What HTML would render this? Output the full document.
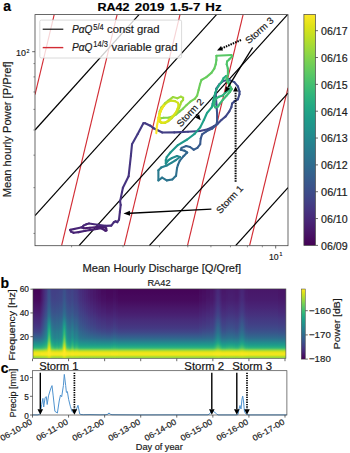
<!DOCTYPE html>
<html><head><meta charset="utf-8"><style>
html,body{margin:0;padding:0;background:#fff;width:350px;height:453px;overflow:hidden}
svg{display:block}
text{stroke:#1a1a1a;stroke-width:0.18px;paint-order:stroke}
</style></head><body>
<svg width="350" height="453" viewBox="0 0 350 453">
<rect width="350" height="453" fill="#fff"/>
<defs><clipPath id="ca"><rect x="35.0" y="14.6" width="253.0" height="231.1"/></clipPath>
<linearGradient id="vg" x1="0" y1="0" x2="0" y2="1"><stop offset="0.000" stop-color="#fde725"/><stop offset="0.050" stop-color="#dfe318"/><stop offset="0.100" stop-color="#bddf26"/><stop offset="0.150" stop-color="#9bd93c"/><stop offset="0.200" stop-color="#7ad151"/><stop offset="0.250" stop-color="#5ec962"/><stop offset="0.300" stop-color="#44bf70"/><stop offset="0.350" stop-color="#2fb47c"/><stop offset="0.400" stop-color="#22a884"/><stop offset="0.450" stop-color="#1e9c89"/><stop offset="0.500" stop-color="#21918c"/><stop offset="0.550" stop-color="#25848e"/><stop offset="0.600" stop-color="#2a788e"/><stop offset="0.650" stop-color="#2f6c8e"/><stop offset="0.700" stop-color="#355f8d"/><stop offset="0.750" stop-color="#3b528b"/><stop offset="0.800" stop-color="#414487"/><stop offset="0.850" stop-color="#463480"/><stop offset="0.900" stop-color="#482475"/><stop offset="0.950" stop-color="#471365"/><stop offset="1.000" stop-color="#440154"/></linearGradient>
</defs>
<g clip-path="url(#ca)">
<line x1="54.2" y1="14.6" x2="35" y2="94.6" stroke="#d22c34" stroke-width="1.15"/>
<line x1="117.1" y1="14.6" x2="61.6" y2="245.7" stroke="#d22c34" stroke-width="1.15"/>
<line x1="180" y1="14.6" x2="124.2" y2="245.7" stroke="#d22c34" stroke-width="1.15"/>
<line x1="243.1" y1="14.6" x2="187.5" y2="245.7" stroke="#d22c34" stroke-width="1.15"/>
<line x1="288" y1="87.8" x2="249.6" y2="245.7" stroke="#d22c34" stroke-width="1.15"/>
<line x1="35" y1="130" x2="139" y2="14.6" stroke="#000" stroke-width="1.2"/>
<line x1="35" y1="215.6" x2="216.5" y2="14.6" stroke="#000" stroke-width="1.2"/>
<line x1="79" y1="245.7" x2="287.5" y2="14.6" stroke="#000" stroke-width="1.2"/>
<line x1="149.3" y1="245.7" x2="288" y2="93.2" stroke="#000" stroke-width="1.2"/>
<line x1="235.6" y1="245.7" x2="288" y2="187.6" stroke="#000" stroke-width="1.2"/>
</g>
<g clip-path="url(#ca)"><line x1="81.3" y1="227.3" x2="83.9" y2="228.2" stroke="#481b6d" stroke-width="2.1" stroke-linecap="round" stroke-linejoin="round"/><line x1="83.9" y1="228.2" x2="90" y2="227.8" stroke="#481b6d" stroke-width="2.1" stroke-linecap="round" stroke-linejoin="round"/><line x1="90" y1="227.8" x2="97" y2="227" stroke="#481c6e" stroke-width="2.1" stroke-linecap="round" stroke-linejoin="round"/><line x1="97" y1="227" x2="103.6" y2="227" stroke="#481d6f" stroke-width="2.1" stroke-linecap="round" stroke-linejoin="round"/><line x1="103.6" y1="227" x2="106.2" y2="228.2" stroke="#481d6f" stroke-width="2.1" stroke-linecap="round" stroke-linejoin="round"/><line x1="106.2" y1="228.2" x2="106.5" y2="230.4" stroke="#481f70" stroke-width="2.1" stroke-linecap="round" stroke-linejoin="round"/><line x1="106.5" y1="230.4" x2="105.3" y2="230.7" stroke="#481f70" stroke-width="2.1" stroke-linecap="round" stroke-linejoin="round"/><line x1="105.3" y1="230.7" x2="102.7" y2="229" stroke="#481f70" stroke-width="2.1" stroke-linecap="round" stroke-linejoin="round"/><line x1="102.7" y1="229" x2="101" y2="228.2" stroke="#481f70" stroke-width="2.1" stroke-linecap="round" stroke-linejoin="round"/><line x1="101" y1="228.2" x2="96.7" y2="229" stroke="#482071" stroke-width="2.1" stroke-linecap="round" stroke-linejoin="round"/><line x1="96.7" y1="229" x2="90.7" y2="229.9" stroke="#482071" stroke-width="2.1" stroke-linecap="round" stroke-linejoin="round"/><line x1="90.7" y1="229.9" x2="85.6" y2="230.7" stroke="#482173" stroke-width="2.1" stroke-linecap="round" stroke-linejoin="round"/><line x1="85.6" y1="230.7" x2="78.7" y2="232.1" stroke="#482374" stroke-width="2.1" stroke-linecap="round" stroke-linejoin="round"/><line x1="78.7" y1="232.1" x2="73.6" y2="232.8" stroke="#482475" stroke-width="2.1" stroke-linecap="round" stroke-linejoin="round"/><line x1="73.6" y1="232.8" x2="71" y2="231.6" stroke="#482475" stroke-width="2.1" stroke-linecap="round" stroke-linejoin="round"/><line x1="71" y1="231.6" x2="70.1" y2="229.9" stroke="#482475" stroke-width="2.1" stroke-linecap="round" stroke-linejoin="round"/><line x1="70.1" y1="229.9" x2="82.2" y2="227.3" stroke="#482576" stroke-width="2.1" stroke-linecap="round" stroke-linejoin="round"/><line x1="82.2" y1="227.3" x2="83.5" y2="225.6" stroke="#482677" stroke-width="2.1" stroke-linecap="round" stroke-linejoin="round"/><line x1="83.5" y1="225.6" x2="86.4" y2="224.2" stroke="#482677" stroke-width="2.1" stroke-linecap="round" stroke-linejoin="round"/><line x1="86.4" y1="224.2" x2="89" y2="223.5" stroke="#482878" stroke-width="2.1" stroke-linecap="round" stroke-linejoin="round"/><line x1="89" y1="223.5" x2="97.6" y2="224.7" stroke="#482878" stroke-width="2.1" stroke-linecap="round" stroke-linejoin="round"/><line x1="97.6" y1="224.7" x2="105.3" y2="225.9" stroke="#482979" stroke-width="2.1" stroke-linecap="round" stroke-linejoin="round"/><line x1="105.3" y1="225.9" x2="111.3" y2="225.6" stroke="#472a7a" stroke-width="2.1" stroke-linecap="round" stroke-linejoin="round"/><line x1="111.3" y1="225.6" x2="113.9" y2="222.2" stroke="#472c7a" stroke-width="2.1" stroke-linecap="round" stroke-linejoin="round"/><line x1="113.9" y1="222.2" x2="115.6" y2="221.3" stroke="#472c7a" stroke-width="2.1" stroke-linecap="round" stroke-linejoin="round"/><line x1="115.6" y1="221.3" x2="117.3" y2="222.2" stroke="#472c7a" stroke-width="2.1" stroke-linecap="round" stroke-linejoin="round"/><line x1="117.3" y1="222.2" x2="119" y2="219.6" stroke="#472d7b" stroke-width="2.1" stroke-linecap="round" stroke-linejoin="round"/><line x1="119" y1="219.6" x2="119.9" y2="211.9" stroke="#472d7b" stroke-width="2.1" stroke-linecap="round" stroke-linejoin="round"/><line x1="119.9" y1="211.9" x2="120.7" y2="205" stroke="#472e7c" stroke-width="2.1" stroke-linecap="round" stroke-linejoin="round"/><line x1="120.7" y1="205" x2="120.1" y2="201.4" stroke="#472f7d" stroke-width="2.1" stroke-linecap="round" stroke-linejoin="round"/><line x1="120.1" y1="201.4" x2="122.9" y2="187.7" stroke="#46307e" stroke-width="2.1" stroke-linecap="round" stroke-linejoin="round"/><line x1="122.9" y1="187.7" x2="128.6" y2="176.3" stroke="#46337f" stroke-width="2.1" stroke-linecap="round" stroke-linejoin="round"/><line x1="128.6" y1="176.3" x2="130.9" y2="155.7" stroke="#463480" stroke-width="2.1" stroke-linecap="round" stroke-linejoin="round"/><line x1="130.9" y1="155.7" x2="132" y2="144.3" stroke="#453781" stroke-width="2.1" stroke-linecap="round" stroke-linejoin="round"/><line x1="132" y1="144.3" x2="137.7" y2="134" stroke="#443983" stroke-width="2.1" stroke-linecap="round" stroke-linejoin="round"/><line x1="137.7" y1="134" x2="143.4" y2="123.2" stroke="#443a83" stroke-width="2.1" stroke-linecap="round" stroke-linejoin="round"/><line x1="143.4" y1="123.2" x2="145.1" y2="123.2" stroke="#443b84" stroke-width="2.1" stroke-linecap="round" stroke-linejoin="round"/><line x1="145.1" y1="123.2" x2="150.3" y2="125.7" stroke="#443b84" stroke-width="2.1" stroke-linecap="round" stroke-linejoin="round"/><line x1="150.3" y1="125.7" x2="153.7" y2="128.3" stroke="#433d84" stroke-width="2.1" stroke-linecap="round" stroke-linejoin="round"/><line x1="153.7" y1="128.3" x2="157.2" y2="130" stroke="#433d84" stroke-width="2.1" stroke-linecap="round" stroke-linejoin="round"/><line x1="157.2" y1="130" x2="162.3" y2="132.5" stroke="#433e85" stroke-width="2.1" stroke-linecap="round" stroke-linejoin="round"/><line x1="162.3" y1="132.5" x2="174.3" y2="132.4" stroke="#423f85" stroke-width="2.1" stroke-linecap="round" stroke-linejoin="round"/><line x1="174.3" y1="132.4" x2="188" y2="131.7" stroke="#424086" stroke-width="2.1" stroke-linecap="round" stroke-linejoin="round"/><line x1="188" y1="131.7" x2="200" y2="131" stroke="#414287" stroke-width="2.1" stroke-linecap="round" stroke-linejoin="round"/><line x1="200" y1="131" x2="207.9" y2="129.3" stroke="#414487" stroke-width="2.1" stroke-linecap="round" stroke-linejoin="round"/><line x1="207.9" y1="129.3" x2="213.6" y2="126.4" stroke="#404588" stroke-width="2.1" stroke-linecap="round" stroke-linejoin="round"/><line x1="213.6" y1="126.4" x2="217.9" y2="123.6" stroke="#404588" stroke-width="2.1" stroke-linecap="round" stroke-linejoin="round"/><line x1="217.9" y1="123.6" x2="221.4" y2="120" stroke="#404688" stroke-width="2.1" stroke-linecap="round" stroke-linejoin="round"/><line x1="221.4" y1="120" x2="225.7" y2="116.4" stroke="#3f4788" stroke-width="2.1" stroke-linecap="round" stroke-linejoin="round"/><line x1="225.7" y1="116.4" x2="229.3" y2="111.4" stroke="#3f4788" stroke-width="2.1" stroke-linecap="round" stroke-linejoin="round"/><line x1="229.3" y1="111.4" x2="231.4" y2="107.1" stroke="#3f4889" stroke-width="2.1" stroke-linecap="round" stroke-linejoin="round"/><line x1="231.4" y1="107.1" x2="232.1" y2="103.6" stroke="#3f4889" stroke-width="2.1" stroke-linecap="round" stroke-linejoin="round"/><line x1="232.1" y1="103.6" x2="234.3" y2="101.4" stroke="#3e4989" stroke-width="2.1" stroke-linecap="round" stroke-linejoin="round"/><line x1="234.3" y1="101.4" x2="237.9" y2="99.3" stroke="#3e4989" stroke-width="2.1" stroke-linecap="round" stroke-linejoin="round"/><line x1="237.9" y1="99.3" x2="239.5" y2="94.3" stroke="#3e4a89" stroke-width="2.1" stroke-linecap="round" stroke-linejoin="round"/><line x1="239.5" y1="94.3" x2="239.5" y2="91.5" stroke="#3e4a89" stroke-width="2.1" stroke-linecap="round" stroke-linejoin="round"/><line x1="239.5" y1="91.5" x2="237.9" y2="86.4" stroke="#3e4c8a" stroke-width="2.1" stroke-linecap="round" stroke-linejoin="round"/><line x1="237.9" y1="86.4" x2="234.3" y2="82.1" stroke="#3e4c8a" stroke-width="2.1" stroke-linecap="round" stroke-linejoin="round"/><line x1="234.3" y1="82.1" x2="229.3" y2="80" stroke="#3d4d8a" stroke-width="2.1" stroke-linecap="round" stroke-linejoin="round"/><line x1="229.3" y1="80" x2="223.6" y2="80.7" stroke="#3d4e8a" stroke-width="2.1" stroke-linecap="round" stroke-linejoin="round"/><line x1="223.6" y1="80.7" x2="219.3" y2="84.3" stroke="#3d4e8a" stroke-width="2.1" stroke-linecap="round" stroke-linejoin="round"/><line x1="219.3" y1="84.3" x2="216.4" y2="88.6" stroke="#3c4f8a" stroke-width="2.1" stroke-linecap="round" stroke-linejoin="round"/><line x1="216.4" y1="88.6" x2="215.7" y2="92.9" stroke="#3c4f8a" stroke-width="2.1" stroke-linecap="round" stroke-linejoin="round"/><line x1="215.7" y1="92.9" x2="216.4" y2="104.3" stroke="#3c508b" stroke-width="2.1" stroke-linecap="round" stroke-linejoin="round"/><line x1="216.4" y1="104.3" x2="217.1" y2="112.9" stroke="#3b528b" stroke-width="2.1" stroke-linecap="round" stroke-linejoin="round"/><line x1="217.1" y1="112.9" x2="217.1" y2="121.4" stroke="#3a538b" stroke-width="2.1" stroke-linecap="round" stroke-linejoin="round"/><line x1="217.1" y1="121.4" x2="216.4" y2="125" stroke="#3a538b" stroke-width="2.1" stroke-linecap="round" stroke-linejoin="round"/><line x1="216.4" y1="125" x2="212.1" y2="128.6" stroke="#3a548c" stroke-width="2.1" stroke-linecap="round" stroke-linejoin="round"/><line x1="212.1" y1="128.6" x2="206.4" y2="131.4" stroke="#3a548c" stroke-width="2.1" stroke-linecap="round" stroke-linejoin="round"/><line x1="206.4" y1="131.4" x2="202.1" y2="134.3" stroke="#39558c" stroke-width="2.1" stroke-linecap="round" stroke-linejoin="round"/><line x1="202.1" y1="134.3" x2="200.7" y2="138.6" stroke="#39568c" stroke-width="2.1" stroke-linecap="round" stroke-linejoin="round"/><line x1="200.7" y1="138.6" x2="200.2" y2="144.2" stroke="#38588c" stroke-width="2.1" stroke-linecap="round" stroke-linejoin="round"/><line x1="200.2" y1="144.2" x2="197.4" y2="147.9" stroke="#375a8c" stroke-width="2.1" stroke-linecap="round" stroke-linejoin="round"/><line x1="197.4" y1="147.9" x2="193.7" y2="149.7" stroke="#365c8d" stroke-width="2.1" stroke-linecap="round" stroke-linejoin="round"/><line x1="193.7" y1="149.7" x2="190" y2="147" stroke="#365d8d" stroke-width="2.1" stroke-linecap="round" stroke-linejoin="round"/><line x1="190" y1="147" x2="186.2" y2="146" stroke="#355f8d" stroke-width="2.1" stroke-linecap="round" stroke-linejoin="round"/><line x1="186.2" y1="146" x2="181.6" y2="147.9" stroke="#34618d" stroke-width="2.1" stroke-linecap="round" stroke-linejoin="round"/><line x1="181.6" y1="147.9" x2="180.7" y2="149.7" stroke="#33628d" stroke-width="2.1" stroke-linecap="round" stroke-linejoin="round"/><line x1="180.7" y1="149.7" x2="184.4" y2="150.7" stroke="#33638d" stroke-width="2.1" stroke-linecap="round" stroke-linejoin="round"/><line x1="184.4" y1="150.7" x2="187.2" y2="152.5" stroke="#32658e" stroke-width="2.1" stroke-linecap="round" stroke-linejoin="round"/><line x1="187.2" y1="152.5" x2="183.5" y2="156.2" stroke="#31668e" stroke-width="2.1" stroke-linecap="round" stroke-linejoin="round"/><line x1="183.5" y1="156.2" x2="179.7" y2="160.9" stroke="#31688e" stroke-width="2.1" stroke-linecap="round" stroke-linejoin="round"/><line x1="179.7" y1="160.9" x2="177.9" y2="165" stroke="#2f6b8e" stroke-width="2.1" stroke-linecap="round" stroke-linejoin="round"/><line x1="177.9" y1="165" x2="177" y2="168.3" stroke="#2f6c8e" stroke-width="2.1" stroke-linecap="round" stroke-linejoin="round"/><line x1="177" y1="168.3" x2="176" y2="175.8" stroke="#2e6e8e" stroke-width="2.1" stroke-linecap="round" stroke-linejoin="round"/><line x1="176" y1="175.8" x2="172.3" y2="179.5" stroke="#2d718e" stroke-width="2.1" stroke-linecap="round" stroke-linejoin="round"/><line x1="172.3" y1="179.5" x2="166.7" y2="180.4" stroke="#2c728e" stroke-width="2.1" stroke-linecap="round" stroke-linejoin="round"/><line x1="166.7" y1="180.4" x2="162.1" y2="177.6" stroke="#2b748e" stroke-width="2.1" stroke-linecap="round" stroke-linejoin="round"/><line x1="162.1" y1="177.6" x2="158.4" y2="180.4" stroke="#2a768e" stroke-width="2.1" stroke-linecap="round" stroke-linejoin="round"/><line x1="158.4" y1="180.4" x2="158.4" y2="170.2" stroke="#29798e" stroke-width="2.1" stroke-linecap="round" stroke-linejoin="round"/><line x1="158.4" y1="170.2" x2="161.2" y2="167.4" stroke="#287d8e" stroke-width="2.1" stroke-linecap="round" stroke-linejoin="round"/><line x1="161.2" y1="167.4" x2="166.7" y2="165.5" stroke="#277f8e" stroke-width="2.1" stroke-linecap="round" stroke-linejoin="round"/><line x1="166.7" y1="165.5" x2="171.4" y2="162.8" stroke="#26828e" stroke-width="2.1" stroke-linecap="round" stroke-linejoin="round"/><line x1="171.4" y1="162.8" x2="176" y2="160" stroke="#25848e" stroke-width="2.1" stroke-linecap="round" stroke-linejoin="round"/><line x1="176" y1="160" x2="180" y2="157" stroke="#24868e" stroke-width="2.1" stroke-linecap="round" stroke-linejoin="round"/><line x1="180" y1="157" x2="177" y2="156" stroke="#23888e" stroke-width="2.1" stroke-linecap="round" stroke-linejoin="round"/><line x1="177" y1="156" x2="172" y2="158" stroke="#228b8d" stroke-width="2.1" stroke-linecap="round" stroke-linejoin="round"/><line x1="172" y1="158" x2="168.6" y2="160" stroke="#228d8d" stroke-width="2.1" stroke-linecap="round" stroke-linejoin="round"/><line x1="168.6" y1="160" x2="165.8" y2="163.7" stroke="#218f8d" stroke-width="2.1" stroke-linecap="round" stroke-linejoin="round"/><line x1="165.8" y1="163.7" x2="165.8" y2="160" stroke="#21918c" stroke-width="2.1" stroke-linecap="round" stroke-linejoin="round"/><line x1="165.8" y1="160" x2="166.7" y2="157.2" stroke="#20928c" stroke-width="2.1" stroke-linecap="round" stroke-linejoin="round"/><line x1="166.7" y1="157.2" x2="170.4" y2="152.5" stroke="#20938c" stroke-width="2.1" stroke-linecap="round" stroke-linejoin="round"/><line x1="170.4" y1="152.5" x2="177.9" y2="145.1" stroke="#1f958b" stroke-width="2.1" stroke-linecap="round" stroke-linejoin="round"/><line x1="177.9" y1="145.1" x2="187.2" y2="139.5" stroke="#1f988b" stroke-width="2.1" stroke-linecap="round" stroke-linejoin="round"/><line x1="187.2" y1="139.5" x2="194.6" y2="133.9" stroke="#1e9b8a" stroke-width="2.1" stroke-linecap="round" stroke-linejoin="round"/><line x1="194.6" y1="133.9" x2="200.2" y2="127.4" stroke="#1e9d89" stroke-width="2.1" stroke-linecap="round" stroke-linejoin="round"/><line x1="200.2" y1="127.4" x2="203.9" y2="120" stroke="#1f9f88" stroke-width="2.1" stroke-linecap="round" stroke-linejoin="round"/><line x1="203.9" y1="120" x2="207" y2="113" stroke="#1fa188" stroke-width="2.1" stroke-linecap="round" stroke-linejoin="round"/><line x1="207" y1="113" x2="211.7" y2="107.4" stroke="#1fa287" stroke-width="2.1" stroke-linecap="round" stroke-linejoin="round"/><line x1="211.7" y1="107.4" x2="212.6" y2="103.7" stroke="#20a386" stroke-width="2.1" stroke-linecap="round" stroke-linejoin="round"/><line x1="212.6" y1="103.7" x2="213.5" y2="100" stroke="#20a486" stroke-width="2.1" stroke-linecap="round" stroke-linejoin="round"/><line x1="213.5" y1="100" x2="214.4" y2="96.3" stroke="#21a585" stroke-width="2.1" stroke-linecap="round" stroke-linejoin="round"/><line x1="214.4" y1="96.3" x2="215.3" y2="92.7" stroke="#21a685" stroke-width="2.1" stroke-linecap="round" stroke-linejoin="round"/><line x1="215.3" y1="92.7" x2="216.7" y2="89" stroke="#22a785" stroke-width="2.1" stroke-linecap="round" stroke-linejoin="round"/><line x1="216.7" y1="89" x2="219" y2="85.3" stroke="#22a884" stroke-width="2.1" stroke-linecap="round" stroke-linejoin="round"/><line x1="219" y1="85.3" x2="221.8" y2="81.7" stroke="#23a983" stroke-width="2.1" stroke-linecap="round" stroke-linejoin="round"/><line x1="221.8" y1="81.7" x2="223.6" y2="78" stroke="#25ab82" stroke-width="2.1" stroke-linecap="round" stroke-linejoin="round"/><line x1="223.6" y1="78" x2="226" y2="76" stroke="#25ab82" stroke-width="2.1" stroke-linecap="round" stroke-linejoin="round"/><line x1="226" y1="76" x2="228" y2="79" stroke="#25ac82" stroke-width="2.1" stroke-linecap="round" stroke-linejoin="round"/><line x1="228" y1="79" x2="229" y2="84" stroke="#26ad81" stroke-width="2.1" stroke-linecap="round" stroke-linejoin="round"/><line x1="229" y1="84" x2="230.9" y2="88.1" stroke="#28ae80" stroke-width="2.1" stroke-linecap="round" stroke-linejoin="round"/><line x1="230.9" y1="88.1" x2="229.1" y2="89.9" stroke="#29af7f" stroke-width="2.1" stroke-linecap="round" stroke-linejoin="round"/><line x1="229.1" y1="89.9" x2="225.4" y2="92.7" stroke="#2ab07f" stroke-width="2.1" stroke-linecap="round" stroke-linejoin="round"/><line x1="225.4" y1="92.7" x2="222.7" y2="95.4" stroke="#2cb17e" stroke-width="2.1" stroke-linecap="round" stroke-linejoin="round"/><line x1="222.7" y1="95.4" x2="219" y2="96.8" stroke="#2db27d" stroke-width="2.1" stroke-linecap="round" stroke-linejoin="round"/><line x1="219" y1="96.8" x2="216.3" y2="98.2" stroke="#2fb47c" stroke-width="2.1" stroke-linecap="round" stroke-linejoin="round"/><line x1="216.3" y1="98.2" x2="214.4" y2="101.9" stroke="#31b57b" stroke-width="2.1" stroke-linecap="round" stroke-linejoin="round"/><line x1="214.4" y1="101.9" x2="214" y2="105.5" stroke="#32b67a" stroke-width="2.1" stroke-linecap="round" stroke-linejoin="round"/><line x1="214" y1="105.5" x2="215.3" y2="107.4" stroke="#34b679" stroke-width="2.1" stroke-linecap="round" stroke-linejoin="round"/><line x1="215.3" y1="107.4" x2="218.1" y2="106.4" stroke="#35b779" stroke-width="2.1" stroke-linecap="round" stroke-linejoin="round"/><line x1="218.1" y1="106.4" x2="219.9" y2="103.7" stroke="#37b878" stroke-width="2.1" stroke-linecap="round" stroke-linejoin="round"/><line x1="219.9" y1="103.7" x2="222.7" y2="100" stroke="#38b977" stroke-width="2.1" stroke-linecap="round" stroke-linejoin="round"/><line x1="222.7" y1="100" x2="226.3" y2="96" stroke="#3bbb75" stroke-width="2.1" stroke-linecap="round" stroke-linejoin="round"/><line x1="226.3" y1="96" x2="230" y2="91.8" stroke="#3dbc74" stroke-width="2.1" stroke-linecap="round" stroke-linejoin="round"/><line x1="230" y1="91.8" x2="231.9" y2="89" stroke="#40bd72" stroke-width="2.1" stroke-linecap="round" stroke-linejoin="round"/><line x1="231.9" y1="89" x2="230" y2="86" stroke="#42be71" stroke-width="2.1" stroke-linecap="round" stroke-linejoin="round"/><line x1="230" y1="86" x2="227.5" y2="82" stroke="#44bf70" stroke-width="2.1" stroke-linecap="round" stroke-linejoin="round"/><line x1="227.5" y1="82" x2="226.4" y2="79" stroke="#48c16e" stroke-width="2.1" stroke-linecap="round" stroke-linejoin="round"/><line x1="226.4" y1="79" x2="227.9" y2="74.3" stroke="#4ac16d" stroke-width="2.1" stroke-linecap="round" stroke-linejoin="round"/><line x1="227.9" y1="74.3" x2="227.9" y2="68.6" stroke="#4cc26c" stroke-width="2.1" stroke-linecap="round" stroke-linejoin="round"/><line x1="227.9" y1="68.6" x2="226.7" y2="64.3" stroke="#4ec36b" stroke-width="2.1" stroke-linecap="round" stroke-linejoin="round"/><line x1="226.7" y1="64.3" x2="227.1" y2="61.4" stroke="#50c46a" stroke-width="2.1" stroke-linecap="round" stroke-linejoin="round"/><line x1="227.1" y1="61.4" x2="229.3" y2="59.3" stroke="#50c46a" stroke-width="2.1" stroke-linecap="round" stroke-linejoin="round"/><line x1="229.3" y1="59.3" x2="232.1" y2="56.4" stroke="#52c569" stroke-width="2.1" stroke-linecap="round" stroke-linejoin="round"/><line x1="232.1" y1="56.4" x2="231.4" y2="55" stroke="#54c568" stroke-width="2.1" stroke-linecap="round" stroke-linejoin="round"/><line x1="231.4" y1="55" x2="216.4" y2="55.7" stroke="#58c765" stroke-width="2.1" stroke-linecap="round" stroke-linejoin="round"/><line x1="216.4" y1="55.7" x2="216.4" y2="60" stroke="#5cc863" stroke-width="2.1" stroke-linecap="round" stroke-linejoin="round"/><line x1="216.4" y1="60" x2="215.7" y2="64.3" stroke="#5ec962" stroke-width="2.1" stroke-linecap="round" stroke-linejoin="round"/><line x1="215.7" y1="64.3" x2="214.3" y2="68.6" stroke="#60ca60" stroke-width="2.1" stroke-linecap="round" stroke-linejoin="round"/><line x1="214.3" y1="68.6" x2="211.4" y2="72.9" stroke="#63cb5f" stroke-width="2.1" stroke-linecap="round" stroke-linejoin="round"/><line x1="211.4" y1="72.9" x2="206.4" y2="77.1" stroke="#65cb5e" stroke-width="2.1" stroke-linecap="round" stroke-linejoin="round"/><line x1="206.4" y1="77.1" x2="201.4" y2="80" stroke="#67cc5c" stroke-width="2.1" stroke-linecap="round" stroke-linejoin="round"/><line x1="201.4" y1="80" x2="200" y2="84.3" stroke="#69cd5b" stroke-width="2.1" stroke-linecap="round" stroke-linejoin="round"/><line x1="200" y1="84.3" x2="198.6" y2="90" stroke="#6ccd5a" stroke-width="2.1" stroke-linecap="round" stroke-linejoin="round"/><line x1="198.6" y1="90" x2="197.1" y2="95.7" stroke="#70cf57" stroke-width="2.1" stroke-linecap="round" stroke-linejoin="round"/><line x1="197.1" y1="95.7" x2="195" y2="98.6" stroke="#73d056" stroke-width="2.1" stroke-linecap="round" stroke-linejoin="round"/><line x1="195" y1="98.6" x2="190.3" y2="101.7" stroke="#75d054" stroke-width="2.1" stroke-linecap="round" stroke-linejoin="round"/><line x1="190.3" y1="101.7" x2="186.6" y2="105.1" stroke="#77d153" stroke-width="2.1" stroke-linecap="round" stroke-linejoin="round"/><line x1="186.6" y1="105.1" x2="183.1" y2="108.6" stroke="#7ad151" stroke-width="2.1" stroke-linecap="round" stroke-linejoin="round"/><line x1="183.1" y1="108.6" x2="179.7" y2="111.4" stroke="#7cd250" stroke-width="2.1" stroke-linecap="round" stroke-linejoin="round"/><line x1="179.7" y1="111.4" x2="176.3" y2="114.3" stroke="#7fd34e" stroke-width="2.1" stroke-linecap="round" stroke-linejoin="round"/><line x1="176.3" y1="114.3" x2="172.3" y2="116.6" stroke="#81d34d" stroke-width="2.1" stroke-linecap="round" stroke-linejoin="round"/><line x1="172.3" y1="116.6" x2="168.3" y2="117.7" stroke="#84d44b" stroke-width="2.1" stroke-linecap="round" stroke-linejoin="round"/><line x1="168.3" y1="117.7" x2="163.7" y2="117.7" stroke="#86d549" stroke-width="2.1" stroke-linecap="round" stroke-linejoin="round"/><line x1="163.7" y1="117.7" x2="160.9" y2="118.3" stroke="#89d548" stroke-width="2.1" stroke-linecap="round" stroke-linejoin="round"/><line x1="160.9" y1="118.3" x2="159.1" y2="120" stroke="#89d548" stroke-width="2.1" stroke-linecap="round" stroke-linejoin="round"/><line x1="159.1" y1="120" x2="159.1" y2="116" stroke="#8bd646" stroke-width="2.1" stroke-linecap="round" stroke-linejoin="round"/><line x1="159.1" y1="116" x2="159.7" y2="111.4" stroke="#8ed645" stroke-width="2.1" stroke-linecap="round" stroke-linejoin="round"/><line x1="159.7" y1="111.4" x2="161.4" y2="107.4" stroke="#90d743" stroke-width="2.1" stroke-linecap="round" stroke-linejoin="round"/><line x1="161.4" y1="107.4" x2="164.9" y2="103.4" stroke="#93d741" stroke-width="2.1" stroke-linecap="round" stroke-linejoin="round"/><line x1="164.9" y1="103.4" x2="168.3" y2="100.6" stroke="#95d840" stroke-width="2.1" stroke-linecap="round" stroke-linejoin="round"/><line x1="168.3" y1="100.6" x2="172.9" y2="97.1" stroke="#98d83e" stroke-width="2.1" stroke-linecap="round" stroke-linejoin="round"/><line x1="172.9" y1="97.1" x2="177.4" y2="98.3" stroke="#9bd93c" stroke-width="2.1" stroke-linecap="round" stroke-linejoin="round"/><line x1="177.4" y1="98.3" x2="180.9" y2="96.6" stroke="#9dd93b" stroke-width="2.1" stroke-linecap="round" stroke-linejoin="round"/><line x1="180.9" y1="96.6" x2="183.1" y2="97.7" stroke="#a0da39" stroke-width="2.1" stroke-linecap="round" stroke-linejoin="round"/><line x1="183.1" y1="97.7" x2="183.1" y2="100" stroke="#a2da37" stroke-width="2.1" stroke-linecap="round" stroke-linejoin="round"/><line x1="183.1" y1="100" x2="181.4" y2="101.7" stroke="#a2da37" stroke-width="2.1" stroke-linecap="round" stroke-linejoin="round"/><line x1="181.4" y1="101.7" x2="180.3" y2="104.6" stroke="#a5db36" stroke-width="2.1" stroke-linecap="round" stroke-linejoin="round"/><line x1="180.3" y1="104.6" x2="179.1" y2="108" stroke="#a8db34" stroke-width="2.1" stroke-linecap="round" stroke-linejoin="round"/><line x1="179.1" y1="108" x2="177.4" y2="111.4" stroke="#aadc32" stroke-width="2.1" stroke-linecap="round" stroke-linejoin="round"/><line x1="177.4" y1="111.4" x2="174.6" y2="114.9" stroke="#addc30" stroke-width="2.1" stroke-linecap="round" stroke-linejoin="round"/><line x1="174.6" y1="114.9" x2="171.7" y2="118.3" stroke="#b0dd2f" stroke-width="2.1" stroke-linecap="round" stroke-linejoin="round"/><line x1="171.7" y1="118.3" x2="168.3" y2="121.1" stroke="#b2dd2d" stroke-width="2.1" stroke-linecap="round" stroke-linejoin="round"/><line x1="168.3" y1="121.1" x2="164.9" y2="122.9" stroke="#b5de2b" stroke-width="2.1" stroke-linecap="round" stroke-linejoin="round"/><line x1="164.9" y1="122.9" x2="161.4" y2="122.9" stroke="#b5de2b" stroke-width="2.1" stroke-linecap="round" stroke-linejoin="round"/><line x1="161.4" y1="122.9" x2="159.1" y2="121.1" stroke="#b8de29" stroke-width="2.1" stroke-linecap="round" stroke-linejoin="round"/><line x1="159.1" y1="121.1" x2="158.6" y2="117.7" stroke="#bade28" stroke-width="2.1" stroke-linecap="round" stroke-linejoin="round"/><line x1="158.6" y1="117.7" x2="160.9" y2="110.3" stroke="#bddf26" stroke-width="2.1" stroke-linecap="round" stroke-linejoin="round"/><line x1="160.9" y1="110.3" x2="163.7" y2="105.7" stroke="#c2df23" stroke-width="2.1" stroke-linecap="round" stroke-linejoin="round"/><line x1="163.7" y1="105.7" x2="167.1" y2="102.3" stroke="#c5e021" stroke-width="2.1" stroke-linecap="round" stroke-linejoin="round"/><line x1="167.1" y1="102.3" x2="171.1" y2="100.6" stroke="#c8e020" stroke-width="2.1" stroke-linecap="round" stroke-linejoin="round"/><line x1="171.1" y1="100.6" x2="175.1" y2="101.1" stroke="#cae11f" stroke-width="2.1" stroke-linecap="round" stroke-linejoin="round"/><line x1="175.1" y1="101.1" x2="178" y2="102.9" stroke="#cde11d" stroke-width="2.1" stroke-linecap="round" stroke-linejoin="round"/><line x1="178" y1="102.9" x2="178.6" y2="105.7" stroke="#d0e11c" stroke-width="2.1" stroke-linecap="round" stroke-linejoin="round"/><line x1="178.6" y1="105.7" x2="177.4" y2="109.1" stroke="#d2e21b" stroke-width="2.1" stroke-linecap="round" stroke-linejoin="round"/><line x1="177.4" y1="109.1" x2="175.7" y2="112.6" stroke="#d5e21a" stroke-width="2.1" stroke-linecap="round" stroke-linejoin="round"/><line x1="175.7" y1="112.6" x2="172.9" y2="116" stroke="#d8e219" stroke-width="2.1" stroke-linecap="round" stroke-linejoin="round"/><line x1="172.9" y1="116" x2="169.4" y2="119.4" stroke="#dae319" stroke-width="2.1" stroke-linecap="round" stroke-linejoin="round"/><line x1="169.4" y1="119.4" x2="166" y2="122.3" stroke="#dde318" stroke-width="2.1" stroke-linecap="round" stroke-linejoin="round"/><line x1="166" y1="122.3" x2="162.6" y2="122.9" stroke="#dfe318" stroke-width="2.1" stroke-linecap="round" stroke-linejoin="round"/><line x1="162.6" y1="122.9" x2="160.3" y2="121.7" stroke="#e2e418" stroke-width="2.1" stroke-linecap="round" stroke-linejoin="round"/><line x1="160.3" y1="121.7" x2="159.7" y2="118.3" stroke="#e2e418" stroke-width="2.1" stroke-linecap="round" stroke-linejoin="round"/><line x1="159.7" y1="118.3" x2="159.1" y2="114.9" stroke="#e5e419" stroke-width="2.1" stroke-linecap="round" stroke-linejoin="round"/><line x1="159.1" y1="114.9" x2="160.9" y2="110.3" stroke="#e7e419" stroke-width="2.1" stroke-linecap="round" stroke-linejoin="round"/><line x1="160.9" y1="110.3" x2="163.7" y2="105.7" stroke="#ece51b" stroke-width="2.1" stroke-linecap="round" stroke-linejoin="round"/><line x1="163.7" y1="105.7" x2="162" y2="108" stroke="#efe51c" stroke-width="2.1" stroke-linecap="round" stroke-linejoin="round"/><line x1="162" y1="108" x2="159.1" y2="114.9" stroke="#f1e51d" stroke-width="2.1" stroke-linecap="round" stroke-linejoin="round"/><line x1="159.1" y1="114.9" x2="158" y2="120.6" stroke="#f6e620" stroke-width="2.1" stroke-linecap="round" stroke-linejoin="round"/><line x1="158" y1="120.6" x2="156.9" y2="126.3" stroke="#f8e621" stroke-width="2.1" stroke-linecap="round" stroke-linejoin="round"/><line x1="156.9" y1="126.3" x2="156.3" y2="133.1" stroke="#fde725" stroke-width="2.1" stroke-linecap="round" stroke-linejoin="round"/></g>
<line x1="211.4" y1="209.1" x2="129.99" y2="213.18" stroke="#000" stroke-width="1.4"/><polygon points="123.5,213.5 129.87,210.68 130.12,215.67" fill="#000"/><line x1="235.6" y1="181.8" x2="235.60" y2="91.60" stroke="#000" stroke-width="2.0" stroke-dasharray="1.5 1.0"/><polygon points="235.6,86.3 238.10,91.60 233.10,91.60" fill="#000"/><line x1="252.6" y1="47.5" x2="227.95" y2="87.49" stroke="#000" stroke-width="1.4"/><polygon points="224.8,92.6 225.82,86.18 230.08,88.80" fill="#000"/><line x1="241" y1="40" x2="222.04" y2="48.30" stroke="#000" stroke-width="2.0" stroke-dasharray="1.5 1.0"/><polygon points="217,50.5 221.04,46.01 223.04,50.59" fill="#000"/><line x1="196" y1="114.5" x2="197.20" y2="115.96" stroke="#000" stroke-width="1.2"/><polygon points="200.7,120.2 195.27,117.55 199.13,114.37" fill="#000"/><text transform="translate(229.5,199.2) rotate(-47)" x="-17.25" y="3.38" font-family="Liberation Sans, sans-serif" font-size="9.4" fill="#1a1a1a" textLength="34.5" lengthAdjust="spacingAndGlyphs">Storm 1</text><text transform="translate(190,112.5) rotate(-47)" x="-17.25" y="3.38" font-family="Liberation Sans, sans-serif" font-size="9.4" fill="#1a1a1a" textLength="34.5" lengthAdjust="spacingAndGlyphs">Storm 2</text><text transform="translate(259.3,30.3) rotate(-42)" x="-17.25" y="3.38" font-family="Liberation Sans, sans-serif" font-size="9.4" fill="#1a1a1a" textLength="34.5" lengthAdjust="spacingAndGlyphs">Storm 3</text>
<rect x="39.8" y="20.1" width="141.8" height="37.9" rx="1.5" fill="#fff" fill-opacity="0.8" stroke="#d0d0d0" stroke-width="0.8"/>
<line x1="42.7" y1="29.2" x2="63.3" y2="29.2" stroke="#000" stroke-width="1.1"/>
<line x1="42.7" y1="47.6" x2="63.3" y2="47.6" stroke="#d22c34" stroke-width="1.4"/>
<text x="71.9" y="33.1" font-family="Liberation Sans, sans-serif" font-size="10.9" font-style="italic" fill="#1a1a1a" textLength="20.5" lengthAdjust="spacingAndGlyphs">PαQ</text>
<text x="93.3" y="29.5" font-family="Liberation Sans, sans-serif" font-size="8.3" fill="#1a1a1a" textLength="10.3" lengthAdjust="spacingAndGlyphs">5/4</text>
<text x="107" y="33.1" font-family="Liberation Sans, sans-serif" font-size="10.5" fill="#1a1a1a" textLength="52.6" lengthAdjust="spacingAndGlyphs">const grad</text>
<text x="71.9" y="50.9" font-family="Liberation Sans, sans-serif" font-size="10.9" font-style="italic" fill="#1a1a1a" textLength="20.5" lengthAdjust="spacingAndGlyphs">PαQ</text>
<text x="93.3" y="47.3" font-family="Liberation Sans, sans-serif" font-size="8.3" fill="#1a1a1a" textLength="14.6" lengthAdjust="spacingAndGlyphs">14/3</text>
<text x="111.6" y="50.9" font-family="Liberation Sans, sans-serif" font-size="10.5" fill="#1a1a1a" textLength="66.0" lengthAdjust="spacingAndGlyphs">variable grad</text>
<rect x="35.0" y="14.6" width="253.0" height="231.1" fill="none" stroke="#444" stroke-width="0.8"/>
<line x1="71.60" y1="245.7" x2="71.60" y2="247.29999999999998" stroke="#444" stroke-width="0.6"/>
<line x1="123.02" y1="245.7" x2="123.02" y2="247.29999999999998" stroke="#444" stroke-width="0.6"/>
<line x1="159.50" y1="245.7" x2="159.50" y2="247.29999999999998" stroke="#444" stroke-width="0.6"/>
<line x1="187.80" y1="245.7" x2="187.80" y2="247.29999999999998" stroke="#444" stroke-width="0.6"/>
<line x1="210.92" y1="245.7" x2="210.92" y2="247.29999999999998" stroke="#444" stroke-width="0.6"/>
<line x1="230.47" y1="245.7" x2="230.47" y2="247.29999999999998" stroke="#444" stroke-width="0.6"/>
<line x1="247.40" y1="245.7" x2="247.40" y2="247.29999999999998" stroke="#444" stroke-width="0.6"/>
<line x1="262.34" y1="245.7" x2="262.34" y2="247.29999999999998" stroke="#444" stroke-width="0.6"/>
<line x1="275.70" y1="245.7" x2="275.70" y2="248.5" stroke="#444" stroke-width="0.8"/>
<line x1="33.4" y1="233.43" x2="35.0" y2="233.43" stroke="#444" stroke-width="0.6"/>
<line x1="33.4" y1="187.65" x2="35.0" y2="187.65" stroke="#444" stroke-width="0.6"/>
<line x1="33.4" y1="155.16" x2="35.0" y2="155.16" stroke="#444" stroke-width="0.6"/>
<line x1="33.4" y1="129.97" x2="35.0" y2="129.97" stroke="#444" stroke-width="0.6"/>
<line x1="33.4" y1="109.38" x2="35.0" y2="109.38" stroke="#444" stroke-width="0.6"/>
<line x1="33.4" y1="91.97" x2="35.0" y2="91.97" stroke="#444" stroke-width="0.6"/>
<line x1="33.4" y1="76.90" x2="35.0" y2="76.90" stroke="#444" stroke-width="0.6"/>
<line x1="33.4" y1="63.60" x2="35.0" y2="63.60" stroke="#444" stroke-width="0.6"/>
<line x1="32.2" y1="51.70" x2="35.0" y2="51.70" stroke="#444" stroke-width="0.8"/>
<text x="269" y="259.5" font-family="Liberation Sans, sans-serif" font-size="9" fill="#1a1a1a" textLength="9.7" lengthAdjust="spacingAndGlyphs">10</text><text x="279.6" y="256.1" font-family="Liberation Sans, sans-serif" font-size="5.2" fill="#1a1a1a">1</text>
<text x="16" y="56.1" font-family="Liberation Sans, sans-serif" font-size="9" fill="#1a1a1a" textLength="9.9" lengthAdjust="spacingAndGlyphs">10</text><text x="26.6" y="53.3" font-family="Liberation Sans, sans-serif" font-size="5.2" fill="#1a1a1a">2</text>
<text x="82.5" y="271.8" font-family="Liberation Sans, sans-serif" font-size="10.3" fill="#1a1a1a" textLength="158.7" lengthAdjust="spacingAndGlyphs">Mean Hourly Discharge [Q/Qref]</text>
<text transform="translate(10.6,197.3) rotate(-90)" x="0" y="0" font-family="Liberation Sans, sans-serif" font-size="10.3" fill="#1a1a1a" textLength="136" lengthAdjust="spacingAndGlyphs">Mean hourly Power [P/Pref]</text>
<text x="97.4" y="10.5" font-family="Liberation Sans, sans-serif" font-size="11.4" font-weight="bold" fill="#000" textLength="32.0" lengthAdjust="spacingAndGlyphs">RA42</text>
<text x="134.8" y="10.5" font-family="Liberation Sans, sans-serif" font-size="11.4" font-weight="bold" fill="#000" textLength="29.6" lengthAdjust="spacingAndGlyphs">2019</text>
<text x="170.1" y="10.5" font-family="Liberation Sans, sans-serif" font-size="11.4" font-weight="bold" fill="#000" textLength="30.2" lengthAdjust="spacingAndGlyphs">1.5-7</text>
<text x="205.3" y="10.5" font-family="Liberation Sans, sans-serif" font-size="11.4" font-weight="bold" fill="#000" textLength="16.3" lengthAdjust="spacingAndGlyphs">Hz</text>
<text x="3.2" y="10.6" font-family="Liberation Sans, sans-serif" font-size="14" font-weight="bold" fill="#000">a</text>
<rect x="303.9" y="14.4" width="11.5" height="231.0" fill="url(#vg)" stroke="#444" stroke-width="0.7"/>
<line x1="315.4" y1="245.40" x2="318.0" y2="245.40" stroke="#444" stroke-width="0.8"/>
<text x="321.1" y="249.70" font-family="Liberation Sans, sans-serif" font-size="10.2" fill="#1a1a1a" textLength="26.6" lengthAdjust="spacingAndGlyphs">06/09</text>
<line x1="315.4" y1="218.56" x2="318.0" y2="218.56" stroke="#444" stroke-width="0.8"/>
<text x="321.1" y="222.86" font-family="Liberation Sans, sans-serif" font-size="10.2" fill="#1a1a1a" textLength="26.6" lengthAdjust="spacingAndGlyphs">06/10</text>
<line x1="315.4" y1="191.72" x2="318.0" y2="191.72" stroke="#444" stroke-width="0.8"/>
<text x="321.1" y="196.02" font-family="Liberation Sans, sans-serif" font-size="10.2" fill="#1a1a1a" textLength="26.6" lengthAdjust="spacingAndGlyphs">06/11</text>
<line x1="315.4" y1="164.88" x2="318.0" y2="164.88" stroke="#444" stroke-width="0.8"/>
<text x="321.1" y="169.18" font-family="Liberation Sans, sans-serif" font-size="10.2" fill="#1a1a1a" textLength="26.6" lengthAdjust="spacingAndGlyphs">06/12</text>
<line x1="315.4" y1="138.04" x2="318.0" y2="138.04" stroke="#444" stroke-width="0.8"/>
<text x="321.1" y="142.34" font-family="Liberation Sans, sans-serif" font-size="10.2" fill="#1a1a1a" textLength="26.6" lengthAdjust="spacingAndGlyphs">06/13</text>
<line x1="315.4" y1="111.20" x2="318.0" y2="111.20" stroke="#444" stroke-width="0.8"/>
<text x="321.1" y="115.50" font-family="Liberation Sans, sans-serif" font-size="10.2" fill="#1a1a1a" textLength="26.6" lengthAdjust="spacingAndGlyphs">06/14</text>
<line x1="315.4" y1="84.36" x2="318.0" y2="84.36" stroke="#444" stroke-width="0.8"/>
<text x="321.1" y="88.66" font-family="Liberation Sans, sans-serif" font-size="10.2" fill="#1a1a1a" textLength="26.6" lengthAdjust="spacingAndGlyphs">06/15</text>
<line x1="315.4" y1="57.52" x2="318.0" y2="57.52" stroke="#444" stroke-width="0.8"/>
<text x="321.1" y="61.82" font-family="Liberation Sans, sans-serif" font-size="10.2" fill="#1a1a1a" textLength="26.6" lengthAdjust="spacingAndGlyphs">06/16</text>
<line x1="315.4" y1="30.68" x2="318.0" y2="30.68" stroke="#444" stroke-width="0.8"/>
<text x="321.1" y="34.98" font-family="Liberation Sans, sans-serif" font-size="10.2" fill="#1a1a1a" textLength="26.6" lengthAdjust="spacingAndGlyphs">06/17</text>
<text x="0.5" y="287.6" font-family="Liberation Sans, sans-serif" font-size="14" font-weight="bold" fill="#000">b</text>
<defs><linearGradient id="s0" x1="0" y1="0" x2="0" y2="1"><stop offset="0.000" stop-color="#450457"/><stop offset="0.044" stop-color="#450559"/><stop offset="0.102" stop-color="#46085c"/><stop offset="0.159" stop-color="#460a5d"/><stop offset="0.217" stop-color="#471063"/><stop offset="0.274" stop-color="#481668"/><stop offset="0.331" stop-color="#481c6e"/><stop offset="0.389" stop-color="#482374"/><stop offset="0.446" stop-color="#472a7a"/><stop offset="0.504" stop-color="#46307e"/><stop offset="0.561" stop-color="#443983"/><stop offset="0.618" stop-color="#404588"/><stop offset="0.661" stop-color="#3a548c"/><stop offset="0.704" stop-color="#32648e"/><stop offset="0.747" stop-color="#297a8e"/><stop offset="0.776" stop-color="#228b8d"/><stop offset="0.798" stop-color="#1f978b"/><stop offset="0.819" stop-color="#20a386"/><stop offset="0.834" stop-color="#26ad81"/><stop offset="0.848" stop-color="#32b67a"/><stop offset="0.862" stop-color="#58c765"/><stop offset="0.877" stop-color="#8ed645"/><stop offset="0.891" stop-color="#bddf26"/><stop offset="0.905" stop-color="#dfe318"/><stop offset="0.920" stop-color="#f1e51d"/><stop offset="0.934" stop-color="#f1e51d"/><stop offset="0.948" stop-color="#f1e51d"/><stop offset="0.963" stop-color="#cae11f"/><stop offset="0.977" stop-color="#a2da37"/><stop offset="1.000" stop-color="#86d549"/></linearGradient><linearGradient id="s1" x1="0" y1="0" x2="0" y2="1"><stop offset="0.000" stop-color="#460a5d"/><stop offset="0.044" stop-color="#460b5e"/><stop offset="0.102" stop-color="#470d60"/><stop offset="0.159" stop-color="#470e61"/><stop offset="0.217" stop-color="#481668"/><stop offset="0.274" stop-color="#481b6d"/><stop offset="0.331" stop-color="#482071"/><stop offset="0.389" stop-color="#482878"/><stop offset="0.446" stop-color="#472f7d"/><stop offset="0.504" stop-color="#453581"/><stop offset="0.561" stop-color="#433e85"/><stop offset="0.618" stop-color="#3e4a89"/><stop offset="0.661" stop-color="#38598c"/><stop offset="0.704" stop-color="#31688e"/><stop offset="0.747" stop-color="#287d8e"/><stop offset="0.776" stop-color="#228d8d"/><stop offset="0.798" stop-color="#1f988b"/><stop offset="0.819" stop-color="#20a486"/><stop offset="0.834" stop-color="#28ae80"/><stop offset="0.848" stop-color="#35b779"/><stop offset="0.862" stop-color="#5ac864"/><stop offset="0.877" stop-color="#90d743"/><stop offset="0.891" stop-color="#bddf26"/><stop offset="0.905" stop-color="#dfe318"/><stop offset="0.920" stop-color="#f1e51d"/><stop offset="0.934" stop-color="#f1e51d"/><stop offset="0.948" stop-color="#f1e51d"/><stop offset="0.963" stop-color="#cae11f"/><stop offset="0.977" stop-color="#a2da37"/><stop offset="1.000" stop-color="#89d548"/></linearGradient><linearGradient id="s2" x1="0" y1="0" x2="0" y2="1"><stop offset="0.000" stop-color="#471164"/><stop offset="0.044" stop-color="#471365"/><stop offset="0.102" stop-color="#481668"/><stop offset="0.159" stop-color="#481769"/><stop offset="0.217" stop-color="#481c6e"/><stop offset="0.274" stop-color="#482374"/><stop offset="0.331" stop-color="#482878"/><stop offset="0.389" stop-color="#472f7d"/><stop offset="0.446" stop-color="#453781"/><stop offset="0.504" stop-color="#433e85"/><stop offset="0.561" stop-color="#404688"/><stop offset="0.618" stop-color="#3b518b"/><stop offset="0.661" stop-color="#355e8d"/><stop offset="0.704" stop-color="#2f6c8e"/><stop offset="0.747" stop-color="#27808e"/><stop offset="0.776" stop-color="#218f8d"/><stop offset="0.798" stop-color="#1f9a8a"/><stop offset="0.819" stop-color="#21a685"/><stop offset="0.834" stop-color="#29af7f"/><stop offset="0.848" stop-color="#37b878"/><stop offset="0.862" stop-color="#5cc863"/><stop offset="0.877" stop-color="#90d743"/><stop offset="0.891" stop-color="#c0df25"/><stop offset="0.905" stop-color="#dfe318"/><stop offset="0.920" stop-color="#f4e61e"/><stop offset="0.934" stop-color="#f4e61e"/><stop offset="0.948" stop-color="#f4e61e"/><stop offset="0.963" stop-color="#cae11f"/><stop offset="0.977" stop-color="#a2da37"/><stop offset="1.000" stop-color="#89d548"/></linearGradient><linearGradient id="s3" x1="0" y1="0" x2="0" y2="1"><stop offset="0.000" stop-color="#481a6c"/><stop offset="0.044" stop-color="#481c6e"/><stop offset="0.102" stop-color="#481d6f"/><stop offset="0.159" stop-color="#481f70"/><stop offset="0.217" stop-color="#482576"/><stop offset="0.274" stop-color="#472a7a"/><stop offset="0.331" stop-color="#46307e"/><stop offset="0.389" stop-color="#453781"/><stop offset="0.446" stop-color="#423f85"/><stop offset="0.504" stop-color="#404688"/><stop offset="0.561" stop-color="#3d4e8a"/><stop offset="0.618" stop-color="#375a8c"/><stop offset="0.661" stop-color="#32658e"/><stop offset="0.704" stop-color="#2d718e"/><stop offset="0.747" stop-color="#25838e"/><stop offset="0.776" stop-color="#20928c"/><stop offset="0.798" stop-color="#1e9d89"/><stop offset="0.819" stop-color="#22a884"/><stop offset="0.834" stop-color="#2cb17e"/><stop offset="0.848" stop-color="#3aba76"/><stop offset="0.862" stop-color="#5ec962"/><stop offset="0.877" stop-color="#93d741"/><stop offset="0.891" stop-color="#c0df25"/><stop offset="0.905" stop-color="#dfe318"/><stop offset="0.920" stop-color="#f4e61e"/><stop offset="0.934" stop-color="#f4e61e"/><stop offset="0.948" stop-color="#f4e61e"/><stop offset="0.963" stop-color="#cde11d"/><stop offset="0.977" stop-color="#a5db36"/><stop offset="1.000" stop-color="#89d548"/></linearGradient><linearGradient id="s4" x1="0" y1="0" x2="0" y2="1"><stop offset="0.000" stop-color="#482374"/><stop offset="0.044" stop-color="#482475"/><stop offset="0.102" stop-color="#482576"/><stop offset="0.159" stop-color="#482878"/><stop offset="0.217" stop-color="#472d7b"/><stop offset="0.274" stop-color="#46337f"/><stop offset="0.331" stop-color="#453882"/><stop offset="0.389" stop-color="#423f85"/><stop offset="0.446" stop-color="#3f4788"/><stop offset="0.504" stop-color="#3c4f8a"/><stop offset="0.561" stop-color="#39568c"/><stop offset="0.618" stop-color="#33628d"/><stop offset="0.661" stop-color="#2f6c8e"/><stop offset="0.704" stop-color="#2a778e"/><stop offset="0.747" stop-color="#23888e"/><stop offset="0.776" stop-color="#1f968b"/><stop offset="0.798" stop-color="#1fa188"/><stop offset="0.819" stop-color="#25ab82"/><stop offset="0.834" stop-color="#2fb47c"/><stop offset="0.848" stop-color="#3fbc73"/><stop offset="0.862" stop-color="#65cb5e"/><stop offset="0.877" stop-color="#98d83e"/><stop offset="0.891" stop-color="#c2df23"/><stop offset="0.905" stop-color="#e2e418"/><stop offset="0.920" stop-color="#f4e61e"/><stop offset="0.934" stop-color="#f4e61e"/><stop offset="0.948" stop-color="#f4e61e"/><stop offset="0.963" stop-color="#cde11d"/><stop offset="0.977" stop-color="#a5db36"/><stop offset="1.000" stop-color="#8bd646"/></linearGradient><linearGradient id="s5" x1="0" y1="0" x2="0" y2="1"><stop offset="0.000" stop-color="#472a7a"/><stop offset="0.044" stop-color="#472c7a"/><stop offset="0.102" stop-color="#472e7c"/><stop offset="0.159" stop-color="#46307e"/><stop offset="0.217" stop-color="#453581"/><stop offset="0.274" stop-color="#443a83"/><stop offset="0.331" stop-color="#424086"/><stop offset="0.389" stop-color="#3f4788"/><stop offset="0.446" stop-color="#3c508b"/><stop offset="0.504" stop-color="#38588c"/><stop offset="0.561" stop-color="#34608d"/><stop offset="0.618" stop-color="#2f6b8e"/><stop offset="0.661" stop-color="#2c738e"/><stop offset="0.704" stop-color="#277e8e"/><stop offset="0.747" stop-color="#218e8d"/><stop offset="0.776" stop-color="#1e9b8a"/><stop offset="0.798" stop-color="#20a486"/><stop offset="0.819" stop-color="#28ae80"/><stop offset="0.834" stop-color="#35b779"/><stop offset="0.848" stop-color="#44bf70"/><stop offset="0.862" stop-color="#69cd5b"/><stop offset="0.877" stop-color="#9dd93b"/><stop offset="0.891" stop-color="#c5e021"/><stop offset="0.905" stop-color="#e2e418"/><stop offset="0.920" stop-color="#f4e61e"/><stop offset="0.934" stop-color="#f4e61e"/><stop offset="0.948" stop-color="#f4e61e"/><stop offset="0.963" stop-color="#d0e11c"/><stop offset="0.977" stop-color="#a8db34"/><stop offset="1.000" stop-color="#8ed645"/></linearGradient><linearGradient id="s6" x1="0" y1="0" x2="0" y2="1"><stop offset="0.000" stop-color="#46327e"/><stop offset="0.044" stop-color="#463480"/><stop offset="0.102" stop-color="#453581"/><stop offset="0.159" stop-color="#453882"/><stop offset="0.217" stop-color="#433d84"/><stop offset="0.274" stop-color="#414287"/><stop offset="0.331" stop-color="#3f4889"/><stop offset="0.389" stop-color="#3c4f8a"/><stop offset="0.446" stop-color="#38598c"/><stop offset="0.504" stop-color="#34618d"/><stop offset="0.561" stop-color="#30698e"/><stop offset="0.618" stop-color="#2b748e"/><stop offset="0.661" stop-color="#287c8e"/><stop offset="0.704" stop-color="#25858e"/><stop offset="0.747" stop-color="#1f948c"/><stop offset="0.776" stop-color="#1fa188"/><stop offset="0.798" stop-color="#24aa83"/><stop offset="0.819" stop-color="#2eb37c"/><stop offset="0.834" stop-color="#3bbb75"/><stop offset="0.848" stop-color="#4ec36b"/><stop offset="0.862" stop-color="#73d056"/><stop offset="0.877" stop-color="#a2da37"/><stop offset="0.891" stop-color="#cae11f"/><stop offset="0.905" stop-color="#e5e419"/><stop offset="0.920" stop-color="#f4e61e"/><stop offset="0.934" stop-color="#f4e61e"/><stop offset="0.948" stop-color="#f4e61e"/><stop offset="0.963" stop-color="#d2e21b"/><stop offset="0.977" stop-color="#aadc32"/><stop offset="1.000" stop-color="#8ed645"/></linearGradient><linearGradient id="s7" x1="0" y1="0" x2="0" y2="1"><stop offset="0.000" stop-color="#443983"/><stop offset="0.044" stop-color="#443a83"/><stop offset="0.102" stop-color="#433d84"/><stop offset="0.159" stop-color="#423f85"/><stop offset="0.217" stop-color="#414487"/><stop offset="0.274" stop-color="#3e4989"/><stop offset="0.331" stop-color="#3c4f8a"/><stop offset="0.389" stop-color="#39558c"/><stop offset="0.446" stop-color="#34608d"/><stop offset="0.504" stop-color="#30698e"/><stop offset="0.561" stop-color="#2c718e"/><stop offset="0.618" stop-color="#287c8e"/><stop offset="0.661" stop-color="#25838e"/><stop offset="0.704" stop-color="#228c8d"/><stop offset="0.747" stop-color="#1f9a8a"/><stop offset="0.776" stop-color="#21a685"/><stop offset="0.798" stop-color="#28ae80"/><stop offset="0.819" stop-color="#35b779"/><stop offset="0.834" stop-color="#44bf70"/><stop offset="0.848" stop-color="#56c667"/><stop offset="0.862" stop-color="#7cd250"/><stop offset="0.877" stop-color="#aadc32"/><stop offset="0.891" stop-color="#cde11d"/><stop offset="0.905" stop-color="#e7e419"/><stop offset="0.920" stop-color="#f6e620"/><stop offset="0.934" stop-color="#f6e620"/><stop offset="0.948" stop-color="#f6e620"/><stop offset="0.963" stop-color="#d5e21a"/><stop offset="0.977" stop-color="#addc30"/><stop offset="1.000" stop-color="#90d743"/></linearGradient><linearGradient id="s8" x1="0" y1="0" x2="0" y2="1"><stop offset="0.000" stop-color="#414487"/><stop offset="0.044" stop-color="#404688"/><stop offset="0.102" stop-color="#3f4889"/><stop offset="0.159" stop-color="#3e4a89"/><stop offset="0.217" stop-color="#3c508b"/><stop offset="0.274" stop-color="#39558c"/><stop offset="0.331" stop-color="#365c8d"/><stop offset="0.389" stop-color="#32648e"/><stop offset="0.446" stop-color="#2d718e"/><stop offset="0.504" stop-color="#277e8e"/><stop offset="0.561" stop-color="#23898e"/><stop offset="0.618" stop-color="#1f958b"/><stop offset="0.661" stop-color="#1e9d89"/><stop offset="0.704" stop-color="#21a685"/><stop offset="0.747" stop-color="#2eb37c"/><stop offset="0.776" stop-color="#42be71"/><stop offset="0.798" stop-color="#54c568"/><stop offset="0.819" stop-color="#69cd5b"/><stop offset="0.834" stop-color="#7ad151"/><stop offset="0.848" stop-color="#8ed645"/><stop offset="0.862" stop-color="#aadc32"/><stop offset="0.877" stop-color="#cae11f"/><stop offset="0.891" stop-color="#dfe318"/><stop offset="0.905" stop-color="#efe51c"/><stop offset="0.920" stop-color="#f8e621"/><stop offset="0.934" stop-color="#f8e621"/><stop offset="0.948" stop-color="#f8e621"/><stop offset="0.963" stop-color="#dfe318"/><stop offset="0.977" stop-color="#b8de29"/><stop offset="1.000" stop-color="#9dd93b"/></linearGradient><linearGradient id="s9" x1="0" y1="0" x2="0" y2="1"><stop offset="0.000" stop-color="#3d4d8a"/><stop offset="0.044" stop-color="#3c4f8a"/><stop offset="0.102" stop-color="#3b528b"/><stop offset="0.159" stop-color="#3a548c"/><stop offset="0.217" stop-color="#375a8c"/><stop offset="0.274" stop-color="#355f8d"/><stop offset="0.331" stop-color="#31678e"/><stop offset="0.389" stop-color="#2d718e"/><stop offset="0.446" stop-color="#27808e"/><stop offset="0.504" stop-color="#20928c"/><stop offset="0.561" stop-color="#1fa187"/><stop offset="0.618" stop-color="#27ad81"/><stop offset="0.661" stop-color="#34b679"/><stop offset="0.704" stop-color="#48c16e"/><stop offset="0.747" stop-color="#63cb5f"/><stop offset="0.776" stop-color="#81d34d"/><stop offset="0.798" stop-color="#98d83e"/><stop offset="0.819" stop-color="#b2dd2d"/><stop offset="0.834" stop-color="#c2df23"/><stop offset="0.848" stop-color="#d2e21b"/><stop offset="0.862" stop-color="#e2e418"/><stop offset="0.877" stop-color="#efe51c"/><stop offset="0.891" stop-color="#f6e620"/><stop offset="0.905" stop-color="#fbe723"/><stop offset="0.920" stop-color="#fde725"/><stop offset="0.934" stop-color="#fde725"/><stop offset="0.948" stop-color="#fde725"/><stop offset="0.963" stop-color="#eae51a"/><stop offset="0.977" stop-color="#c8e020"/><stop offset="1.000" stop-color="#aadc32"/></linearGradient><linearGradient id="s10" x1="0" y1="0" x2="0" y2="1"><stop offset="0.000" stop-color="#3c4f8a"/><stop offset="0.044" stop-color="#3b518b"/><stop offset="0.102" stop-color="#3a538b"/><stop offset="0.159" stop-color="#39568c"/><stop offset="0.217" stop-color="#365c8d"/><stop offset="0.274" stop-color="#34618d"/><stop offset="0.331" stop-color="#30698e"/><stop offset="0.389" stop-color="#2c728e"/><stop offset="0.446" stop-color="#25838e"/><stop offset="0.504" stop-color="#1f968b"/><stop offset="0.561" stop-color="#21a685"/><stop offset="0.618" stop-color="#2eb37c"/><stop offset="0.661" stop-color="#3dbc74"/><stop offset="0.704" stop-color="#54c568"/><stop offset="0.747" stop-color="#70cf57"/><stop offset="0.776" stop-color="#90d743"/><stop offset="0.798" stop-color="#aadc32"/><stop offset="0.819" stop-color="#c2df23"/><stop offset="0.834" stop-color="#d2e21b"/><stop offset="0.848" stop-color="#e2e418"/><stop offset="0.862" stop-color="#ece51b"/><stop offset="0.877" stop-color="#f6e620"/><stop offset="0.891" stop-color="#f8e621"/><stop offset="0.905" stop-color="#fbe723"/><stop offset="0.920" stop-color="#fde725"/><stop offset="0.934" stop-color="#fde725"/><stop offset="0.948" stop-color="#fde725"/><stop offset="0.963" stop-color="#ece51b"/><stop offset="0.977" stop-color="#cae11f"/><stop offset="1.000" stop-color="#b0dd2f"/></linearGradient><linearGradient id="s11" x1="0" y1="0" x2="0" y2="1"><stop offset="0.000" stop-color="#3f4889"/><stop offset="0.044" stop-color="#3e4a89"/><stop offset="0.102" stop-color="#3d4e8a"/><stop offset="0.159" stop-color="#3c508b"/><stop offset="0.217" stop-color="#39558c"/><stop offset="0.274" stop-color="#375b8d"/><stop offset="0.331" stop-color="#33628d"/><stop offset="0.389" stop-color="#306a8e"/><stop offset="0.446" stop-color="#2a788e"/><stop offset="0.504" stop-color="#24878e"/><stop offset="0.561" stop-color="#1f948c"/><stop offset="0.618" stop-color="#1fa188"/><stop offset="0.661" stop-color="#23a983"/><stop offset="0.704" stop-color="#2eb37c"/><stop offset="0.747" stop-color="#42be71"/><stop offset="0.776" stop-color="#5cc863"/><stop offset="0.798" stop-color="#70cf57"/><stop offset="0.819" stop-color="#86d549"/><stop offset="0.834" stop-color="#98d83e"/><stop offset="0.848" stop-color="#addc30"/><stop offset="0.862" stop-color="#c2df23"/><stop offset="0.877" stop-color="#dae319"/><stop offset="0.891" stop-color="#eae51a"/><stop offset="0.905" stop-color="#f4e61e"/><stop offset="0.920" stop-color="#fbe723"/><stop offset="0.934" stop-color="#fbe723"/><stop offset="0.948" stop-color="#fbe723"/><stop offset="0.963" stop-color="#e5e419"/><stop offset="0.977" stop-color="#c0df25"/><stop offset="1.000" stop-color="#a2da37"/></linearGradient><linearGradient id="s12" x1="0" y1="0" x2="0" y2="1"><stop offset="0.000" stop-color="#424186"/><stop offset="0.044" stop-color="#414287"/><stop offset="0.102" stop-color="#404588"/><stop offset="0.159" stop-color="#3f4788"/><stop offset="0.217" stop-color="#3d4d8a"/><stop offset="0.274" stop-color="#3b518b"/><stop offset="0.331" stop-color="#38588c"/><stop offset="0.389" stop-color="#355f8d"/><stop offset="0.446" stop-color="#30698e"/><stop offset="0.504" stop-color="#2c738e"/><stop offset="0.561" stop-color="#287d8e"/><stop offset="0.618" stop-color="#23888e"/><stop offset="0.661" stop-color="#218f8d"/><stop offset="0.704" stop-color="#1f978b"/><stop offset="0.747" stop-color="#20a386"/><stop offset="0.776" stop-color="#28ae80"/><stop offset="0.798" stop-color="#34b679"/><stop offset="0.819" stop-color="#42be71"/><stop offset="0.834" stop-color="#54c568"/><stop offset="0.848" stop-color="#67cc5c"/><stop offset="0.862" stop-color="#89d548"/><stop offset="0.877" stop-color="#b5de2b"/><stop offset="0.891" stop-color="#d2e21b"/><stop offset="0.905" stop-color="#eae51a"/><stop offset="0.920" stop-color="#f6e620"/><stop offset="0.934" stop-color="#f6e620"/><stop offset="0.948" stop-color="#f6e620"/><stop offset="0.963" stop-color="#d8e219"/><stop offset="0.977" stop-color="#b0dd2f"/><stop offset="1.000" stop-color="#95d840"/></linearGradient><linearGradient id="s13" x1="0" y1="0" x2="0" y2="1"><stop offset="0.000" stop-color="#423f85"/><stop offset="0.044" stop-color="#424186"/><stop offset="0.102" stop-color="#414287"/><stop offset="0.159" stop-color="#404588"/><stop offset="0.217" stop-color="#3e4989"/><stop offset="0.274" stop-color="#3c4f8a"/><stop offset="0.331" stop-color="#3a548c"/><stop offset="0.389" stop-color="#375b8d"/><stop offset="0.446" stop-color="#32648e"/><stop offset="0.504" stop-color="#2e6d8e"/><stop offset="0.561" stop-color="#2b758e"/><stop offset="0.618" stop-color="#27808e"/><stop offset="0.661" stop-color="#25858e"/><stop offset="0.704" stop-color="#228d8d"/><stop offset="0.747" stop-color="#1f9a8a"/><stop offset="0.776" stop-color="#20a486"/><stop offset="0.798" stop-color="#26ad81"/><stop offset="0.819" stop-color="#31b57b"/><stop offset="0.834" stop-color="#3fbc73"/><stop offset="0.848" stop-color="#52c569"/><stop offset="0.862" stop-color="#75d054"/><stop offset="0.877" stop-color="#a5db36"/><stop offset="0.891" stop-color="#cae11f"/><stop offset="0.905" stop-color="#e5e419"/><stop offset="0.920" stop-color="#f6e620"/><stop offset="0.934" stop-color="#f6e620"/><stop offset="0.948" stop-color="#f6e620"/><stop offset="0.963" stop-color="#d2e21b"/><stop offset="0.977" stop-color="#aadc32"/><stop offset="1.000" stop-color="#90d743"/></linearGradient><linearGradient id="s14" x1="0" y1="0" x2="0" y2="1"><stop offset="0.000" stop-color="#423f85"/><stop offset="0.044" stop-color="#424086"/><stop offset="0.102" stop-color="#414287"/><stop offset="0.159" stop-color="#414487"/><stop offset="0.217" stop-color="#3e4989"/><stop offset="0.274" stop-color="#3d4e8a"/><stop offset="0.331" stop-color="#3a538b"/><stop offset="0.389" stop-color="#375a8c"/><stop offset="0.446" stop-color="#33628d"/><stop offset="0.504" stop-color="#306a8e"/><stop offset="0.561" stop-color="#2c718e"/><stop offset="0.618" stop-color="#287c8e"/><stop offset="0.661" stop-color="#26828e"/><stop offset="0.704" stop-color="#23888e"/><stop offset="0.747" stop-color="#1f958b"/><stop offset="0.776" stop-color="#1fa088"/><stop offset="0.798" stop-color="#22a884"/><stop offset="0.819" stop-color="#2ab07f"/><stop offset="0.834" stop-color="#38b977"/><stop offset="0.848" stop-color="#48c16e"/><stop offset="0.862" stop-color="#6ece58"/><stop offset="0.877" stop-color="#a0da39"/><stop offset="0.891" stop-color="#c8e020"/><stop offset="0.905" stop-color="#e5e419"/><stop offset="0.920" stop-color="#f4e61e"/><stop offset="0.934" stop-color="#f4e61e"/><stop offset="0.948" stop-color="#f4e61e"/><stop offset="0.963" stop-color="#d0e11c"/><stop offset="0.977" stop-color="#a8db34"/><stop offset="1.000" stop-color="#8ed645"/></linearGradient><linearGradient id="s15" x1="0" y1="0" x2="0" y2="1"><stop offset="0.000" stop-color="#433e85"/><stop offset="0.044" stop-color="#424086"/><stop offset="0.102" stop-color="#424186"/><stop offset="0.159" stop-color="#414487"/><stop offset="0.217" stop-color="#3f4889"/><stop offset="0.274" stop-color="#3d4d8a"/><stop offset="0.331" stop-color="#3b528b"/><stop offset="0.389" stop-color="#38598c"/><stop offset="0.446" stop-color="#34608d"/><stop offset="0.504" stop-color="#31678e"/><stop offset="0.561" stop-color="#2e6f8e"/><stop offset="0.618" stop-color="#29798e"/><stop offset="0.661" stop-color="#277e8e"/><stop offset="0.704" stop-color="#25848e"/><stop offset="0.747" stop-color="#20928c"/><stop offset="0.776" stop-color="#1e9c89"/><stop offset="0.798" stop-color="#20a386"/><stop offset="0.819" stop-color="#25ac82"/><stop offset="0.834" stop-color="#31b57b"/><stop offset="0.848" stop-color="#40bd72"/><stop offset="0.862" stop-color="#67cc5c"/><stop offset="0.877" stop-color="#9bd93c"/><stop offset="0.891" stop-color="#c5e021"/><stop offset="0.905" stop-color="#e2e418"/><stop offset="0.920" stop-color="#f4e61e"/><stop offset="0.934" stop-color="#f4e61e"/><stop offset="0.948" stop-color="#f4e61e"/><stop offset="0.963" stop-color="#d0e11c"/><stop offset="0.977" stop-color="#a5db36"/><stop offset="1.000" stop-color="#8bd646"/></linearGradient><linearGradient id="s16" x1="0" y1="0" x2="0" y2="1"><stop offset="0.000" stop-color="#423f85"/><stop offset="0.044" stop-color="#424086"/><stop offset="0.102" stop-color="#424186"/><stop offset="0.159" stop-color="#414487"/><stop offset="0.217" stop-color="#3f4889"/><stop offset="0.274" stop-color="#3d4d8a"/><stop offset="0.331" stop-color="#3b528b"/><stop offset="0.389" stop-color="#38598c"/><stop offset="0.446" stop-color="#34608d"/><stop offset="0.504" stop-color="#31678e"/><stop offset="0.561" stop-color="#2e6e8e"/><stop offset="0.618" stop-color="#2a788e"/><stop offset="0.661" stop-color="#287d8e"/><stop offset="0.704" stop-color="#25838e"/><stop offset="0.747" stop-color="#21908d"/><stop offset="0.776" stop-color="#1f9a8a"/><stop offset="0.798" stop-color="#1fa287"/><stop offset="0.819" stop-color="#25ab82"/><stop offset="0.834" stop-color="#2fb47c"/><stop offset="0.848" stop-color="#3dbc74"/><stop offset="0.862" stop-color="#63cb5f"/><stop offset="0.877" stop-color="#98d83e"/><stop offset="0.891" stop-color="#c2df23"/><stop offset="0.905" stop-color="#e2e418"/><stop offset="0.920" stop-color="#f4e61e"/><stop offset="0.934" stop-color="#f4e61e"/><stop offset="0.948" stop-color="#f4e61e"/><stop offset="0.963" stop-color="#cde11d"/><stop offset="0.977" stop-color="#a5db36"/><stop offset="1.000" stop-color="#8bd646"/></linearGradient><linearGradient id="s17" x1="0" y1="0" x2="0" y2="1"><stop offset="0.000" stop-color="#424086"/><stop offset="0.044" stop-color="#424186"/><stop offset="0.102" stop-color="#414487"/><stop offset="0.159" stop-color="#404588"/><stop offset="0.217" stop-color="#3e4a89"/><stop offset="0.274" stop-color="#3c4f8a"/><stop offset="0.331" stop-color="#3a548c"/><stop offset="0.389" stop-color="#375b8d"/><stop offset="0.446" stop-color="#33638d"/><stop offset="0.504" stop-color="#306a8e"/><stop offset="0.561" stop-color="#2c718e"/><stop offset="0.618" stop-color="#287c8e"/><stop offset="0.661" stop-color="#26818e"/><stop offset="0.704" stop-color="#24878e"/><stop offset="0.747" stop-color="#1f948c"/><stop offset="0.776" stop-color="#1f9f88"/><stop offset="0.798" stop-color="#21a685"/><stop offset="0.819" stop-color="#28ae80"/><stop offset="0.834" stop-color="#35b779"/><stop offset="0.848" stop-color="#44bf70"/><stop offset="0.862" stop-color="#69cd5b"/><stop offset="0.877" stop-color="#9dd93b"/><stop offset="0.891" stop-color="#c5e021"/><stop offset="0.905" stop-color="#e2e418"/><stop offset="0.920" stop-color="#f4e61e"/><stop offset="0.934" stop-color="#f4e61e"/><stop offset="0.948" stop-color="#f4e61e"/><stop offset="0.963" stop-color="#d0e11c"/><stop offset="0.977" stop-color="#a8db34"/><stop offset="1.000" stop-color="#8ed645"/></linearGradient><linearGradient id="s18" x1="0" y1="0" x2="0" y2="1"><stop offset="0.000" stop-color="#424086"/><stop offset="0.044" stop-color="#414287"/><stop offset="0.102" stop-color="#414487"/><stop offset="0.159" stop-color="#404688"/><stop offset="0.217" stop-color="#3e4a89"/><stop offset="0.274" stop-color="#3c4f8a"/><stop offset="0.331" stop-color="#3a548c"/><stop offset="0.389" stop-color="#375a8c"/><stop offset="0.446" stop-color="#33628d"/><stop offset="0.504" stop-color="#31688e"/><stop offset="0.561" stop-color="#2d708e"/><stop offset="0.618" stop-color="#297a8e"/><stop offset="0.661" stop-color="#277e8e"/><stop offset="0.704" stop-color="#25848e"/><stop offset="0.747" stop-color="#21918c"/><stop offset="0.776" stop-color="#1e9b8a"/><stop offset="0.798" stop-color="#1fa287"/><stop offset="0.819" stop-color="#25ab82"/><stop offset="0.834" stop-color="#2fb47c"/><stop offset="0.848" stop-color="#3dbc74"/><stop offset="0.862" stop-color="#63cb5f"/><stop offset="0.877" stop-color="#98d83e"/><stop offset="0.891" stop-color="#c2df23"/><stop offset="0.905" stop-color="#e2e418"/><stop offset="0.920" stop-color="#f4e61e"/><stop offset="0.934" stop-color="#f4e61e"/><stop offset="0.948" stop-color="#f4e61e"/><stop offset="0.963" stop-color="#cde11d"/><stop offset="0.977" stop-color="#a5db36"/><stop offset="1.000" stop-color="#8bd646"/></linearGradient><linearGradient id="s19" x1="0" y1="0" x2="0" y2="1"><stop offset="0.000" stop-color="#414287"/><stop offset="0.044" stop-color="#414487"/><stop offset="0.102" stop-color="#404588"/><stop offset="0.159" stop-color="#3f4788"/><stop offset="0.217" stop-color="#3e4c8a"/><stop offset="0.274" stop-color="#3b518b"/><stop offset="0.331" stop-color="#39558c"/><stop offset="0.389" stop-color="#365c8d"/><stop offset="0.446" stop-color="#32648e"/><stop offset="0.504" stop-color="#2f6b8e"/><stop offset="0.561" stop-color="#2c728e"/><stop offset="0.618" stop-color="#287d8e"/><stop offset="0.661" stop-color="#26828e"/><stop offset="0.704" stop-color="#24878e"/><stop offset="0.747" stop-color="#20938c"/><stop offset="0.776" stop-color="#1f9e89"/><stop offset="0.798" stop-color="#21a685"/><stop offset="0.819" stop-color="#27ad81"/><stop offset="0.834" stop-color="#34b679"/><stop offset="0.848" stop-color="#44bf70"/><stop offset="0.862" stop-color="#69cd5b"/><stop offset="0.877" stop-color="#9bd93c"/><stop offset="0.891" stop-color="#c5e021"/><stop offset="0.905" stop-color="#e2e418"/><stop offset="0.920" stop-color="#f4e61e"/><stop offset="0.934" stop-color="#f4e61e"/><stop offset="0.948" stop-color="#f4e61e"/><stop offset="0.963" stop-color="#d0e11c"/><stop offset="0.977" stop-color="#a8db34"/><stop offset="1.000" stop-color="#8bd646"/></linearGradient><linearGradient id="s20" x1="0" y1="0" x2="0" y2="1"><stop offset="0.000" stop-color="#414287"/><stop offset="0.044" stop-color="#404588"/><stop offset="0.102" stop-color="#404688"/><stop offset="0.159" stop-color="#3f4889"/><stop offset="0.217" stop-color="#3d4d8a"/><stop offset="0.274" stop-color="#3b528b"/><stop offset="0.331" stop-color="#38588c"/><stop offset="0.389" stop-color="#355e8d"/><stop offset="0.446" stop-color="#31668e"/><stop offset="0.504" stop-color="#2e6e8e"/><stop offset="0.561" stop-color="#2a768e"/><stop offset="0.618" stop-color="#26818e"/><stop offset="0.661" stop-color="#25858e"/><stop offset="0.704" stop-color="#228c8d"/><stop offset="0.747" stop-color="#1f988b"/><stop offset="0.776" stop-color="#1fa287"/><stop offset="0.798" stop-color="#24aa83"/><stop offset="0.819" stop-color="#2db27d"/><stop offset="0.834" stop-color="#3aba76"/><stop offset="0.848" stop-color="#4cc26c"/><stop offset="0.862" stop-color="#70cf57"/><stop offset="0.877" stop-color="#a2da37"/><stop offset="0.891" stop-color="#c8e020"/><stop offset="0.905" stop-color="#e5e419"/><stop offset="0.920" stop-color="#f4e61e"/><stop offset="0.934" stop-color="#f4e61e"/><stop offset="0.948" stop-color="#f4e61e"/><stop offset="0.963" stop-color="#d2e21b"/><stop offset="0.977" stop-color="#aadc32"/><stop offset="1.000" stop-color="#8ed645"/></linearGradient><linearGradient id="s21" x1="0" y1="0" x2="0" y2="1"><stop offset="0.000" stop-color="#414487"/><stop offset="0.044" stop-color="#404588"/><stop offset="0.102" stop-color="#3f4788"/><stop offset="0.159" stop-color="#3e4989"/><stop offset="0.217" stop-color="#3d4e8a"/><stop offset="0.274" stop-color="#3a538b"/><stop offset="0.331" stop-color="#38598c"/><stop offset="0.389" stop-color="#355f8d"/><stop offset="0.446" stop-color="#30698e"/><stop offset="0.504" stop-color="#2c718e"/><stop offset="0.561" stop-color="#297a8e"/><stop offset="0.618" stop-color="#25848e"/><stop offset="0.661" stop-color="#23898e"/><stop offset="0.704" stop-color="#21918c"/><stop offset="0.747" stop-color="#1e9d89"/><stop offset="0.776" stop-color="#22a785"/><stop offset="0.798" stop-color="#28ae80"/><stop offset="0.819" stop-color="#34b679"/><stop offset="0.834" stop-color="#42be71"/><stop offset="0.848" stop-color="#56c667"/><stop offset="0.862" stop-color="#7ad151"/><stop offset="0.877" stop-color="#a8db34"/><stop offset="0.891" stop-color="#cde11d"/><stop offset="0.905" stop-color="#e7e419"/><stop offset="0.920" stop-color="#f6e620"/><stop offset="0.934" stop-color="#f6e620"/><stop offset="0.948" stop-color="#f6e620"/><stop offset="0.963" stop-color="#d2e21b"/><stop offset="0.977" stop-color="#aadc32"/><stop offset="1.000" stop-color="#90d743"/></linearGradient><linearGradient id="s22" x1="0" y1="0" x2="0" y2="1"><stop offset="0.000" stop-color="#3f4788"/><stop offset="0.044" stop-color="#3e4989"/><stop offset="0.102" stop-color="#3e4c8a"/><stop offset="0.159" stop-color="#3d4e8a"/><stop offset="0.217" stop-color="#3a538b"/><stop offset="0.274" stop-color="#38588c"/><stop offset="0.331" stop-color="#355e8d"/><stop offset="0.389" stop-color="#31668e"/><stop offset="0.446" stop-color="#2c718e"/><stop offset="0.504" stop-color="#277e8e"/><stop offset="0.561" stop-color="#23888e"/><stop offset="0.618" stop-color="#20938c"/><stop offset="0.661" stop-color="#1f9a8a"/><stop offset="0.704" stop-color="#20a386"/><stop offset="0.747" stop-color="#29af7f"/><stop offset="0.776" stop-color="#38b977"/><stop offset="0.798" stop-color="#48c16e"/><stop offset="0.819" stop-color="#5ac864"/><stop offset="0.834" stop-color="#6ccd5a"/><stop offset="0.848" stop-color="#7fd34e"/><stop offset="0.862" stop-color="#a0da39"/><stop offset="0.877" stop-color="#c2df23"/><stop offset="0.891" stop-color="#dde318"/><stop offset="0.905" stop-color="#efe51c"/><stop offset="0.920" stop-color="#f8e621"/><stop offset="0.934" stop-color="#f8e621"/><stop offset="0.948" stop-color="#f8e621"/><stop offset="0.963" stop-color="#dde318"/><stop offset="0.977" stop-color="#b5de2b"/><stop offset="1.000" stop-color="#9bd93c"/></linearGradient><linearGradient id="s23" x1="0" y1="0" x2="0" y2="1"><stop offset="0.000" stop-color="#3d4d8a"/><stop offset="0.044" stop-color="#3c4f8a"/><stop offset="0.102" stop-color="#3b518b"/><stop offset="0.159" stop-color="#3a548c"/><stop offset="0.217" stop-color="#375a8c"/><stop offset="0.274" stop-color="#355f8d"/><stop offset="0.331" stop-color="#31668e"/><stop offset="0.389" stop-color="#2d708e"/><stop offset="0.446" stop-color="#277f8e"/><stop offset="0.504" stop-color="#21908d"/><stop offset="0.561" stop-color="#1f9f88"/><stop offset="0.618" stop-color="#25ab82"/><stop offset="0.661" stop-color="#2eb37c"/><stop offset="0.704" stop-color="#40bd72"/><stop offset="0.747" stop-color="#5ac864"/><stop offset="0.776" stop-color="#75d054"/><stop offset="0.798" stop-color="#8ed645"/><stop offset="0.819" stop-color="#a5db36"/><stop offset="0.834" stop-color="#b5de2b"/><stop offset="0.848" stop-color="#c8e020"/><stop offset="0.862" stop-color="#d8e219"/><stop offset="0.877" stop-color="#eae51a"/><stop offset="0.891" stop-color="#f1e51d"/><stop offset="0.905" stop-color="#f8e621"/><stop offset="0.920" stop-color="#fde725"/><stop offset="0.934" stop-color="#fde725"/><stop offset="0.948" stop-color="#fde725"/><stop offset="0.963" stop-color="#eae51a"/><stop offset="0.977" stop-color="#c5e021"/><stop offset="1.000" stop-color="#aadc32"/></linearGradient><linearGradient id="s24" x1="0" y1="0" x2="0" y2="1"><stop offset="0.000" stop-color="#3c4f8a"/><stop offset="0.044" stop-color="#3b518b"/><stop offset="0.102" stop-color="#3a548c"/><stop offset="0.159" stop-color="#38588c"/><stop offset="0.217" stop-color="#365d8d"/><stop offset="0.274" stop-color="#33628d"/><stop offset="0.331" stop-color="#30698e"/><stop offset="0.389" stop-color="#2c738e"/><stop offset="0.446" stop-color="#25848e"/><stop offset="0.504" stop-color="#1f978b"/><stop offset="0.561" stop-color="#22a785"/><stop offset="0.618" stop-color="#2fb47c"/><stop offset="0.661" stop-color="#3fbc73"/><stop offset="0.704" stop-color="#58c765"/><stop offset="0.747" stop-color="#75d054"/><stop offset="0.776" stop-color="#93d741"/><stop offset="0.798" stop-color="#addc30"/><stop offset="0.819" stop-color="#c5e021"/><stop offset="0.834" stop-color="#d5e21a"/><stop offset="0.848" stop-color="#e5e419"/><stop offset="0.862" stop-color="#efe51c"/><stop offset="0.877" stop-color="#f8e621"/><stop offset="0.891" stop-color="#fbe723"/><stop offset="0.905" stop-color="#fde725"/><stop offset="0.920" stop-color="#fde725"/><stop offset="0.934" stop-color="#fde725"/><stop offset="0.948" stop-color="#fde725"/><stop offset="0.963" stop-color="#efe51c"/><stop offset="0.977" stop-color="#cae11f"/><stop offset="1.000" stop-color="#b0dd2f"/></linearGradient><linearGradient id="s25" x1="0" y1="0" x2="0" y2="1"><stop offset="0.000" stop-color="#3e4c8a"/><stop offset="0.044" stop-color="#3d4e8a"/><stop offset="0.102" stop-color="#3c508b"/><stop offset="0.159" stop-color="#3a538b"/><stop offset="0.217" stop-color="#38598c"/><stop offset="0.274" stop-color="#355e8d"/><stop offset="0.331" stop-color="#32658e"/><stop offset="0.389" stop-color="#2e6e8e"/><stop offset="0.446" stop-color="#287c8e"/><stop offset="0.504" stop-color="#228d8d"/><stop offset="0.561" stop-color="#1f9a8a"/><stop offset="0.618" stop-color="#21a685"/><stop offset="0.661" stop-color="#28ae80"/><stop offset="0.704" stop-color="#38b977"/><stop offset="0.747" stop-color="#50c46a"/><stop offset="0.776" stop-color="#69cd5b"/><stop offset="0.798" stop-color="#7fd34e"/><stop offset="0.819" stop-color="#95d840"/><stop offset="0.834" stop-color="#a8db34"/><stop offset="0.848" stop-color="#bade28"/><stop offset="0.862" stop-color="#cde11d"/><stop offset="0.877" stop-color="#e2e418"/><stop offset="0.891" stop-color="#efe51c"/><stop offset="0.905" stop-color="#f6e620"/><stop offset="0.920" stop-color="#fbe723"/><stop offset="0.934" stop-color="#fbe723"/><stop offset="0.948" stop-color="#fbe723"/><stop offset="0.963" stop-color="#e7e419"/><stop offset="0.977" stop-color="#c2df23"/><stop offset="1.000" stop-color="#a8db34"/></linearGradient><linearGradient id="s26" x1="0" y1="0" x2="0" y2="1"><stop offset="0.000" stop-color="#404688"/><stop offset="0.044" stop-color="#3f4788"/><stop offset="0.102" stop-color="#3e4989"/><stop offset="0.159" stop-color="#3e4c8a"/><stop offset="0.217" stop-color="#3b518b"/><stop offset="0.274" stop-color="#39558c"/><stop offset="0.331" stop-color="#365c8d"/><stop offset="0.389" stop-color="#33638d"/><stop offset="0.446" stop-color="#2e6f8e"/><stop offset="0.504" stop-color="#29798e"/><stop offset="0.561" stop-color="#25838e"/><stop offset="0.618" stop-color="#218f8d"/><stop offset="0.661" stop-color="#1f958b"/><stop offset="0.704" stop-color="#1f9e89"/><stop offset="0.747" stop-color="#24aa83"/><stop offset="0.776" stop-color="#2fb47c"/><stop offset="0.798" stop-color="#3dbc74"/><stop offset="0.819" stop-color="#4ec36b"/><stop offset="0.834" stop-color="#5ec962"/><stop offset="0.848" stop-color="#73d056"/><stop offset="0.862" stop-color="#93d741"/><stop offset="0.877" stop-color="#bade28"/><stop offset="0.891" stop-color="#d8e219"/><stop offset="0.905" stop-color="#ece51b"/><stop offset="0.920" stop-color="#f8e621"/><stop offset="0.934" stop-color="#f8e621"/><stop offset="0.948" stop-color="#f8e621"/><stop offset="0.963" stop-color="#dae319"/><stop offset="0.977" stop-color="#b2dd2d"/><stop offset="1.000" stop-color="#98d83e"/></linearGradient><linearGradient id="s27" x1="0" y1="0" x2="0" y2="1"><stop offset="0.000" stop-color="#414287"/><stop offset="0.044" stop-color="#414487"/><stop offset="0.102" stop-color="#404688"/><stop offset="0.159" stop-color="#3f4889"/><stop offset="0.217" stop-color="#3d4d8a"/><stop offset="0.274" stop-color="#3b528b"/><stop offset="0.331" stop-color="#38588c"/><stop offset="0.389" stop-color="#355e8d"/><stop offset="0.446" stop-color="#31678e"/><stop offset="0.504" stop-color="#2d708e"/><stop offset="0.561" stop-color="#2a788e"/><stop offset="0.618" stop-color="#26828e"/><stop offset="0.661" stop-color="#23888e"/><stop offset="0.704" stop-color="#218f8d"/><stop offset="0.747" stop-color="#1e9c89"/><stop offset="0.776" stop-color="#21a685"/><stop offset="0.798" stop-color="#27ad81"/><stop offset="0.819" stop-color="#32b67a"/><stop offset="0.834" stop-color="#40bd72"/><stop offset="0.848" stop-color="#54c568"/><stop offset="0.862" stop-color="#77d153"/><stop offset="0.877" stop-color="#a8db34"/><stop offset="0.891" stop-color="#cde11d"/><stop offset="0.905" stop-color="#e7e419"/><stop offset="0.920" stop-color="#f6e620"/><stop offset="0.934" stop-color="#f6e620"/><stop offset="0.948" stop-color="#f6e620"/><stop offset="0.963" stop-color="#d2e21b"/><stop offset="0.977" stop-color="#aadc32"/><stop offset="1.000" stop-color="#90d743"/></linearGradient><linearGradient id="s28" x1="0" y1="0" x2="0" y2="1"><stop offset="0.000" stop-color="#424186"/><stop offset="0.044" stop-color="#414287"/><stop offset="0.102" stop-color="#404588"/><stop offset="0.159" stop-color="#404688"/><stop offset="0.217" stop-color="#3e4c8a"/><stop offset="0.274" stop-color="#3c508b"/><stop offset="0.331" stop-color="#39558c"/><stop offset="0.389" stop-color="#365c8d"/><stop offset="0.446" stop-color="#32658e"/><stop offset="0.504" stop-color="#2f6c8e"/><stop offset="0.561" stop-color="#2b748e"/><stop offset="0.618" stop-color="#277f8e"/><stop offset="0.661" stop-color="#25838e"/><stop offset="0.704" stop-color="#238a8d"/><stop offset="0.747" stop-color="#1f978b"/><stop offset="0.776" stop-color="#1fa187"/><stop offset="0.798" stop-color="#23a983"/><stop offset="0.819" stop-color="#2cb17e"/><stop offset="0.834" stop-color="#3aba76"/><stop offset="0.848" stop-color="#4ac16d"/><stop offset="0.862" stop-color="#70cf57"/><stop offset="0.877" stop-color="#a0da39"/><stop offset="0.891" stop-color="#c8e020"/><stop offset="0.905" stop-color="#e5e419"/><stop offset="0.920" stop-color="#f4e61e"/><stop offset="0.934" stop-color="#f4e61e"/><stop offset="0.948" stop-color="#f4e61e"/><stop offset="0.963" stop-color="#d0e11c"/><stop offset="0.977" stop-color="#a8db34"/><stop offset="1.000" stop-color="#8ed645"/></linearGradient><linearGradient id="s29" x1="0" y1="0" x2="0" y2="1"><stop offset="0.000" stop-color="#424086"/><stop offset="0.044" stop-color="#424186"/><stop offset="0.102" stop-color="#414487"/><stop offset="0.159" stop-color="#404588"/><stop offset="0.217" stop-color="#3e4989"/><stop offset="0.274" stop-color="#3c4f8a"/><stop offset="0.331" stop-color="#3a548c"/><stop offset="0.389" stop-color="#375a8c"/><stop offset="0.446" stop-color="#33628d"/><stop offset="0.504" stop-color="#30698e"/><stop offset="0.561" stop-color="#2d718e"/><stop offset="0.618" stop-color="#297b8e"/><stop offset="0.661" stop-color="#27808e"/><stop offset="0.704" stop-color="#25858e"/><stop offset="0.747" stop-color="#20928c"/><stop offset="0.776" stop-color="#1e9d89"/><stop offset="0.798" stop-color="#20a486"/><stop offset="0.819" stop-color="#26ad81"/><stop offset="0.834" stop-color="#32b67a"/><stop offset="0.848" stop-color="#42be71"/><stop offset="0.862" stop-color="#67cc5c"/><stop offset="0.877" stop-color="#9bd93c"/><stop offset="0.891" stop-color="#c5e021"/><stop offset="0.905" stop-color="#e2e418"/><stop offset="0.920" stop-color="#f4e61e"/><stop offset="0.934" stop-color="#f4e61e"/><stop offset="0.948" stop-color="#f4e61e"/><stop offset="0.963" stop-color="#d0e11c"/><stop offset="0.977" stop-color="#a8db34"/><stop offset="1.000" stop-color="#8bd646"/></linearGradient><linearGradient id="s30" x1="0" y1="0" x2="0" y2="1"><stop offset="0.000" stop-color="#424186"/><stop offset="0.044" stop-color="#414487"/><stop offset="0.102" stop-color="#404588"/><stop offset="0.159" stop-color="#3f4788"/><stop offset="0.217" stop-color="#3e4c8a"/><stop offset="0.274" stop-color="#3b518b"/><stop offset="0.331" stop-color="#39568c"/><stop offset="0.389" stop-color="#365d8d"/><stop offset="0.446" stop-color="#31668e"/><stop offset="0.504" stop-color="#2e6f8e"/><stop offset="0.561" stop-color="#2a778e"/><stop offset="0.618" stop-color="#26828e"/><stop offset="0.661" stop-color="#24878e"/><stop offset="0.704" stop-color="#218e8d"/><stop offset="0.747" stop-color="#1e9b8a"/><stop offset="0.776" stop-color="#21a585"/><stop offset="0.798" stop-color="#27ad81"/><stop offset="0.819" stop-color="#32b67a"/><stop offset="0.834" stop-color="#40bd72"/><stop offset="0.848" stop-color="#52c569"/><stop offset="0.862" stop-color="#77d153"/><stop offset="0.877" stop-color="#a8db34"/><stop offset="0.891" stop-color="#cae11f"/><stop offset="0.905" stop-color="#e5e419"/><stop offset="0.920" stop-color="#f6e620"/><stop offset="0.934" stop-color="#f6e620"/><stop offset="0.948" stop-color="#f6e620"/><stop offset="0.963" stop-color="#d2e21b"/><stop offset="0.977" stop-color="#aadc32"/><stop offset="1.000" stop-color="#90d743"/></linearGradient><linearGradient id="s31" x1="0" y1="0" x2="0" y2="1"><stop offset="0.000" stop-color="#414287"/><stop offset="0.044" stop-color="#414487"/><stop offset="0.102" stop-color="#404688"/><stop offset="0.159" stop-color="#3f4889"/><stop offset="0.217" stop-color="#3d4d8a"/><stop offset="0.274" stop-color="#3b528b"/><stop offset="0.331" stop-color="#38588c"/><stop offset="0.389" stop-color="#355f8d"/><stop offset="0.446" stop-color="#31688e"/><stop offset="0.504" stop-color="#2c718e"/><stop offset="0.561" stop-color="#297b8e"/><stop offset="0.618" stop-color="#25858e"/><stop offset="0.661" stop-color="#228c8d"/><stop offset="0.704" stop-color="#20938c"/><stop offset="0.747" stop-color="#1fa088"/><stop offset="0.776" stop-color="#25ab82"/><stop offset="0.798" stop-color="#2eb37c"/><stop offset="0.819" stop-color="#3bbb75"/><stop offset="0.834" stop-color="#4cc26c"/><stop offset="0.848" stop-color="#5ec962"/><stop offset="0.862" stop-color="#81d34d"/><stop offset="0.877" stop-color="#addc30"/><stop offset="0.891" stop-color="#d0e11c"/><stop offset="0.905" stop-color="#e7e419"/><stop offset="0.920" stop-color="#f6e620"/><stop offset="0.934" stop-color="#f6e620"/><stop offset="0.948" stop-color="#f6e620"/><stop offset="0.963" stop-color="#d5e21a"/><stop offset="0.977" stop-color="#addc30"/><stop offset="1.000" stop-color="#93d741"/></linearGradient><linearGradient id="s32" x1="0" y1="0" x2="0" y2="1"><stop offset="0.000" stop-color="#423f85"/><stop offset="0.044" stop-color="#424186"/><stop offset="0.102" stop-color="#414287"/><stop offset="0.159" stop-color="#404588"/><stop offset="0.217" stop-color="#3e4989"/><stop offset="0.274" stop-color="#3c4f8a"/><stop offset="0.331" stop-color="#3a548c"/><stop offset="0.389" stop-color="#375b8d"/><stop offset="0.446" stop-color="#32648e"/><stop offset="0.504" stop-color="#2e6d8e"/><stop offset="0.561" stop-color="#2b758e"/><stop offset="0.618" stop-color="#27808e"/><stop offset="0.661" stop-color="#25858e"/><stop offset="0.704" stop-color="#228d8d"/><stop offset="0.747" stop-color="#1f9a8a"/><stop offset="0.776" stop-color="#21a585"/><stop offset="0.798" stop-color="#27ad81"/><stop offset="0.819" stop-color="#32b67a"/><stop offset="0.834" stop-color="#40bd72"/><stop offset="0.848" stop-color="#52c569"/><stop offset="0.862" stop-color="#77d153"/><stop offset="0.877" stop-color="#a8db34"/><stop offset="0.891" stop-color="#cae11f"/><stop offset="0.905" stop-color="#e5e419"/><stop offset="0.920" stop-color="#f6e620"/><stop offset="0.934" stop-color="#f6e620"/><stop offset="0.948" stop-color="#f6e620"/><stop offset="0.963" stop-color="#d2e21b"/><stop offset="0.977" stop-color="#aadc32"/><stop offset="1.000" stop-color="#90d743"/></linearGradient><linearGradient id="s33" x1="0" y1="0" x2="0" y2="1"><stop offset="0.000" stop-color="#443b84"/><stop offset="0.044" stop-color="#433d84"/><stop offset="0.102" stop-color="#433e85"/><stop offset="0.159" stop-color="#424086"/><stop offset="0.217" stop-color="#404588"/><stop offset="0.274" stop-color="#3e4a89"/><stop offset="0.331" stop-color="#3c4f8a"/><stop offset="0.389" stop-color="#39558c"/><stop offset="0.446" stop-color="#355e8d"/><stop offset="0.504" stop-color="#32648e"/><stop offset="0.561" stop-color="#2f6c8e"/><stop offset="0.618" stop-color="#2a768e"/><stop offset="0.661" stop-color="#287c8e"/><stop offset="0.704" stop-color="#26828e"/><stop offset="0.747" stop-color="#21908d"/><stop offset="0.776" stop-color="#1e9b8a"/><stop offset="0.798" stop-color="#20a386"/><stop offset="0.819" stop-color="#25ac82"/><stop offset="0.834" stop-color="#31b57b"/><stop offset="0.848" stop-color="#40bd72"/><stop offset="0.862" stop-color="#65cb5e"/><stop offset="0.877" stop-color="#98d83e"/><stop offset="0.891" stop-color="#c2df23"/><stop offset="0.905" stop-color="#e2e418"/><stop offset="0.920" stop-color="#f4e61e"/><stop offset="0.934" stop-color="#f4e61e"/><stop offset="0.948" stop-color="#f4e61e"/><stop offset="0.963" stop-color="#cde11d"/><stop offset="0.977" stop-color="#a5db36"/><stop offset="1.000" stop-color="#8bd646"/></linearGradient><linearGradient id="s34" x1="0" y1="0" x2="0" y2="1"><stop offset="0.000" stop-color="#443a83"/><stop offset="0.044" stop-color="#433d84"/><stop offset="0.102" stop-color="#433e85"/><stop offset="0.159" stop-color="#424086"/><stop offset="0.217" stop-color="#404588"/><stop offset="0.274" stop-color="#3e4989"/><stop offset="0.331" stop-color="#3c4f8a"/><stop offset="0.389" stop-color="#39558c"/><stop offset="0.446" stop-color="#355f8d"/><stop offset="0.504" stop-color="#31668e"/><stop offset="0.561" stop-color="#2e6e8e"/><stop offset="0.618" stop-color="#2a788e"/><stop offset="0.661" stop-color="#277f8e"/><stop offset="0.704" stop-color="#24868e"/><stop offset="0.747" stop-color="#20938c"/><stop offset="0.776" stop-color="#1f9f88"/><stop offset="0.798" stop-color="#22a785"/><stop offset="0.819" stop-color="#2ab07f"/><stop offset="0.834" stop-color="#37b878"/><stop offset="0.848" stop-color="#48c16e"/><stop offset="0.862" stop-color="#6ece58"/><stop offset="0.877" stop-color="#a0da39"/><stop offset="0.891" stop-color="#c8e020"/><stop offset="0.905" stop-color="#e5e419"/><stop offset="0.920" stop-color="#f4e61e"/><stop offset="0.934" stop-color="#f4e61e"/><stop offset="0.948" stop-color="#f4e61e"/><stop offset="0.963" stop-color="#d0e11c"/><stop offset="0.977" stop-color="#a8db34"/><stop offset="1.000" stop-color="#8ed645"/></linearGradient><linearGradient id="s35" x1="0" y1="0" x2="0" y2="1"><stop offset="0.000" stop-color="#443a83"/><stop offset="0.044" stop-color="#443b84"/><stop offset="0.102" stop-color="#433e85"/><stop offset="0.159" stop-color="#424086"/><stop offset="0.217" stop-color="#404588"/><stop offset="0.274" stop-color="#3e4989"/><stop offset="0.331" stop-color="#3c4f8a"/><stop offset="0.389" stop-color="#39558c"/><stop offset="0.446" stop-color="#355f8d"/><stop offset="0.504" stop-color="#31678e"/><stop offset="0.561" stop-color="#2d708e"/><stop offset="0.618" stop-color="#297a8e"/><stop offset="0.661" stop-color="#26818e"/><stop offset="0.704" stop-color="#23888e"/><stop offset="0.747" stop-color="#1f968b"/><stop offset="0.776" stop-color="#1fa187"/><stop offset="0.798" stop-color="#25ab82"/><stop offset="0.819" stop-color="#2eb37c"/><stop offset="0.834" stop-color="#3bbb75"/><stop offset="0.848" stop-color="#4ec36b"/><stop offset="0.862" stop-color="#73d056"/><stop offset="0.877" stop-color="#a2da37"/><stop offset="0.891" stop-color="#cae11f"/><stop offset="0.905" stop-color="#e5e419"/><stop offset="0.920" stop-color="#f4e61e"/><stop offset="0.934" stop-color="#f4e61e"/><stop offset="0.948" stop-color="#f4e61e"/><stop offset="0.963" stop-color="#d2e21b"/><stop offset="0.977" stop-color="#aadc32"/><stop offset="1.000" stop-color="#8ed645"/></linearGradient><linearGradient id="s36" x1="0" y1="0" x2="0" y2="1"><stop offset="0.000" stop-color="#453882"/><stop offset="0.044" stop-color="#443983"/><stop offset="0.102" stop-color="#443a83"/><stop offset="0.159" stop-color="#433d84"/><stop offset="0.217" stop-color="#424186"/><stop offset="0.274" stop-color="#3f4788"/><stop offset="0.331" stop-color="#3d4d8a"/><stop offset="0.389" stop-color="#3a538b"/><stop offset="0.446" stop-color="#365c8d"/><stop offset="0.504" stop-color="#33638d"/><stop offset="0.561" stop-color="#2f6c8e"/><stop offset="0.618" stop-color="#2a768e"/><stop offset="0.661" stop-color="#287d8e"/><stop offset="0.704" stop-color="#25848e"/><stop offset="0.747" stop-color="#20928c"/><stop offset="0.776" stop-color="#1f9f88"/><stop offset="0.798" stop-color="#22a785"/><stop offset="0.819" stop-color="#2ab07f"/><stop offset="0.834" stop-color="#37b878"/><stop offset="0.848" stop-color="#48c16e"/><stop offset="0.862" stop-color="#6ece58"/><stop offset="0.877" stop-color="#a0da39"/><stop offset="0.891" stop-color="#c8e020"/><stop offset="0.905" stop-color="#e5e419"/><stop offset="0.920" stop-color="#f4e61e"/><stop offset="0.934" stop-color="#f4e61e"/><stop offset="0.948" stop-color="#f4e61e"/><stop offset="0.963" stop-color="#d0e11c"/><stop offset="0.977" stop-color="#a8db34"/><stop offset="1.000" stop-color="#8ed645"/></linearGradient><linearGradient id="s37" x1="0" y1="0" x2="0" y2="1"><stop offset="0.000" stop-color="#46337f"/><stop offset="0.044" stop-color="#463480"/><stop offset="0.102" stop-color="#453781"/><stop offset="0.159" stop-color="#453882"/><stop offset="0.217" stop-color="#433e85"/><stop offset="0.274" stop-color="#414287"/><stop offset="0.331" stop-color="#3f4889"/><stop offset="0.389" stop-color="#3d4e8a"/><stop offset="0.446" stop-color="#39568c"/><stop offset="0.504" stop-color="#365d8d"/><stop offset="0.561" stop-color="#32648e"/><stop offset="0.618" stop-color="#2e6f8e"/><stop offset="0.661" stop-color="#2b758e"/><stop offset="0.704" stop-color="#277e8e"/><stop offset="0.747" stop-color="#228c8d"/><stop offset="0.776" stop-color="#1f988b"/><stop offset="0.798" stop-color="#1fa188"/><stop offset="0.819" stop-color="#24aa83"/><stop offset="0.834" stop-color="#2eb37c"/><stop offset="0.848" stop-color="#3dbc74"/><stop offset="0.862" stop-color="#63cb5f"/><stop offset="0.877" stop-color="#95d840"/><stop offset="0.891" stop-color="#c2df23"/><stop offset="0.905" stop-color="#e2e418"/><stop offset="0.920" stop-color="#f4e61e"/><stop offset="0.934" stop-color="#f4e61e"/><stop offset="0.948" stop-color="#f4e61e"/><stop offset="0.963" stop-color="#cde11d"/><stop offset="0.977" stop-color="#a5db36"/><stop offset="1.000" stop-color="#8bd646"/></linearGradient><linearGradient id="s38" x1="0" y1="0" x2="0" y2="1"><stop offset="0.000" stop-color="#472f7d"/><stop offset="0.044" stop-color="#46307e"/><stop offset="0.102" stop-color="#46337f"/><stop offset="0.159" stop-color="#463480"/><stop offset="0.217" stop-color="#443983"/><stop offset="0.274" stop-color="#423f85"/><stop offset="0.331" stop-color="#414487"/><stop offset="0.389" stop-color="#3e4989"/><stop offset="0.446" stop-color="#3b518b"/><stop offset="0.504" stop-color="#38588c"/><stop offset="0.561" stop-color="#355e8d"/><stop offset="0.618" stop-color="#30698e"/><stop offset="0.661" stop-color="#2d708e"/><stop offset="0.704" stop-color="#2a788e"/><stop offset="0.747" stop-color="#24878e"/><stop offset="0.776" stop-color="#20938c"/><stop offset="0.798" stop-color="#1e9c89"/><stop offset="0.819" stop-color="#21a585"/><stop offset="0.834" stop-color="#28ae80"/><stop offset="0.848" stop-color="#37b878"/><stop offset="0.862" stop-color="#5cc863"/><stop offset="0.877" stop-color="#90d743"/><stop offset="0.891" stop-color="#c0df25"/><stop offset="0.905" stop-color="#dfe318"/><stop offset="0.920" stop-color="#f4e61e"/><stop offset="0.934" stop-color="#f4e61e"/><stop offset="0.948" stop-color="#f4e61e"/><stop offset="0.963" stop-color="#cae11f"/><stop offset="0.977" stop-color="#a2da37"/><stop offset="1.000" stop-color="#89d548"/></linearGradient><linearGradient id="s39" x1="0" y1="0" x2="0" y2="1"><stop offset="0.000" stop-color="#472d7b"/><stop offset="0.044" stop-color="#472e7c"/><stop offset="0.102" stop-color="#46307e"/><stop offset="0.159" stop-color="#46327e"/><stop offset="0.217" stop-color="#453781"/><stop offset="0.274" stop-color="#443b84"/><stop offset="0.331" stop-color="#424186"/><stop offset="0.389" stop-color="#3f4788"/><stop offset="0.446" stop-color="#3d4e8a"/><stop offset="0.504" stop-color="#3a548c"/><stop offset="0.561" stop-color="#375b8d"/><stop offset="0.618" stop-color="#31668e"/><stop offset="0.661" stop-color="#2e6d8e"/><stop offset="0.704" stop-color="#2b758e"/><stop offset="0.747" stop-color="#25858e"/><stop offset="0.776" stop-color="#21918c"/><stop offset="0.798" stop-color="#1f9a8a"/><stop offset="0.819" stop-color="#20a386"/><stop offset="0.834" stop-color="#27ad81"/><stop offset="0.848" stop-color="#34b679"/><stop offset="0.862" stop-color="#58c765"/><stop offset="0.877" stop-color="#8ed645"/><stop offset="0.891" stop-color="#bddf26"/><stop offset="0.905" stop-color="#dfe318"/><stop offset="0.920" stop-color="#f1e51d"/><stop offset="0.934" stop-color="#f1e51d"/><stop offset="0.948" stop-color="#f1e51d"/><stop offset="0.963" stop-color="#cae11f"/><stop offset="0.977" stop-color="#a2da37"/><stop offset="1.000" stop-color="#89d548"/></linearGradient><linearGradient id="s40" x1="0" y1="0" x2="0" y2="1"><stop offset="0.000" stop-color="#482979"/><stop offset="0.044" stop-color="#472a7a"/><stop offset="0.102" stop-color="#472c7a"/><stop offset="0.159" stop-color="#472e7c"/><stop offset="0.217" stop-color="#46337f"/><stop offset="0.274" stop-color="#453882"/><stop offset="0.331" stop-color="#433e85"/><stop offset="0.389" stop-color="#414487"/><stop offset="0.446" stop-color="#3e4a89"/><stop offset="0.504" stop-color="#3c508b"/><stop offset="0.561" stop-color="#38588c"/><stop offset="0.618" stop-color="#33628d"/><stop offset="0.661" stop-color="#306a8e"/><stop offset="0.704" stop-color="#2c738e"/><stop offset="0.747" stop-color="#25838e"/><stop offset="0.776" stop-color="#21908d"/><stop offset="0.798" stop-color="#1f998a"/><stop offset="0.819" stop-color="#20a386"/><stop offset="0.834" stop-color="#26ad81"/><stop offset="0.848" stop-color="#32b67a"/><stop offset="0.862" stop-color="#58c765"/><stop offset="0.877" stop-color="#8ed645"/><stop offset="0.891" stop-color="#bddf26"/><stop offset="0.905" stop-color="#dfe318"/><stop offset="0.920" stop-color="#f1e51d"/><stop offset="0.934" stop-color="#f1e51d"/><stop offset="0.948" stop-color="#f1e51d"/><stop offset="0.963" stop-color="#cae11f"/><stop offset="0.977" stop-color="#a2da37"/><stop offset="1.000" stop-color="#86d549"/></linearGradient><linearGradient id="s41" x1="0" y1="0" x2="0" y2="1"><stop offset="0.000" stop-color="#482576"/><stop offset="0.044" stop-color="#482677"/><stop offset="0.102" stop-color="#482878"/><stop offset="0.159" stop-color="#472a7a"/><stop offset="0.217" stop-color="#472f7d"/><stop offset="0.274" stop-color="#463480"/><stop offset="0.331" stop-color="#443a83"/><stop offset="0.389" stop-color="#424086"/><stop offset="0.446" stop-color="#3f4788"/><stop offset="0.504" stop-color="#3d4d8a"/><stop offset="0.561" stop-color="#3a548c"/><stop offset="0.618" stop-color="#355f8d"/><stop offset="0.661" stop-color="#31688e"/><stop offset="0.704" stop-color="#2c718e"/><stop offset="0.747" stop-color="#26828e"/><stop offset="0.776" stop-color="#21908d"/><stop offset="0.798" stop-color="#1f998a"/><stop offset="0.819" stop-color="#20a386"/><stop offset="0.834" stop-color="#26ad81"/><stop offset="0.848" stop-color="#32b67a"/><stop offset="0.862" stop-color="#58c765"/><stop offset="0.877" stop-color="#8ed645"/><stop offset="0.891" stop-color="#bddf26"/><stop offset="0.905" stop-color="#dfe318"/><stop offset="0.920" stop-color="#f1e51d"/><stop offset="0.934" stop-color="#f1e51d"/><stop offset="0.948" stop-color="#f1e51d"/><stop offset="0.963" stop-color="#cae11f"/><stop offset="0.977" stop-color="#a2da37"/><stop offset="1.000" stop-color="#86d549"/></linearGradient><linearGradient id="s42" x1="0" y1="0" x2="0" y2="1"><stop offset="0.000" stop-color="#482173"/><stop offset="0.044" stop-color="#482374"/><stop offset="0.102" stop-color="#482475"/><stop offset="0.159" stop-color="#482677"/><stop offset="0.217" stop-color="#472c7a"/><stop offset="0.274" stop-color="#46307e"/><stop offset="0.331" stop-color="#453581"/><stop offset="0.389" stop-color="#433d84"/><stop offset="0.446" stop-color="#414487"/><stop offset="0.504" stop-color="#3e4989"/><stop offset="0.561" stop-color="#3c508b"/><stop offset="0.618" stop-color="#365c8d"/><stop offset="0.661" stop-color="#32658e"/><stop offset="0.704" stop-color="#2d708e"/><stop offset="0.747" stop-color="#26828e"/><stop offset="0.776" stop-color="#218f8d"/><stop offset="0.798" stop-color="#1f998a"/><stop offset="0.819" stop-color="#20a386"/><stop offset="0.834" stop-color="#26ad81"/><stop offset="0.848" stop-color="#32b67a"/><stop offset="0.862" stop-color="#58c765"/><stop offset="0.877" stop-color="#8ed645"/><stop offset="0.891" stop-color="#bddf26"/><stop offset="0.905" stop-color="#dfe318"/><stop offset="0.920" stop-color="#f1e51d"/><stop offset="0.934" stop-color="#f1e51d"/><stop offset="0.948" stop-color="#f1e51d"/><stop offset="0.963" stop-color="#cae11f"/><stop offset="0.977" stop-color="#a2da37"/><stop offset="1.000" stop-color="#86d549"/></linearGradient><linearGradient id="s43" x1="0" y1="0" x2="0" y2="1"><stop offset="0.000" stop-color="#481d6f"/><stop offset="0.044" stop-color="#481f70"/><stop offset="0.102" stop-color="#482071"/><stop offset="0.159" stop-color="#482374"/><stop offset="0.217" stop-color="#482878"/><stop offset="0.274" stop-color="#472d7b"/><stop offset="0.331" stop-color="#46327e"/><stop offset="0.389" stop-color="#453882"/><stop offset="0.446" stop-color="#424086"/><stop offset="0.504" stop-color="#404688"/><stop offset="0.561" stop-color="#3d4d8a"/><stop offset="0.618" stop-color="#38598c"/><stop offset="0.661" stop-color="#33638d"/><stop offset="0.704" stop-color="#2e6e8e"/><stop offset="0.747" stop-color="#26818e"/><stop offset="0.776" stop-color="#218e8d"/><stop offset="0.798" stop-color="#1f988b"/><stop offset="0.819" stop-color="#20a386"/><stop offset="0.834" stop-color="#26ad81"/><stop offset="0.848" stop-color="#32b67a"/><stop offset="0.862" stop-color="#58c765"/><stop offset="0.877" stop-color="#8ed645"/><stop offset="0.891" stop-color="#bddf26"/><stop offset="0.905" stop-color="#dfe318"/><stop offset="0.920" stop-color="#f1e51d"/><stop offset="0.934" stop-color="#f1e51d"/><stop offset="0.948" stop-color="#f1e51d"/><stop offset="0.963" stop-color="#cae11f"/><stop offset="0.977" stop-color="#a2da37"/><stop offset="1.000" stop-color="#86d549"/></linearGradient><linearGradient id="s44" x1="0" y1="0" x2="0" y2="1"><stop offset="0.000" stop-color="#481a6c"/><stop offset="0.044" stop-color="#481b6d"/><stop offset="0.102" stop-color="#481c6e"/><stop offset="0.159" stop-color="#481f70"/><stop offset="0.217" stop-color="#482475"/><stop offset="0.274" stop-color="#482979"/><stop offset="0.331" stop-color="#472f7d"/><stop offset="0.389" stop-color="#453581"/><stop offset="0.446" stop-color="#433d84"/><stop offset="0.504" stop-color="#414287"/><stop offset="0.561" stop-color="#3e4a89"/><stop offset="0.618" stop-color="#39558c"/><stop offset="0.661" stop-color="#34618d"/><stop offset="0.704" stop-color="#2e6d8e"/><stop offset="0.747" stop-color="#27808e"/><stop offset="0.776" stop-color="#218e8d"/><stop offset="0.798" stop-color="#1f988b"/><stop offset="0.819" stop-color="#20a386"/><stop offset="0.834" stop-color="#26ad81"/><stop offset="0.848" stop-color="#32b67a"/><stop offset="0.862" stop-color="#58c765"/><stop offset="0.877" stop-color="#8ed645"/><stop offset="0.891" stop-color="#bddf26"/><stop offset="0.905" stop-color="#dfe318"/><stop offset="0.920" stop-color="#f1e51d"/><stop offset="0.934" stop-color="#f1e51d"/><stop offset="0.948" stop-color="#f1e51d"/><stop offset="0.963" stop-color="#cae11f"/><stop offset="0.977" stop-color="#a2da37"/><stop offset="1.000" stop-color="#86d549"/></linearGradient><linearGradient id="s45" x1="0" y1="0" x2="0" y2="1"><stop offset="0.000" stop-color="#481668"/><stop offset="0.044" stop-color="#481769"/><stop offset="0.102" stop-color="#48186a"/><stop offset="0.159" stop-color="#481b6d"/><stop offset="0.217" stop-color="#482071"/><stop offset="0.274" stop-color="#482576"/><stop offset="0.331" stop-color="#472a7a"/><stop offset="0.389" stop-color="#46327e"/><stop offset="0.446" stop-color="#443983"/><stop offset="0.504" stop-color="#423f85"/><stop offset="0.561" stop-color="#3f4788"/><stop offset="0.618" stop-color="#3b528b"/><stop offset="0.661" stop-color="#355e8d"/><stop offset="0.704" stop-color="#2f6b8e"/><stop offset="0.747" stop-color="#277f8e"/><stop offset="0.776" stop-color="#228d8d"/><stop offset="0.798" stop-color="#1f988b"/><stop offset="0.819" stop-color="#20a386"/><stop offset="0.834" stop-color="#26ad81"/><stop offset="0.848" stop-color="#32b67a"/><stop offset="0.862" stop-color="#58c765"/><stop offset="0.877" stop-color="#8ed645"/><stop offset="0.891" stop-color="#bddf26"/><stop offset="0.905" stop-color="#dfe318"/><stop offset="0.920" stop-color="#f1e51d"/><stop offset="0.934" stop-color="#f1e51d"/><stop offset="0.948" stop-color="#f1e51d"/><stop offset="0.963" stop-color="#cae11f"/><stop offset="0.977" stop-color="#a2da37"/><stop offset="1.000" stop-color="#86d549"/></linearGradient><linearGradient id="s46" x1="0" y1="0" x2="0" y2="1"><stop offset="0.000" stop-color="#471164"/><stop offset="0.044" stop-color="#471365"/><stop offset="0.102" stop-color="#481467"/><stop offset="0.159" stop-color="#481769"/><stop offset="0.217" stop-color="#481c6e"/><stop offset="0.274" stop-color="#482173"/><stop offset="0.331" stop-color="#482677"/><stop offset="0.389" stop-color="#472e7c"/><stop offset="0.446" stop-color="#453581"/><stop offset="0.504" stop-color="#443b84"/><stop offset="0.561" stop-color="#414287"/><stop offset="0.618" stop-color="#3c4f8a"/><stop offset="0.661" stop-color="#365c8d"/><stop offset="0.704" stop-color="#30698e"/><stop offset="0.747" stop-color="#277e8e"/><stop offset="0.776" stop-color="#228c8d"/><stop offset="0.798" stop-color="#1f978b"/><stop offset="0.819" stop-color="#20a386"/><stop offset="0.834" stop-color="#26ad81"/><stop offset="0.848" stop-color="#32b67a"/><stop offset="0.862" stop-color="#58c765"/><stop offset="0.877" stop-color="#8ed645"/><stop offset="0.891" stop-color="#bddf26"/><stop offset="0.905" stop-color="#dfe318"/><stop offset="0.920" stop-color="#f1e51d"/><stop offset="0.934" stop-color="#f1e51d"/><stop offset="0.948" stop-color="#f1e51d"/><stop offset="0.963" stop-color="#cae11f"/><stop offset="0.977" stop-color="#a2da37"/><stop offset="1.000" stop-color="#86d549"/></linearGradient><linearGradient id="s47" x1="0" y1="0" x2="0" y2="1"><stop offset="0.000" stop-color="#470e61"/><stop offset="0.044" stop-color="#471063"/><stop offset="0.102" stop-color="#471164"/><stop offset="0.159" stop-color="#481467"/><stop offset="0.217" stop-color="#481a6c"/><stop offset="0.274" stop-color="#481f70"/><stop offset="0.331" stop-color="#482475"/><stop offset="0.389" stop-color="#472a7a"/><stop offset="0.446" stop-color="#46337f"/><stop offset="0.504" stop-color="#443983"/><stop offset="0.561" stop-color="#424086"/><stop offset="0.618" stop-color="#3d4d8a"/><stop offset="0.661" stop-color="#375a8c"/><stop offset="0.704" stop-color="#31688e"/><stop offset="0.747" stop-color="#287d8e"/><stop offset="0.776" stop-color="#228c8d"/><stop offset="0.798" stop-color="#1f978b"/><stop offset="0.819" stop-color="#20a386"/><stop offset="0.834" stop-color="#26ad81"/><stop offset="0.848" stop-color="#32b67a"/><stop offset="0.862" stop-color="#58c765"/><stop offset="0.877" stop-color="#8ed645"/><stop offset="0.891" stop-color="#bddf26"/><stop offset="0.905" stop-color="#dfe318"/><stop offset="0.920" stop-color="#f1e51d"/><stop offset="0.934" stop-color="#f1e51d"/><stop offset="0.948" stop-color="#f1e51d"/><stop offset="0.963" stop-color="#cae11f"/><stop offset="0.977" stop-color="#a2da37"/><stop offset="1.000" stop-color="#86d549"/></linearGradient><linearGradient id="s48" x1="0" y1="0" x2="0" y2="1"><stop offset="0.000" stop-color="#460a5d"/><stop offset="0.044" stop-color="#460b5e"/><stop offset="0.102" stop-color="#470e61"/><stop offset="0.159" stop-color="#471063"/><stop offset="0.217" stop-color="#481668"/><stop offset="0.274" stop-color="#481c6e"/><stop offset="0.331" stop-color="#482173"/><stop offset="0.389" stop-color="#482878"/><stop offset="0.446" stop-color="#46307e"/><stop offset="0.504" stop-color="#453781"/><stop offset="0.561" stop-color="#433e85"/><stop offset="0.618" stop-color="#3e4a89"/><stop offset="0.661" stop-color="#38588c"/><stop offset="0.704" stop-color="#31678e"/><stop offset="0.747" stop-color="#287c8e"/><stop offset="0.776" stop-color="#228b8d"/><stop offset="0.798" stop-color="#1f978b"/><stop offset="0.819" stop-color="#20a386"/><stop offset="0.834" stop-color="#26ad81"/><stop offset="0.848" stop-color="#32b67a"/><stop offset="0.862" stop-color="#58c765"/><stop offset="0.877" stop-color="#8ed645"/><stop offset="0.891" stop-color="#bddf26"/><stop offset="0.905" stop-color="#dfe318"/><stop offset="0.920" stop-color="#f1e51d"/><stop offset="0.934" stop-color="#f1e51d"/><stop offset="0.948" stop-color="#f1e51d"/><stop offset="0.963" stop-color="#cae11f"/><stop offset="0.977" stop-color="#a2da37"/><stop offset="1.000" stop-color="#86d549"/></linearGradient><linearGradient id="s49" x1="0" y1="0" x2="0" y2="1"><stop offset="0.000" stop-color="#46075a"/><stop offset="0.044" stop-color="#46085c"/><stop offset="0.102" stop-color="#460a5d"/><stop offset="0.159" stop-color="#470d60"/><stop offset="0.217" stop-color="#471365"/><stop offset="0.274" stop-color="#48186a"/><stop offset="0.331" stop-color="#481d6f"/><stop offset="0.389" stop-color="#482576"/><stop offset="0.446" stop-color="#472d7b"/><stop offset="0.504" stop-color="#46337f"/><stop offset="0.561" stop-color="#443b84"/><stop offset="0.618" stop-color="#3f4788"/><stop offset="0.661" stop-color="#39558c"/><stop offset="0.704" stop-color="#32658e"/><stop offset="0.747" stop-color="#297b8e"/><stop offset="0.776" stop-color="#228b8d"/><stop offset="0.798" stop-color="#1f978b"/><stop offset="0.819" stop-color="#20a386"/><stop offset="0.834" stop-color="#26ad81"/><stop offset="0.848" stop-color="#32b67a"/><stop offset="0.862" stop-color="#58c765"/><stop offset="0.877" stop-color="#8ed645"/><stop offset="0.891" stop-color="#bddf26"/><stop offset="0.905" stop-color="#dfe318"/><stop offset="0.920" stop-color="#f1e51d"/><stop offset="0.934" stop-color="#f1e51d"/><stop offset="0.948" stop-color="#f1e51d"/><stop offset="0.963" stop-color="#cae11f"/><stop offset="0.977" stop-color="#a2da37"/><stop offset="1.000" stop-color="#86d549"/></linearGradient><linearGradient id="s50" x1="0" y1="0" x2="0" y2="1"><stop offset="0.000" stop-color="#46075a"/><stop offset="0.044" stop-color="#46085c"/><stop offset="0.102" stop-color="#460a5d"/><stop offset="0.159" stop-color="#470d60"/><stop offset="0.217" stop-color="#471365"/><stop offset="0.274" stop-color="#48186a"/><stop offset="0.331" stop-color="#481f70"/><stop offset="0.389" stop-color="#482576"/><stop offset="0.446" stop-color="#472e7c"/><stop offset="0.504" stop-color="#463480"/><stop offset="0.561" stop-color="#433d84"/><stop offset="0.618" stop-color="#3e4989"/><stop offset="0.661" stop-color="#38588c"/><stop offset="0.704" stop-color="#31678e"/><stop offset="0.747" stop-color="#287d8e"/><stop offset="0.776" stop-color="#228d8d"/><stop offset="0.798" stop-color="#1f998a"/><stop offset="0.819" stop-color="#21a585"/><stop offset="0.834" stop-color="#28ae80"/><stop offset="0.848" stop-color="#37b878"/><stop offset="0.862" stop-color="#5cc863"/><stop offset="0.877" stop-color="#90d743"/><stop offset="0.891" stop-color="#c0df25"/><stop offset="0.905" stop-color="#dfe318"/><stop offset="0.920" stop-color="#f4e61e"/><stop offset="0.934" stop-color="#f4e61e"/><stop offset="0.948" stop-color="#f4e61e"/><stop offset="0.963" stop-color="#cae11f"/><stop offset="0.977" stop-color="#a2da37"/><stop offset="1.000" stop-color="#89d548"/></linearGradient><linearGradient id="s51" x1="0" y1="0" x2="0" y2="1"><stop offset="0.000" stop-color="#46085c"/><stop offset="0.044" stop-color="#460b5e"/><stop offset="0.102" stop-color="#470d60"/><stop offset="0.159" stop-color="#471063"/><stop offset="0.217" stop-color="#481668"/><stop offset="0.274" stop-color="#481b6d"/><stop offset="0.331" stop-color="#482173"/><stop offset="0.389" stop-color="#482878"/><stop offset="0.446" stop-color="#46307e"/><stop offset="0.504" stop-color="#453882"/><stop offset="0.561" stop-color="#424086"/><stop offset="0.618" stop-color="#3d4d8a"/><stop offset="0.661" stop-color="#375b8d"/><stop offset="0.704" stop-color="#2f6b8e"/><stop offset="0.747" stop-color="#27808e"/><stop offset="0.776" stop-color="#21908d"/><stop offset="0.798" stop-color="#1e9c89"/><stop offset="0.819" stop-color="#22a884"/><stop offset="0.834" stop-color="#2cb17e"/><stop offset="0.848" stop-color="#3aba76"/><stop offset="0.862" stop-color="#5ec962"/><stop offset="0.877" stop-color="#93d741"/><stop offset="0.891" stop-color="#c0df25"/><stop offset="0.905" stop-color="#dfe318"/><stop offset="0.920" stop-color="#f4e61e"/><stop offset="0.934" stop-color="#f4e61e"/><stop offset="0.948" stop-color="#f4e61e"/><stop offset="0.963" stop-color="#cde11d"/><stop offset="0.977" stop-color="#a5db36"/><stop offset="1.000" stop-color="#89d548"/></linearGradient><linearGradient id="s52" x1="0" y1="0" x2="0" y2="1"><stop offset="0.000" stop-color="#46075a"/><stop offset="0.044" stop-color="#46085c"/><stop offset="0.102" stop-color="#460a5d"/><stop offset="0.159" stop-color="#470d60"/><stop offset="0.217" stop-color="#471365"/><stop offset="0.274" stop-color="#48186a"/><stop offset="0.331" stop-color="#481f70"/><stop offset="0.389" stop-color="#482576"/><stop offset="0.446" stop-color="#472e7c"/><stop offset="0.504" stop-color="#463480"/><stop offset="0.561" stop-color="#433d84"/><stop offset="0.618" stop-color="#3e4989"/><stop offset="0.661" stop-color="#38588c"/><stop offset="0.704" stop-color="#31678e"/><stop offset="0.747" stop-color="#287d8e"/><stop offset="0.776" stop-color="#228d8d"/><stop offset="0.798" stop-color="#1f998a"/><stop offset="0.819" stop-color="#21a585"/><stop offset="0.834" stop-color="#28ae80"/><stop offset="0.848" stop-color="#37b878"/><stop offset="0.862" stop-color="#5cc863"/><stop offset="0.877" stop-color="#90d743"/><stop offset="0.891" stop-color="#c0df25"/><stop offset="0.905" stop-color="#dfe318"/><stop offset="0.920" stop-color="#f4e61e"/><stop offset="0.934" stop-color="#f4e61e"/><stop offset="0.948" stop-color="#f4e61e"/><stop offset="0.963" stop-color="#cae11f"/><stop offset="0.977" stop-color="#a2da37"/><stop offset="1.000" stop-color="#89d548"/></linearGradient><linearGradient id="s53" x1="0" y1="0" x2="0" y2="1"><stop offset="0.000" stop-color="#450457"/><stop offset="0.044" stop-color="#450559"/><stop offset="0.102" stop-color="#46085c"/><stop offset="0.159" stop-color="#460a5d"/><stop offset="0.217" stop-color="#471063"/><stop offset="0.274" stop-color="#481769"/><stop offset="0.331" stop-color="#481c6e"/><stop offset="0.389" stop-color="#482374"/><stop offset="0.446" stop-color="#472c7a"/><stop offset="0.504" stop-color="#46327e"/><stop offset="0.561" stop-color="#443983"/><stop offset="0.618" stop-color="#404688"/><stop offset="0.661" stop-color="#39558c"/><stop offset="0.704" stop-color="#32658e"/><stop offset="0.747" stop-color="#297b8e"/><stop offset="0.776" stop-color="#228b8d"/><stop offset="0.798" stop-color="#1f978b"/><stop offset="0.819" stop-color="#20a386"/><stop offset="0.834" stop-color="#27ad81"/><stop offset="0.848" stop-color="#34b679"/><stop offset="0.862" stop-color="#58c765"/><stop offset="0.877" stop-color="#8ed645"/><stop offset="0.891" stop-color="#bddf26"/><stop offset="0.905" stop-color="#dfe318"/><stop offset="0.920" stop-color="#f1e51d"/><stop offset="0.934" stop-color="#f1e51d"/><stop offset="0.948" stop-color="#f1e51d"/><stop offset="0.963" stop-color="#cae11f"/><stop offset="0.977" stop-color="#a2da37"/><stop offset="1.000" stop-color="#86d549"/></linearGradient><linearGradient id="s54" x1="0" y1="0" x2="0" y2="1"><stop offset="0.000" stop-color="#46085c"/><stop offset="0.044" stop-color="#460a5d"/><stop offset="0.102" stop-color="#470d60"/><stop offset="0.159" stop-color="#470e61"/><stop offset="0.217" stop-color="#481467"/><stop offset="0.274" stop-color="#481a6c"/><stop offset="0.331" stop-color="#482071"/><stop offset="0.389" stop-color="#482677"/><stop offset="0.446" stop-color="#472e7c"/><stop offset="0.504" stop-color="#463480"/><stop offset="0.561" stop-color="#433d84"/><stop offset="0.618" stop-color="#3f4889"/><stop offset="0.661" stop-color="#39568c"/><stop offset="0.704" stop-color="#31668e"/><stop offset="0.747" stop-color="#287c8e"/><stop offset="0.776" stop-color="#228b8d"/><stop offset="0.798" stop-color="#1f978b"/><stop offset="0.819" stop-color="#20a386"/><stop offset="0.834" stop-color="#26ad81"/><stop offset="0.848" stop-color="#32b67a"/><stop offset="0.862" stop-color="#58c765"/><stop offset="0.877" stop-color="#8ed645"/><stop offset="0.891" stop-color="#bddf26"/><stop offset="0.905" stop-color="#dfe318"/><stop offset="0.920" stop-color="#f1e51d"/><stop offset="0.934" stop-color="#f1e51d"/><stop offset="0.948" stop-color="#f1e51d"/><stop offset="0.963" stop-color="#cae11f"/><stop offset="0.977" stop-color="#a2da37"/><stop offset="1.000" stop-color="#86d549"/></linearGradient><linearGradient id="s55" x1="0" y1="0" x2="0" y2="1"><stop offset="0.000" stop-color="#460b5e"/><stop offset="0.044" stop-color="#470d60"/><stop offset="0.102" stop-color="#471063"/><stop offset="0.159" stop-color="#471164"/><stop offset="0.217" stop-color="#481769"/><stop offset="0.274" stop-color="#481c6e"/><stop offset="0.331" stop-color="#482374"/><stop offset="0.389" stop-color="#482979"/><stop offset="0.446" stop-color="#46307e"/><stop offset="0.504" stop-color="#453781"/><stop offset="0.561" stop-color="#423f85"/><stop offset="0.618" stop-color="#3e4c8a"/><stop offset="0.661" stop-color="#38598c"/><stop offset="0.704" stop-color="#31678e"/><stop offset="0.747" stop-color="#287c8e"/><stop offset="0.776" stop-color="#228c8d"/><stop offset="0.798" stop-color="#1f978b"/><stop offset="0.819" stop-color="#20a386"/><stop offset="0.834" stop-color="#26ad81"/><stop offset="0.848" stop-color="#32b67a"/><stop offset="0.862" stop-color="#58c765"/><stop offset="0.877" stop-color="#8ed645"/><stop offset="0.891" stop-color="#bddf26"/><stop offset="0.905" stop-color="#dfe318"/><stop offset="0.920" stop-color="#f1e51d"/><stop offset="0.934" stop-color="#f1e51d"/><stop offset="0.948" stop-color="#f1e51d"/><stop offset="0.963" stop-color="#cae11f"/><stop offset="0.977" stop-color="#a2da37"/><stop offset="1.000" stop-color="#86d549"/></linearGradient><linearGradient id="s56" x1="0" y1="0" x2="0" y2="1"><stop offset="0.000" stop-color="#471063"/><stop offset="0.044" stop-color="#471164"/><stop offset="0.102" stop-color="#471365"/><stop offset="0.159" stop-color="#481668"/><stop offset="0.217" stop-color="#481b6d"/><stop offset="0.274" stop-color="#482071"/><stop offset="0.331" stop-color="#482677"/><stop offset="0.389" stop-color="#472d7b"/><stop offset="0.446" stop-color="#463480"/><stop offset="0.504" stop-color="#443a83"/><stop offset="0.561" stop-color="#414287"/><stop offset="0.618" stop-color="#3d4e8a"/><stop offset="0.661" stop-color="#375b8d"/><stop offset="0.704" stop-color="#30698e"/><stop offset="0.747" stop-color="#287d8e"/><stop offset="0.776" stop-color="#228c8d"/><stop offset="0.798" stop-color="#1f978b"/><stop offset="0.819" stop-color="#20a386"/><stop offset="0.834" stop-color="#26ad81"/><stop offset="0.848" stop-color="#32b67a"/><stop offset="0.862" stop-color="#58c765"/><stop offset="0.877" stop-color="#8ed645"/><stop offset="0.891" stop-color="#bddf26"/><stop offset="0.905" stop-color="#dfe318"/><stop offset="0.920" stop-color="#f1e51d"/><stop offset="0.934" stop-color="#f1e51d"/><stop offset="0.948" stop-color="#f1e51d"/><stop offset="0.963" stop-color="#cae11f"/><stop offset="0.977" stop-color="#a2da37"/><stop offset="1.000" stop-color="#86d549"/></linearGradient><linearGradient id="s57" x1="0" y1="0" x2="0" y2="1"><stop offset="0.000" stop-color="#471365"/><stop offset="0.044" stop-color="#481467"/><stop offset="0.102" stop-color="#481769"/><stop offset="0.159" stop-color="#48186a"/><stop offset="0.217" stop-color="#481d6f"/><stop offset="0.274" stop-color="#482475"/><stop offset="0.331" stop-color="#482979"/><stop offset="0.389" stop-color="#472f7d"/><stop offset="0.446" stop-color="#453882"/><stop offset="0.504" stop-color="#433e85"/><stop offset="0.561" stop-color="#404588"/><stop offset="0.618" stop-color="#3b518b"/><stop offset="0.661" stop-color="#365d8d"/><stop offset="0.704" stop-color="#306a8e"/><stop offset="0.747" stop-color="#277e8e"/><stop offset="0.776" stop-color="#228d8d"/><stop offset="0.798" stop-color="#1f988b"/><stop offset="0.819" stop-color="#20a386"/><stop offset="0.834" stop-color="#26ad81"/><stop offset="0.848" stop-color="#34b679"/><stop offset="0.862" stop-color="#58c765"/><stop offset="0.877" stop-color="#8ed645"/><stop offset="0.891" stop-color="#bddf26"/><stop offset="0.905" stop-color="#dfe318"/><stop offset="0.920" stop-color="#f1e51d"/><stop offset="0.934" stop-color="#f1e51d"/><stop offset="0.948" stop-color="#f1e51d"/><stop offset="0.963" stop-color="#cae11f"/><stop offset="0.977" stop-color="#a2da37"/><stop offset="1.000" stop-color="#86d549"/></linearGradient><linearGradient id="s58" x1="0" y1="0" x2="0" y2="1"><stop offset="0.000" stop-color="#481668"/><stop offset="0.044" stop-color="#48186a"/><stop offset="0.102" stop-color="#481a6c"/><stop offset="0.159" stop-color="#481b6d"/><stop offset="0.217" stop-color="#482173"/><stop offset="0.274" stop-color="#482677"/><stop offset="0.331" stop-color="#472c7a"/><stop offset="0.389" stop-color="#46337f"/><stop offset="0.446" stop-color="#443b84"/><stop offset="0.504" stop-color="#424186"/><stop offset="0.561" stop-color="#3e4989"/><stop offset="0.618" stop-color="#39558c"/><stop offset="0.661" stop-color="#34618d"/><stop offset="0.704" stop-color="#2e6e8e"/><stop offset="0.747" stop-color="#26828e"/><stop offset="0.776" stop-color="#21908d"/><stop offset="0.798" stop-color="#1e9b8a"/><stop offset="0.819" stop-color="#21a685"/><stop offset="0.834" stop-color="#29af7f"/><stop offset="0.848" stop-color="#37b878"/><stop offset="0.862" stop-color="#5cc863"/><stop offset="0.877" stop-color="#93d741"/><stop offset="0.891" stop-color="#c0df25"/><stop offset="0.905" stop-color="#dfe318"/><stop offset="0.920" stop-color="#f4e61e"/><stop offset="0.934" stop-color="#f4e61e"/><stop offset="0.948" stop-color="#f4e61e"/><stop offset="0.963" stop-color="#cde11d"/><stop offset="0.977" stop-color="#a2da37"/><stop offset="1.000" stop-color="#89d548"/></linearGradient><linearGradient id="s59" x1="0" y1="0" x2="0" y2="1"><stop offset="0.000" stop-color="#481a6c"/><stop offset="0.044" stop-color="#481b6d"/><stop offset="0.102" stop-color="#481d6f"/><stop offset="0.159" stop-color="#481f70"/><stop offset="0.217" stop-color="#482475"/><stop offset="0.274" stop-color="#472a7a"/><stop offset="0.331" stop-color="#472f7d"/><stop offset="0.389" stop-color="#453781"/><stop offset="0.446" stop-color="#423f85"/><stop offset="0.504" stop-color="#3f4788"/><stop offset="0.561" stop-color="#3c4f8a"/><stop offset="0.618" stop-color="#375b8d"/><stop offset="0.661" stop-color="#31668e"/><stop offset="0.704" stop-color="#2c738e"/><stop offset="0.747" stop-color="#24868e"/><stop offset="0.776" stop-color="#1f948c"/><stop offset="0.798" stop-color="#1fa088"/><stop offset="0.819" stop-color="#25ab82"/><stop offset="0.834" stop-color="#2fb47c"/><stop offset="0.848" stop-color="#3dbc74"/><stop offset="0.862" stop-color="#63cb5f"/><stop offset="0.877" stop-color="#98d83e"/><stop offset="0.891" stop-color="#c2df23"/><stop offset="0.905" stop-color="#e2e418"/><stop offset="0.920" stop-color="#f4e61e"/><stop offset="0.934" stop-color="#f4e61e"/><stop offset="0.948" stop-color="#f4e61e"/><stop offset="0.963" stop-color="#cde11d"/><stop offset="0.977" stop-color="#a5db36"/><stop offset="1.000" stop-color="#8bd646"/></linearGradient><linearGradient id="s60" x1="0" y1="0" x2="0" y2="1"><stop offset="0.000" stop-color="#481f70"/><stop offset="0.044" stop-color="#482071"/><stop offset="0.102" stop-color="#482374"/><stop offset="0.159" stop-color="#482475"/><stop offset="0.217" stop-color="#472a7a"/><stop offset="0.274" stop-color="#472f7d"/><stop offset="0.331" stop-color="#453581"/><stop offset="0.389" stop-color="#433d84"/><stop offset="0.446" stop-color="#404688"/><stop offset="0.504" stop-color="#3c4f8a"/><stop offset="0.561" stop-color="#38588c"/><stop offset="0.618" stop-color="#33638d"/><stop offset="0.661" stop-color="#2e6e8e"/><stop offset="0.704" stop-color="#297a8e"/><stop offset="0.747" stop-color="#228d8d"/><stop offset="0.776" stop-color="#1e9b8a"/><stop offset="0.798" stop-color="#21a685"/><stop offset="0.819" stop-color="#2ab07f"/><stop offset="0.834" stop-color="#38b977"/><stop offset="0.848" stop-color="#48c16e"/><stop offset="0.862" stop-color="#6ece58"/><stop offset="0.877" stop-color="#a0da39"/><stop offset="0.891" stop-color="#c8e020"/><stop offset="0.905" stop-color="#e5e419"/><stop offset="0.920" stop-color="#f4e61e"/><stop offset="0.934" stop-color="#f4e61e"/><stop offset="0.948" stop-color="#f4e61e"/><stop offset="0.963" stop-color="#d0e11c"/><stop offset="0.977" stop-color="#a8db34"/><stop offset="1.000" stop-color="#8ed645"/></linearGradient><linearGradient id="s61" x1="0" y1="0" x2="0" y2="1"><stop offset="0.000" stop-color="#482475"/><stop offset="0.044" stop-color="#482576"/><stop offset="0.102" stop-color="#482878"/><stop offset="0.159" stop-color="#472a7a"/><stop offset="0.217" stop-color="#472f7d"/><stop offset="0.274" stop-color="#453581"/><stop offset="0.331" stop-color="#443b84"/><stop offset="0.389" stop-color="#414287"/><stop offset="0.446" stop-color="#3d4e8a"/><stop offset="0.504" stop-color="#38588c"/><stop offset="0.561" stop-color="#34618d"/><stop offset="0.618" stop-color="#2f6c8e"/><stop offset="0.661" stop-color="#2a768e"/><stop offset="0.704" stop-color="#26828e"/><stop offset="0.747" stop-color="#1f948c"/><stop offset="0.776" stop-color="#1fa287"/><stop offset="0.798" stop-color="#26ad81"/><stop offset="0.819" stop-color="#35b779"/><stop offset="0.834" stop-color="#44bf70"/><stop offset="0.848" stop-color="#56c667"/><stop offset="0.862" stop-color="#7ad151"/><stop offset="0.877" stop-color="#a8db34"/><stop offset="0.891" stop-color="#cde11d"/><stop offset="0.905" stop-color="#e7e419"/><stop offset="0.920" stop-color="#f6e620"/><stop offset="0.934" stop-color="#f6e620"/><stop offset="0.948" stop-color="#f6e620"/><stop offset="0.963" stop-color="#d2e21b"/><stop offset="0.977" stop-color="#addc30"/><stop offset="1.000" stop-color="#90d743"/></linearGradient><linearGradient id="s62" x1="0" y1="0" x2="0" y2="1"><stop offset="0.000" stop-color="#482878"/><stop offset="0.044" stop-color="#482979"/><stop offset="0.102" stop-color="#472c7a"/><stop offset="0.159" stop-color="#472e7c"/><stop offset="0.217" stop-color="#46337f"/><stop offset="0.274" stop-color="#443983"/><stop offset="0.331" stop-color="#423f85"/><stop offset="0.389" stop-color="#3f4788"/><stop offset="0.446" stop-color="#3b528b"/><stop offset="0.504" stop-color="#365d8d"/><stop offset="0.561" stop-color="#31678e"/><stop offset="0.618" stop-color="#2c718e"/><stop offset="0.661" stop-color="#287c8e"/><stop offset="0.704" stop-color="#23888e"/><stop offset="0.747" stop-color="#1f998a"/><stop offset="0.776" stop-color="#22a785"/><stop offset="0.798" stop-color="#2cb17e"/><stop offset="0.819" stop-color="#3dbc74"/><stop offset="0.834" stop-color="#4cc26c"/><stop offset="0.848" stop-color="#5ec962"/><stop offset="0.862" stop-color="#84d44b"/><stop offset="0.877" stop-color="#b0dd2f"/><stop offset="0.891" stop-color="#d0e11c"/><stop offset="0.905" stop-color="#e7e419"/><stop offset="0.920" stop-color="#f6e620"/><stop offset="0.934" stop-color="#f6e620"/><stop offset="0.948" stop-color="#f6e620"/><stop offset="0.963" stop-color="#d5e21a"/><stop offset="0.977" stop-color="#addc30"/><stop offset="1.000" stop-color="#93d741"/></linearGradient><linearGradient id="s63" x1="0" y1="0" x2="0" y2="1"><stop offset="0.000" stop-color="#482475"/><stop offset="0.044" stop-color="#482576"/><stop offset="0.102" stop-color="#482878"/><stop offset="0.159" stop-color="#472a7a"/><stop offset="0.217" stop-color="#472f7d"/><stop offset="0.274" stop-color="#453581"/><stop offset="0.331" stop-color="#443b84"/><stop offset="0.389" stop-color="#414287"/><stop offset="0.446" stop-color="#3d4e8a"/><stop offset="0.504" stop-color="#38588c"/><stop offset="0.561" stop-color="#34618d"/><stop offset="0.618" stop-color="#2f6c8e"/><stop offset="0.661" stop-color="#2a768e"/><stop offset="0.704" stop-color="#26828e"/><stop offset="0.747" stop-color="#1f948c"/><stop offset="0.776" stop-color="#1fa287"/><stop offset="0.798" stop-color="#26ad81"/><stop offset="0.819" stop-color="#35b779"/><stop offset="0.834" stop-color="#44bf70"/><stop offset="0.848" stop-color="#56c667"/><stop offset="0.862" stop-color="#7ad151"/><stop offset="0.877" stop-color="#a8db34"/><stop offset="0.891" stop-color="#cde11d"/><stop offset="0.905" stop-color="#e7e419"/><stop offset="0.920" stop-color="#f6e620"/><stop offset="0.934" stop-color="#f6e620"/><stop offset="0.948" stop-color="#f6e620"/><stop offset="0.963" stop-color="#d2e21b"/><stop offset="0.977" stop-color="#addc30"/><stop offset="1.000" stop-color="#90d743"/></linearGradient><linearGradient id="s64" x1="0" y1="0" x2="0" y2="1"><stop offset="0.000" stop-color="#481f70"/><stop offset="0.044" stop-color="#482071"/><stop offset="0.102" stop-color="#482374"/><stop offset="0.159" stop-color="#482576"/><stop offset="0.217" stop-color="#472a7a"/><stop offset="0.274" stop-color="#472f7d"/><stop offset="0.331" stop-color="#453581"/><stop offset="0.389" stop-color="#433d84"/><stop offset="0.446" stop-color="#404688"/><stop offset="0.504" stop-color="#3c4f8a"/><stop offset="0.561" stop-color="#38588c"/><stop offset="0.618" stop-color="#32648e"/><stop offset="0.661" stop-color="#2e6f8e"/><stop offset="0.704" stop-color="#297b8e"/><stop offset="0.747" stop-color="#228d8d"/><stop offset="0.776" stop-color="#1e9b8a"/><stop offset="0.798" stop-color="#21a685"/><stop offset="0.819" stop-color="#2ab07f"/><stop offset="0.834" stop-color="#38b977"/><stop offset="0.848" stop-color="#48c16e"/><stop offset="0.862" stop-color="#6ece58"/><stop offset="0.877" stop-color="#a0da39"/><stop offset="0.891" stop-color="#c8e020"/><stop offset="0.905" stop-color="#e5e419"/><stop offset="0.920" stop-color="#f4e61e"/><stop offset="0.934" stop-color="#f4e61e"/><stop offset="0.948" stop-color="#f4e61e"/><stop offset="0.963" stop-color="#d0e11c"/><stop offset="0.977" stop-color="#a8db34"/><stop offset="1.000" stop-color="#8ed645"/></linearGradient><linearGradient id="s65" x1="0" y1="0" x2="0" y2="1"><stop offset="0.000" stop-color="#481a6c"/><stop offset="0.044" stop-color="#481c6e"/><stop offset="0.102" stop-color="#481d6f"/><stop offset="0.159" stop-color="#482071"/><stop offset="0.217" stop-color="#482576"/><stop offset="0.274" stop-color="#472a7a"/><stop offset="0.331" stop-color="#46307e"/><stop offset="0.389" stop-color="#453781"/><stop offset="0.446" stop-color="#424086"/><stop offset="0.504" stop-color="#3f4788"/><stop offset="0.561" stop-color="#3c508b"/><stop offset="0.618" stop-color="#365c8d"/><stop offset="0.661" stop-color="#31678e"/><stop offset="0.704" stop-color="#2c738e"/><stop offset="0.747" stop-color="#24868e"/><stop offset="0.776" stop-color="#1f948c"/><stop offset="0.798" stop-color="#1fa088"/><stop offset="0.819" stop-color="#25ab82"/><stop offset="0.834" stop-color="#2fb47c"/><stop offset="0.848" stop-color="#3dbc74"/><stop offset="0.862" stop-color="#63cb5f"/><stop offset="0.877" stop-color="#98d83e"/><stop offset="0.891" stop-color="#c2df23"/><stop offset="0.905" stop-color="#e2e418"/><stop offset="0.920" stop-color="#f4e61e"/><stop offset="0.934" stop-color="#f4e61e"/><stop offset="0.948" stop-color="#f4e61e"/><stop offset="0.963" stop-color="#cde11d"/><stop offset="0.977" stop-color="#a5db36"/><stop offset="1.000" stop-color="#8bd646"/></linearGradient><linearGradient id="s66" x1="0" y1="0" x2="0" y2="1"><stop offset="0.000" stop-color="#481769"/><stop offset="0.044" stop-color="#48186a"/><stop offset="0.102" stop-color="#481b6d"/><stop offset="0.159" stop-color="#481c6e"/><stop offset="0.217" stop-color="#482173"/><stop offset="0.274" stop-color="#482677"/><stop offset="0.331" stop-color="#472d7b"/><stop offset="0.389" stop-color="#46337f"/><stop offset="0.446" stop-color="#443b84"/><stop offset="0.504" stop-color="#414287"/><stop offset="0.561" stop-color="#3e4a89"/><stop offset="0.618" stop-color="#39558c"/><stop offset="0.661" stop-color="#33628d"/><stop offset="0.704" stop-color="#2e6f8e"/><stop offset="0.747" stop-color="#26828e"/><stop offset="0.776" stop-color="#21908d"/><stop offset="0.798" stop-color="#1e9b8a"/><stop offset="0.819" stop-color="#21a685"/><stop offset="0.834" stop-color="#29af7f"/><stop offset="0.848" stop-color="#37b878"/><stop offset="0.862" stop-color="#5cc863"/><stop offset="0.877" stop-color="#93d741"/><stop offset="0.891" stop-color="#c0df25"/><stop offset="0.905" stop-color="#dfe318"/><stop offset="0.920" stop-color="#f4e61e"/><stop offset="0.934" stop-color="#f4e61e"/><stop offset="0.948" stop-color="#f4e61e"/><stop offset="0.963" stop-color="#cde11d"/><stop offset="0.977" stop-color="#a2da37"/><stop offset="1.000" stop-color="#89d548"/></linearGradient><linearGradient id="s67" x1="0" y1="0" x2="0" y2="1"><stop offset="0.000" stop-color="#481a6c"/><stop offset="0.044" stop-color="#481b6d"/><stop offset="0.102" stop-color="#481c6e"/><stop offset="0.159" stop-color="#481f70"/><stop offset="0.217" stop-color="#482475"/><stop offset="0.274" stop-color="#482979"/><stop offset="0.331" stop-color="#472f7d"/><stop offset="0.389" stop-color="#453581"/><stop offset="0.446" stop-color="#423f85"/><stop offset="0.504" stop-color="#404688"/><stop offset="0.561" stop-color="#3d4e8a"/><stop offset="0.618" stop-color="#375a8c"/><stop offset="0.661" stop-color="#32658e"/><stop offset="0.704" stop-color="#2c718e"/><stop offset="0.747" stop-color="#25848e"/><stop offset="0.776" stop-color="#20928c"/><stop offset="0.798" stop-color="#1f9e89"/><stop offset="0.819" stop-color="#23a983"/><stop offset="0.834" stop-color="#2db27d"/><stop offset="0.848" stop-color="#3bbb75"/><stop offset="0.862" stop-color="#60ca60"/><stop offset="0.877" stop-color="#95d840"/><stop offset="0.891" stop-color="#c2df23"/><stop offset="0.905" stop-color="#e2e418"/><stop offset="0.920" stop-color="#f4e61e"/><stop offset="0.934" stop-color="#f4e61e"/><stop offset="0.948" stop-color="#f4e61e"/><stop offset="0.963" stop-color="#cde11d"/><stop offset="0.977" stop-color="#a5db36"/><stop offset="1.000" stop-color="#89d548"/></linearGradient><linearGradient id="s68" x1="0" y1="0" x2="0" y2="1"><stop offset="0.000" stop-color="#481b6d"/><stop offset="0.044" stop-color="#481c6e"/><stop offset="0.102" stop-color="#481f70"/><stop offset="0.159" stop-color="#482071"/><stop offset="0.217" stop-color="#482576"/><stop offset="0.274" stop-color="#472c7a"/><stop offset="0.331" stop-color="#46307e"/><stop offset="0.389" stop-color="#453882"/><stop offset="0.446" stop-color="#424086"/><stop offset="0.504" stop-color="#3f4889"/><stop offset="0.561" stop-color="#3c508b"/><stop offset="0.618" stop-color="#365c8d"/><stop offset="0.661" stop-color="#31678e"/><stop offset="0.704" stop-color="#2c738e"/><stop offset="0.747" stop-color="#24868e"/><stop offset="0.776" stop-color="#1f948c"/><stop offset="0.798" stop-color="#1fa088"/><stop offset="0.819" stop-color="#25ab82"/><stop offset="0.834" stop-color="#2fb47c"/><stop offset="0.848" stop-color="#3fbc73"/><stop offset="0.862" stop-color="#65cb5e"/><stop offset="0.877" stop-color="#98d83e"/><stop offset="0.891" stop-color="#c2df23"/><stop offset="0.905" stop-color="#e2e418"/><stop offset="0.920" stop-color="#f4e61e"/><stop offset="0.934" stop-color="#f4e61e"/><stop offset="0.948" stop-color="#f4e61e"/><stop offset="0.963" stop-color="#cde11d"/><stop offset="0.977" stop-color="#a5db36"/><stop offset="1.000" stop-color="#8bd646"/></linearGradient><linearGradient id="s69" x1="0" y1="0" x2="0" y2="1"><stop offset="0.000" stop-color="#481a6c"/><stop offset="0.044" stop-color="#481b6d"/><stop offset="0.102" stop-color="#481d6f"/><stop offset="0.159" stop-color="#481f70"/><stop offset="0.217" stop-color="#482475"/><stop offset="0.274" stop-color="#472a7a"/><stop offset="0.331" stop-color="#472f7d"/><stop offset="0.389" stop-color="#453781"/><stop offset="0.446" stop-color="#423f85"/><stop offset="0.504" stop-color="#404688"/><stop offset="0.561" stop-color="#3d4e8a"/><stop offset="0.618" stop-color="#375a8c"/><stop offset="0.661" stop-color="#32658e"/><stop offset="0.704" stop-color="#2c718e"/><stop offset="0.747" stop-color="#25848e"/><stop offset="0.776" stop-color="#20928c"/><stop offset="0.798" stop-color="#1f9e89"/><stop offset="0.819" stop-color="#23a983"/><stop offset="0.834" stop-color="#2db27d"/><stop offset="0.848" stop-color="#3bbb75"/><stop offset="0.862" stop-color="#60ca60"/><stop offset="0.877" stop-color="#95d840"/><stop offset="0.891" stop-color="#c2df23"/><stop offset="0.905" stop-color="#e2e418"/><stop offset="0.920" stop-color="#f4e61e"/><stop offset="0.934" stop-color="#f4e61e"/><stop offset="0.948" stop-color="#f4e61e"/><stop offset="0.963" stop-color="#cde11d"/><stop offset="0.977" stop-color="#a5db36"/><stop offset="1.000" stop-color="#89d548"/></linearGradient><linearGradient id="s70" x1="0" y1="0" x2="0" y2="1"><stop offset="0.000" stop-color="#48186a"/><stop offset="0.044" stop-color="#481a6c"/><stop offset="0.102" stop-color="#481b6d"/><stop offset="0.159" stop-color="#481d6f"/><stop offset="0.217" stop-color="#482374"/><stop offset="0.274" stop-color="#482878"/><stop offset="0.331" stop-color="#472e7c"/><stop offset="0.389" stop-color="#463480"/><stop offset="0.446" stop-color="#433d84"/><stop offset="0.504" stop-color="#414487"/><stop offset="0.561" stop-color="#3e4a89"/><stop offset="0.618" stop-color="#39568c"/><stop offset="0.661" stop-color="#33628d"/><stop offset="0.704" stop-color="#2e6f8e"/><stop offset="0.747" stop-color="#26828e"/><stop offset="0.776" stop-color="#21918c"/><stop offset="0.798" stop-color="#1e9b8a"/><stop offset="0.819" stop-color="#21a685"/><stop offset="0.834" stop-color="#29af7f"/><stop offset="0.848" stop-color="#37b878"/><stop offset="0.862" stop-color="#5cc863"/><stop offset="0.877" stop-color="#93d741"/><stop offset="0.891" stop-color="#c0df25"/><stop offset="0.905" stop-color="#dfe318"/><stop offset="0.920" stop-color="#f4e61e"/><stop offset="0.934" stop-color="#f4e61e"/><stop offset="0.948" stop-color="#f4e61e"/><stop offset="0.963" stop-color="#cde11d"/><stop offset="0.977" stop-color="#a2da37"/><stop offset="1.000" stop-color="#89d548"/></linearGradient><linearGradient id="s71" x1="0" y1="0" x2="0" y2="1"><stop offset="0.000" stop-color="#481a6c"/><stop offset="0.044" stop-color="#481c6e"/><stop offset="0.102" stop-color="#481d6f"/><stop offset="0.159" stop-color="#482071"/><stop offset="0.217" stop-color="#482576"/><stop offset="0.274" stop-color="#472a7a"/><stop offset="0.331" stop-color="#46307e"/><stop offset="0.389" stop-color="#453781"/><stop offset="0.446" stop-color="#423f85"/><stop offset="0.504" stop-color="#3f4788"/><stop offset="0.561" stop-color="#3c4f8a"/><stop offset="0.618" stop-color="#375b8d"/><stop offset="0.661" stop-color="#31668e"/><stop offset="0.704" stop-color="#2c718e"/><stop offset="0.747" stop-color="#25848e"/><stop offset="0.776" stop-color="#20928c"/><stop offset="0.798" stop-color="#1f9e89"/><stop offset="0.819" stop-color="#23a983"/><stop offset="0.834" stop-color="#2db27d"/><stop offset="0.848" stop-color="#3bbb75"/><stop offset="0.862" stop-color="#60ca60"/><stop offset="0.877" stop-color="#95d840"/><stop offset="0.891" stop-color="#c2df23"/><stop offset="0.905" stop-color="#e2e418"/><stop offset="0.920" stop-color="#f4e61e"/><stop offset="0.934" stop-color="#f4e61e"/><stop offset="0.948" stop-color="#f4e61e"/><stop offset="0.963" stop-color="#cde11d"/><stop offset="0.977" stop-color="#a5db36"/><stop offset="1.000" stop-color="#8bd646"/></linearGradient><linearGradient id="s72" x1="0" y1="0" x2="0" y2="1"><stop offset="0.000" stop-color="#481d6f"/><stop offset="0.044" stop-color="#482071"/><stop offset="0.102" stop-color="#482173"/><stop offset="0.159" stop-color="#482475"/><stop offset="0.217" stop-color="#482979"/><stop offset="0.274" stop-color="#472e7c"/><stop offset="0.331" stop-color="#463480"/><stop offset="0.389" stop-color="#443b84"/><stop offset="0.446" stop-color="#404588"/><stop offset="0.504" stop-color="#3d4d8a"/><stop offset="0.561" stop-color="#39558c"/><stop offset="0.618" stop-color="#34618d"/><stop offset="0.661" stop-color="#2f6c8e"/><stop offset="0.704" stop-color="#2a788e"/><stop offset="0.747" stop-color="#238a8d"/><stop offset="0.776" stop-color="#1f988b"/><stop offset="0.798" stop-color="#1fa287"/><stop offset="0.819" stop-color="#27ad81"/><stop offset="0.834" stop-color="#34b679"/><stop offset="0.848" stop-color="#44bf70"/><stop offset="0.862" stop-color="#69cd5b"/><stop offset="0.877" stop-color="#9bd93c"/><stop offset="0.891" stop-color="#c5e021"/><stop offset="0.905" stop-color="#e2e418"/><stop offset="0.920" stop-color="#f4e61e"/><stop offset="0.934" stop-color="#f4e61e"/><stop offset="0.948" stop-color="#f4e61e"/><stop offset="0.963" stop-color="#d0e11c"/><stop offset="0.977" stop-color="#a8db34"/><stop offset="1.000" stop-color="#8bd646"/></linearGradient><linearGradient id="s73" x1="0" y1="0" x2="0" y2="1"><stop offset="0.000" stop-color="#482374"/><stop offset="0.044" stop-color="#482475"/><stop offset="0.102" stop-color="#482576"/><stop offset="0.159" stop-color="#482878"/><stop offset="0.217" stop-color="#472d7b"/><stop offset="0.274" stop-color="#46337f"/><stop offset="0.331" stop-color="#443983"/><stop offset="0.389" stop-color="#424086"/><stop offset="0.446" stop-color="#3e4a89"/><stop offset="0.504" stop-color="#3a538b"/><stop offset="0.561" stop-color="#365c8d"/><stop offset="0.618" stop-color="#31688e"/><stop offset="0.661" stop-color="#2c728e"/><stop offset="0.704" stop-color="#277e8e"/><stop offset="0.747" stop-color="#21908d"/><stop offset="0.776" stop-color="#1f9e89"/><stop offset="0.798" stop-color="#22a884"/><stop offset="0.819" stop-color="#2eb37c"/><stop offset="0.834" stop-color="#3bbb75"/><stop offset="0.848" stop-color="#4ec36b"/><stop offset="0.862" stop-color="#73d056"/><stop offset="0.877" stop-color="#a2da37"/><stop offset="0.891" stop-color="#cae11f"/><stop offset="0.905" stop-color="#e5e419"/><stop offset="0.920" stop-color="#f4e61e"/><stop offset="0.934" stop-color="#f4e61e"/><stop offset="0.948" stop-color="#f4e61e"/><stop offset="0.963" stop-color="#d2e21b"/><stop offset="0.977" stop-color="#aadc32"/><stop offset="1.000" stop-color="#8ed645"/></linearGradient><linearGradient id="s74" x1="0" y1="0" x2="0" y2="1"><stop offset="0.000" stop-color="#482576"/><stop offset="0.044" stop-color="#482677"/><stop offset="0.102" stop-color="#482979"/><stop offset="0.159" stop-color="#472a7a"/><stop offset="0.217" stop-color="#46307e"/><stop offset="0.274" stop-color="#453581"/><stop offset="0.331" stop-color="#443b84"/><stop offset="0.389" stop-color="#414487"/><stop offset="0.446" stop-color="#3d4e8a"/><stop offset="0.504" stop-color="#38588c"/><stop offset="0.561" stop-color="#34618d"/><stop offset="0.618" stop-color="#2f6c8e"/><stop offset="0.661" stop-color="#2a768e"/><stop offset="0.704" stop-color="#26828e"/><stop offset="0.747" stop-color="#20938c"/><stop offset="0.776" stop-color="#1fa187"/><stop offset="0.798" stop-color="#25ac82"/><stop offset="0.819" stop-color="#34b679"/><stop offset="0.834" stop-color="#42be71"/><stop offset="0.848" stop-color="#54c568"/><stop offset="0.862" stop-color="#7ad151"/><stop offset="0.877" stop-color="#a8db34"/><stop offset="0.891" stop-color="#cde11d"/><stop offset="0.905" stop-color="#e7e419"/><stop offset="0.920" stop-color="#f6e620"/><stop offset="0.934" stop-color="#f6e620"/><stop offset="0.948" stop-color="#f6e620"/><stop offset="0.963" stop-color="#d2e21b"/><stop offset="0.977" stop-color="#aadc32"/><stop offset="1.000" stop-color="#90d743"/></linearGradient><linearGradient id="s75" x1="0" y1="0" x2="0" y2="1"><stop offset="0.000" stop-color="#482374"/><stop offset="0.044" stop-color="#482475"/><stop offset="0.102" stop-color="#482677"/><stop offset="0.159" stop-color="#482878"/><stop offset="0.217" stop-color="#472e7c"/><stop offset="0.274" stop-color="#46337f"/><stop offset="0.331" stop-color="#443983"/><stop offset="0.389" stop-color="#424086"/><stop offset="0.446" stop-color="#3e4a89"/><stop offset="0.504" stop-color="#3a538b"/><stop offset="0.561" stop-color="#365d8d"/><stop offset="0.618" stop-color="#31688e"/><stop offset="0.661" stop-color="#2c728e"/><stop offset="0.704" stop-color="#277e8e"/><stop offset="0.747" stop-color="#21908d"/><stop offset="0.776" stop-color="#1f9e89"/><stop offset="0.798" stop-color="#22a884"/><stop offset="0.819" stop-color="#2eb37c"/><stop offset="0.834" stop-color="#3bbb75"/><stop offset="0.848" stop-color="#4ec36b"/><stop offset="0.862" stop-color="#73d056"/><stop offset="0.877" stop-color="#a2da37"/><stop offset="0.891" stop-color="#cae11f"/><stop offset="0.905" stop-color="#e5e419"/><stop offset="0.920" stop-color="#f4e61e"/><stop offset="0.934" stop-color="#f4e61e"/><stop offset="0.948" stop-color="#f4e61e"/><stop offset="0.963" stop-color="#d2e21b"/><stop offset="0.977" stop-color="#aadc32"/><stop offset="1.000" stop-color="#8ed645"/></linearGradient><linearGradient id="s76" x1="0" y1="0" x2="0" y2="1"><stop offset="0.000" stop-color="#481f70"/><stop offset="0.044" stop-color="#482071"/><stop offset="0.102" stop-color="#482173"/><stop offset="0.159" stop-color="#482475"/><stop offset="0.217" stop-color="#482979"/><stop offset="0.274" stop-color="#472f7d"/><stop offset="0.331" stop-color="#463480"/><stop offset="0.389" stop-color="#443b84"/><stop offset="0.446" stop-color="#404588"/><stop offset="0.504" stop-color="#3d4d8a"/><stop offset="0.561" stop-color="#39558c"/><stop offset="0.618" stop-color="#34618d"/><stop offset="0.661" stop-color="#2f6c8e"/><stop offset="0.704" stop-color="#2a788e"/><stop offset="0.747" stop-color="#238a8d"/><stop offset="0.776" stop-color="#1f988b"/><stop offset="0.798" stop-color="#1fa287"/><stop offset="0.819" stop-color="#27ad81"/><stop offset="0.834" stop-color="#34b679"/><stop offset="0.848" stop-color="#44bf70"/><stop offset="0.862" stop-color="#69cd5b"/><stop offset="0.877" stop-color="#9bd93c"/><stop offset="0.891" stop-color="#c5e021"/><stop offset="0.905" stop-color="#e2e418"/><stop offset="0.920" stop-color="#f4e61e"/><stop offset="0.934" stop-color="#f4e61e"/><stop offset="0.948" stop-color="#f4e61e"/><stop offset="0.963" stop-color="#d0e11c"/><stop offset="0.977" stop-color="#a8db34"/><stop offset="1.000" stop-color="#8bd646"/></linearGradient><linearGradient id="s77" x1="0" y1="0" x2="0" y2="1"><stop offset="0.000" stop-color="#481b6d"/><stop offset="0.044" stop-color="#481c6e"/><stop offset="0.102" stop-color="#481d6f"/><stop offset="0.159" stop-color="#482071"/><stop offset="0.217" stop-color="#482576"/><stop offset="0.274" stop-color="#472a7a"/><stop offset="0.331" stop-color="#46307e"/><stop offset="0.389" stop-color="#453882"/><stop offset="0.446" stop-color="#424086"/><stop offset="0.504" stop-color="#3f4788"/><stop offset="0.561" stop-color="#3c4f8a"/><stop offset="0.618" stop-color="#375b8d"/><stop offset="0.661" stop-color="#31668e"/><stop offset="0.704" stop-color="#2c728e"/><stop offset="0.747" stop-color="#25848e"/><stop offset="0.776" stop-color="#20938c"/><stop offset="0.798" stop-color="#1f9e89"/><stop offset="0.819" stop-color="#23a983"/><stop offset="0.834" stop-color="#2db27d"/><stop offset="0.848" stop-color="#3bbb75"/><stop offset="0.862" stop-color="#60ca60"/><stop offset="0.877" stop-color="#95d840"/><stop offset="0.891" stop-color="#c2df23"/><stop offset="0.905" stop-color="#e2e418"/><stop offset="0.920" stop-color="#f4e61e"/><stop offset="0.934" stop-color="#f4e61e"/><stop offset="0.948" stop-color="#f4e61e"/><stop offset="0.963" stop-color="#cde11d"/><stop offset="0.977" stop-color="#a5db36"/><stop offset="1.000" stop-color="#8bd646"/></linearGradient><linearGradient id="s78" x1="0" y1="0" x2="0" y2="1"><stop offset="0.000" stop-color="#48186a"/><stop offset="0.044" stop-color="#481a6c"/><stop offset="0.102" stop-color="#481c6e"/><stop offset="0.159" stop-color="#481d6f"/><stop offset="0.217" stop-color="#482374"/><stop offset="0.274" stop-color="#482878"/><stop offset="0.331" stop-color="#472e7c"/><stop offset="0.389" stop-color="#463480"/><stop offset="0.446" stop-color="#433d84"/><stop offset="0.504" stop-color="#414487"/><stop offset="0.561" stop-color="#3e4a89"/><stop offset="0.618" stop-color="#39568c"/><stop offset="0.661" stop-color="#33628d"/><stop offset="0.704" stop-color="#2e6f8e"/><stop offset="0.747" stop-color="#26828e"/><stop offset="0.776" stop-color="#21908d"/><stop offset="0.798" stop-color="#1e9b8a"/><stop offset="0.819" stop-color="#21a685"/><stop offset="0.834" stop-color="#29af7f"/><stop offset="0.848" stop-color="#37b878"/><stop offset="0.862" stop-color="#5cc863"/><stop offset="0.877" stop-color="#90d743"/><stop offset="0.891" stop-color="#c0df25"/><stop offset="0.905" stop-color="#dfe318"/><stop offset="0.920" stop-color="#f4e61e"/><stop offset="0.934" stop-color="#f4e61e"/><stop offset="0.948" stop-color="#f4e61e"/><stop offset="0.963" stop-color="#cae11f"/><stop offset="0.977" stop-color="#a2da37"/><stop offset="1.000" stop-color="#89d548"/></linearGradient><linearGradient id="s79" x1="0" y1="0" x2="0" y2="1"><stop offset="0.000" stop-color="#481769"/><stop offset="0.044" stop-color="#48186a"/><stop offset="0.102" stop-color="#481a6c"/><stop offset="0.159" stop-color="#481c6e"/><stop offset="0.217" stop-color="#482173"/><stop offset="0.274" stop-color="#482677"/><stop offset="0.331" stop-color="#472d7b"/><stop offset="0.389" stop-color="#46337f"/><stop offset="0.446" stop-color="#443a83"/><stop offset="0.504" stop-color="#424086"/><stop offset="0.561" stop-color="#3f4889"/><stop offset="0.618" stop-color="#3a538b"/><stop offset="0.661" stop-color="#355f8d"/><stop offset="0.704" stop-color="#2f6c8e"/><stop offset="0.747" stop-color="#277f8e"/><stop offset="0.776" stop-color="#218e8d"/><stop offset="0.798" stop-color="#1f988b"/><stop offset="0.819" stop-color="#20a386"/><stop offset="0.834" stop-color="#26ad81"/><stop offset="0.848" stop-color="#34b679"/><stop offset="0.862" stop-color="#58c765"/><stop offset="0.877" stop-color="#8ed645"/><stop offset="0.891" stop-color="#bddf26"/><stop offset="0.905" stop-color="#dfe318"/><stop offset="0.920" stop-color="#f1e51d"/><stop offset="0.934" stop-color="#f1e51d"/><stop offset="0.948" stop-color="#f1e51d"/><stop offset="0.963" stop-color="#cae11f"/><stop offset="0.977" stop-color="#a2da37"/><stop offset="1.000" stop-color="#86d549"/></linearGradient><linearGradient id="s80" x1="0" y1="0" x2="0" y2="1"><stop offset="0.000" stop-color="#481467"/><stop offset="0.044" stop-color="#481668"/><stop offset="0.102" stop-color="#481769"/><stop offset="0.159" stop-color="#481a6c"/><stop offset="0.217" stop-color="#481f70"/><stop offset="0.274" stop-color="#482475"/><stop offset="0.331" stop-color="#482979"/><stop offset="0.389" stop-color="#46307e"/><stop offset="0.446" stop-color="#453882"/><stop offset="0.504" stop-color="#433e85"/><stop offset="0.561" stop-color="#404688"/><stop offset="0.618" stop-color="#3b518b"/><stop offset="0.661" stop-color="#365d8d"/><stop offset="0.704" stop-color="#2f6b8e"/><stop offset="0.747" stop-color="#277e8e"/><stop offset="0.776" stop-color="#228d8d"/><stop offset="0.798" stop-color="#1f988b"/><stop offset="0.819" stop-color="#20a386"/><stop offset="0.834" stop-color="#26ad81"/><stop offset="0.848" stop-color="#32b67a"/><stop offset="0.862" stop-color="#58c765"/><stop offset="0.877" stop-color="#8ed645"/><stop offset="0.891" stop-color="#bddf26"/><stop offset="0.905" stop-color="#dfe318"/><stop offset="0.920" stop-color="#f1e51d"/><stop offset="0.934" stop-color="#f1e51d"/><stop offset="0.948" stop-color="#f1e51d"/><stop offset="0.963" stop-color="#cae11f"/><stop offset="0.977" stop-color="#a2da37"/><stop offset="1.000" stop-color="#86d549"/></linearGradient><clipPath id="cb"><rect x="33.0" y="288.9" width="252.89999999999998" height="69.70000000000005"/></clipPath></defs><g clip-path="url(#cb)"><rect x="33.00" y="288.9" width="7.30" height="69.70" fill="url(#s0)"/><rect x="40.00" y="288.9" width="1.30" height="69.70" fill="url(#s1)"/><rect x="41.00" y="288.9" width="1.30" height="69.70" fill="url(#s2)"/><rect x="42.00" y="288.9" width="1.30" height="69.70" fill="url(#s3)"/><rect x="43.00" y="288.9" width="1.30" height="69.70" fill="url(#s4)"/><rect x="44.00" y="288.9" width="1.30" height="69.70" fill="url(#s5)"/><rect x="45.00" y="288.9" width="1.30" height="69.70" fill="url(#s6)"/><rect x="46.00" y="288.9" width="1.30" height="69.70" fill="url(#s7)"/><rect x="47.00" y="288.9" width="1.30" height="69.70" fill="url(#s8)"/><rect x="48.00" y="288.9" width="1.30" height="69.70" fill="url(#s9)"/><rect x="49.00" y="288.9" width="1.30" height="69.70" fill="url(#s10)"/><rect x="50.00" y="288.9" width="1.30" height="69.70" fill="url(#s11)"/><rect x="51.00" y="288.9" width="1.30" height="69.70" fill="url(#s12)"/><rect x="52.00" y="288.9" width="1.30" height="69.70" fill="url(#s13)"/><rect x="53.00" y="288.9" width="1.30" height="69.70" fill="url(#s14)"/><rect x="54.00" y="288.9" width="1.30" height="69.70" fill="url(#s15)"/><rect x="55.00" y="288.9" width="1.30" height="69.70" fill="url(#s16)"/><rect x="56.00" y="288.9" width="2.30" height="69.70" fill="url(#s17)"/><rect x="58.00" y="288.9" width="1.30" height="69.70" fill="url(#s18)"/><rect x="59.00" y="288.9" width="1.30" height="69.70" fill="url(#s19)"/><rect x="60.00" y="288.9" width="1.30" height="69.70" fill="url(#s20)"/><rect x="61.00" y="288.9" width="1.30" height="69.70" fill="url(#s21)"/><rect x="62.00" y="288.9" width="1.30" height="69.70" fill="url(#s22)"/><rect x="63.00" y="288.9" width="1.30" height="69.70" fill="url(#s23)"/><rect x="64.00" y="288.9" width="1.30" height="69.70" fill="url(#s24)"/><rect x="65.00" y="288.9" width="1.30" height="69.70" fill="url(#s25)"/><rect x="66.00" y="288.9" width="1.30" height="69.70" fill="url(#s26)"/><rect x="67.00" y="288.9" width="1.30" height="69.70" fill="url(#s27)"/><rect x="68.00" y="288.9" width="1.30" height="69.70" fill="url(#s28)"/><rect x="69.00" y="288.9" width="2.30" height="69.70" fill="url(#s29)"/><rect x="71.00" y="288.9" width="1.30" height="69.70" fill="url(#s30)"/><rect x="72.00" y="288.9" width="1.30" height="69.70" fill="url(#s31)"/><rect x="73.00" y="288.9" width="1.30" height="69.70" fill="url(#s32)"/><rect x="74.00" y="288.9" width="1.30" height="69.70" fill="url(#s33)"/><rect x="75.00" y="288.9" width="1.30" height="69.70" fill="url(#s34)"/><rect x="76.00" y="288.9" width="1.30" height="69.70" fill="url(#s35)"/><rect x="77.00" y="288.9" width="1.30" height="69.70" fill="url(#s36)"/><rect x="78.00" y="288.9" width="1.30" height="69.70" fill="url(#s37)"/><rect x="79.00" y="288.9" width="1.30" height="69.70" fill="url(#s38)"/><rect x="80.00" y="288.9" width="2.30" height="69.70" fill="url(#s39)"/><rect x="82.00" y="288.9" width="2.30" height="69.70" fill="url(#s40)"/><rect x="84.00" y="288.9" width="2.30" height="69.70" fill="url(#s41)"/><rect x="86.00" y="288.9" width="2.30" height="69.70" fill="url(#s42)"/><rect x="88.00" y="288.9" width="2.30" height="69.70" fill="url(#s43)"/><rect x="90.00" y="288.9" width="3.30" height="69.70" fill="url(#s44)"/><rect x="93.00" y="288.9" width="3.30" height="69.70" fill="url(#s45)"/><rect x="96.00" y="288.9" width="2.30" height="69.70" fill="url(#s46)"/><rect x="98.00" y="288.9" width="3.30" height="69.70" fill="url(#s47)"/><rect x="101.00" y="288.9" width="5.30" height="69.70" fill="url(#s48)"/><rect x="106.00" y="288.9" width="5.30" height="69.70" fill="url(#s49)"/><rect x="111.00" y="288.9" width="2.30" height="69.70" fill="url(#s50)"/><rect x="113.00" y="288.9" width="3.30" height="69.70" fill="url(#s51)"/><rect x="116.00" y="288.9" width="2.30" height="69.70" fill="url(#s52)"/><rect x="118.00" y="288.9" width="81.30" height="69.70" fill="url(#s53)"/><rect x="199.00" y="288.9" width="3.30" height="69.70" fill="url(#s54)"/><rect x="202.00" y="288.9" width="4.30" height="69.70" fill="url(#s55)"/><rect x="206.00" y="288.9" width="4.30" height="69.70" fill="url(#s56)"/><rect x="210.00" y="288.9" width="3.30" height="69.70" fill="url(#s57)"/><rect x="213.00" y="288.9" width="1.30" height="69.70" fill="url(#s58)"/><rect x="214.00" y="288.9" width="1.30" height="69.70" fill="url(#s59)"/><rect x="215.00" y="288.9" width="1.30" height="69.70" fill="url(#s60)"/><rect x="216.00" y="288.9" width="1.30" height="69.70" fill="url(#s61)"/><rect x="217.00" y="288.9" width="2.30" height="69.70" fill="url(#s62)"/><rect x="219.00" y="288.9" width="1.30" height="69.70" fill="url(#s63)"/><rect x="220.00" y="288.9" width="1.30" height="69.70" fill="url(#s64)"/><rect x="221.00" y="288.9" width="1.30" height="69.70" fill="url(#s65)"/><rect x="222.00" y="288.9" width="4.30" height="69.70" fill="url(#s66)"/><rect x="226.00" y="288.9" width="2.30" height="69.70" fill="url(#s67)"/><rect x="228.00" y="288.9" width="5.30" height="69.70" fill="url(#s68)"/><rect x="233.00" y="288.9" width="2.30" height="69.70" fill="url(#s69)"/><rect x="235.00" y="288.9" width="3.30" height="69.70" fill="url(#s70)"/><rect x="238.00" y="288.9" width="1.30" height="69.70" fill="url(#s71)"/><rect x="239.00" y="288.9" width="1.30" height="69.70" fill="url(#s72)"/><rect x="240.00" y="288.9" width="1.30" height="69.70" fill="url(#s73)"/><rect x="241.00" y="288.9" width="2.30" height="69.70" fill="url(#s74)"/><rect x="243.00" y="288.9" width="1.30" height="69.70" fill="url(#s75)"/><rect x="244.00" y="288.9" width="1.30" height="69.70" fill="url(#s76)"/><rect x="245.00" y="288.9" width="1.30" height="69.70" fill="url(#s77)"/><rect x="246.00" y="288.9" width="2.30" height="69.70" fill="url(#s78)"/><rect x="248.00" y="288.9" width="30.30" height="69.70" fill="url(#s79)"/><rect x="278.00" y="288.9" width="8.20" height="69.70" fill="url(#s80)"/></g>
<rect x="33.0" y="288.9" width="252.89999999999998" height="69.70000000000005" fill="none" stroke="#444" stroke-width="0.6"/>
<line x1="30.4" y1="336.70" x2="33.0" y2="336.70" stroke="#444" stroke-width="0.8"/>
<text x="29" y="339.70" font-family="Liberation Sans, sans-serif" font-size="8.6" fill="#1a1a1a" text-anchor="end" textLength="9.3" lengthAdjust="spacingAndGlyphs">20</text>
<line x1="30.4" y1="312.95" x2="33.0" y2="312.95" stroke="#444" stroke-width="0.8"/>
<text x="29" y="315.95" font-family="Liberation Sans, sans-serif" font-size="8.6" fill="#1a1a1a" text-anchor="end" textLength="9.3" lengthAdjust="spacingAndGlyphs">40</text>
<line x1="30.4" y1="289.20" x2="33.0" y2="289.20" stroke="#444" stroke-width="0.8"/>
<text x="29" y="292.20" font-family="Liberation Sans, sans-serif" font-size="8.6" fill="#1a1a1a" text-anchor="end" textLength="9.3" lengthAdjust="spacingAndGlyphs">60</text>
<text transform="translate(14.6,360.6) rotate(-90)" font-family="Liberation Sans, sans-serif" font-size="9.8" fill="#1a1a1a" textLength="71.3" lengthAdjust="spacingAndGlyphs">Frequency [Hz]</text>
<text x="147.4" y="286.2" font-family="Liberation Sans, sans-serif" font-size="9.9" fill="#1a1a1a" textLength="23.3" lengthAdjust="spacingAndGlyphs">RA42</text>
<line x1="32.50" y1="358.6" x2="32.50" y2="361.20000000000005" stroke="#444" stroke-width="0.8"/>
<line x1="68.57" y1="358.6" x2="68.57" y2="361.20000000000005" stroke="#444" stroke-width="0.8"/>
<line x1="104.64" y1="358.6" x2="104.64" y2="361.20000000000005" stroke="#444" stroke-width="0.8"/>
<line x1="140.71" y1="358.6" x2="140.71" y2="361.20000000000005" stroke="#444" stroke-width="0.8"/>
<line x1="176.78" y1="358.6" x2="176.78" y2="361.20000000000005" stroke="#444" stroke-width="0.8"/>
<line x1="212.85" y1="358.6" x2="212.85" y2="361.20000000000005" stroke="#444" stroke-width="0.8"/>
<line x1="248.92" y1="358.6" x2="248.92" y2="361.20000000000005" stroke="#444" stroke-width="0.8"/>
<line x1="284.99" y1="358.6" x2="284.99" y2="361.20000000000005" stroke="#444" stroke-width="0.8"/>
<rect x="301.3" y="289" width="4" height="70.1" fill="url(#vg)" stroke="#444" stroke-width="0.5"/>
<line x1="305.3" y1="310.70" x2="307.8" y2="310.70" stroke="#444" stroke-width="0.8"/>
<text x="308.9" y="314.00" font-family="Liberation Sans, sans-serif" font-size="9.2" fill="#1a1a1a" textLength="21.9" lengthAdjust="spacingAndGlyphs">−160</text>
<line x1="305.3" y1="334.90" x2="307.8" y2="334.90" stroke="#444" stroke-width="0.8"/>
<text x="308.9" y="338.20" font-family="Liberation Sans, sans-serif" font-size="9.2" fill="#1a1a1a" textLength="21.9" lengthAdjust="spacingAndGlyphs">−170</text>
<line x1="305.3" y1="359.10" x2="307.8" y2="359.10" stroke="#444" stroke-width="0.8"/>
<text x="308.9" y="362.40" font-family="Liberation Sans, sans-serif" font-size="9.2" fill="#1a1a1a" textLength="21.9" lengthAdjust="spacingAndGlyphs">−180</text>
<text transform="translate(340.1,349.3) rotate(-90)" font-family="Liberation Sans, sans-serif" font-size="9.7" fill="#1a1a1a" textLength="50.9" lengthAdjust="spacingAndGlyphs">Power [dB]</text>
<text x="0.8" y="372.6" font-family="Liberation Sans, sans-serif" font-size="14" font-weight="bold" fill="#000">c</text>
<polyline points="32.6,414.9 38,414.9 40.3,413.9 41.7,404.5 42.9,398.4 43.7,407 45.1,397.6 46.3,396.7 47.2,404.5 48.5,395.9 50.6,389 52,385.6 53.2,395.9 54.9,411.3 57.4,413 59.2,401 60.5,395 61.7,396.7 63.4,385.6 64.3,374.4 65.7,385.6 66.4,392.4 67.4,391.6 68.6,399.3 70.3,406.2 72,411.3 73.7,413 76.3,409.6 78,405.3 79.7,413.9 81,414.5 83.2,414.7 90,414.6 100,414.8 106,414.7 108,414.2 109,412.9 110.2,414.2 112,414.7 140,414.9 180,414.8 208,414.8 210,413.5 211.5,411 212.5,409.8 213.5,411.5 215,412.5 216.5,413.8 218,414.9 236,414.9 238,414.5 239,409 240,405.5 241,409 242,399 242.7,396.1 243.5,401 244.4,411 245.5,413.5 247,414.6 250,414.9 286.6,414.9" fill="none" stroke="#4f93cf" stroke-width="1" stroke-linejoin="round"/><line x1="40.3" y1="372.7" x2="40.30" y2="409.20" stroke="#000" stroke-width="1.4"/><polygon points="40.3,414.8 37.50,409.20 43.10,409.20" fill="#000"/><line x1="74.4" y1="372.7" x2="74.40" y2="409.20" stroke="#000" stroke-width="1.7" stroke-dasharray="1.4 1.0"/><polygon points="74.4,414.8 71.60,409.20 77.20,409.20" fill="#000"/><line x1="211.8" y1="372.7" x2="211.80" y2="409.20" stroke="#000" stroke-width="1.4"/><polygon points="211.8,414.8 209.00,409.20 214.60,409.20" fill="#000"/><line x1="236.8" y1="372.7" x2="236.80" y2="409.20" stroke="#000" stroke-width="1.4"/><polygon points="236.8,414.8 234.00,409.20 239.60,409.20" fill="#000"/><line x1="247.0" y1="372.7" x2="247.00" y2="409.20" stroke="#000" stroke-width="1.7" stroke-dasharray="1.4 1.0"/><polygon points="247.0,414.8 244.20,409.20 249.80,409.20" fill="#000"/>
<rect x="32.6" y="370.7" width="254.29999999999998" height="44.30000000000001" fill="none" stroke="#444" stroke-width="0.7"/>
<line x1="30.0" y1="415.00" x2="32.6" y2="415.00" stroke="#444" stroke-width="0.8"/>
<text x="28.9" y="418.50" font-family="Liberation Sans, sans-serif" font-size="8.2" fill="#1a1a1a" text-anchor="end">0</text>
<line x1="30.0" y1="396.30" x2="32.6" y2="396.30" stroke="#444" stroke-width="0.8"/>
<text x="28.9" y="399.80" font-family="Liberation Sans, sans-serif" font-size="8.2" fill="#1a1a1a" text-anchor="end">5</text>
<line x1="30.0" y1="377.60" x2="32.6" y2="377.60" stroke="#444" stroke-width="0.8"/>
<text x="28.9" y="381.10" font-family="Liberation Sans, sans-serif" font-size="8.2" fill="#1a1a1a" text-anchor="end">10</text>
<text transform="translate(16.4,417.4) rotate(-90)" font-family="Liberation Sans, sans-serif" font-size="8.4" fill="#1a1a1a" textLength="48.8" lengthAdjust="spacingAndGlyphs">Precip [mm]</text>
<line x1="32.50" y1="415.0" x2="32.50" y2="417.6" stroke="#444" stroke-width="0.8"/>
<text transform="translate(32.70,423.6) rotate(-30)" font-family="Liberation Sans, sans-serif" font-size="8.2" fill="#1a1a1a" text-anchor="end" textLength="35.3" lengthAdjust="spacingAndGlyphs">06-10-00</text>
<line x1="68.57" y1="415.0" x2="68.57" y2="417.6" stroke="#444" stroke-width="0.8"/>
<text transform="translate(68.77,423.6) rotate(-30)" font-family="Liberation Sans, sans-serif" font-size="8.2" fill="#1a1a1a" text-anchor="end" textLength="35.3" lengthAdjust="spacingAndGlyphs">06-11-00</text>
<line x1="104.64" y1="415.0" x2="104.64" y2="417.6" stroke="#444" stroke-width="0.8"/>
<text transform="translate(104.84,423.6) rotate(-30)" font-family="Liberation Sans, sans-serif" font-size="8.2" fill="#1a1a1a" text-anchor="end" textLength="35.3" lengthAdjust="spacingAndGlyphs">06-12-00</text>
<line x1="140.71" y1="415.0" x2="140.71" y2="417.6" stroke="#444" stroke-width="0.8"/>
<text transform="translate(140.91,423.6) rotate(-30)" font-family="Liberation Sans, sans-serif" font-size="8.2" fill="#1a1a1a" text-anchor="end" textLength="35.3" lengthAdjust="spacingAndGlyphs">06-13-00</text>
<line x1="176.78" y1="415.0" x2="176.78" y2="417.6" stroke="#444" stroke-width="0.8"/>
<text transform="translate(176.98,423.6) rotate(-30)" font-family="Liberation Sans, sans-serif" font-size="8.2" fill="#1a1a1a" text-anchor="end" textLength="35.3" lengthAdjust="spacingAndGlyphs">06-14-00</text>
<line x1="212.85" y1="415.0" x2="212.85" y2="417.6" stroke="#444" stroke-width="0.8"/>
<text transform="translate(213.05,423.6) rotate(-30)" font-family="Liberation Sans, sans-serif" font-size="8.2" fill="#1a1a1a" text-anchor="end" textLength="35.3" lengthAdjust="spacingAndGlyphs">06-15-00</text>
<line x1="248.92" y1="415.0" x2="248.92" y2="417.6" stroke="#444" stroke-width="0.8"/>
<text transform="translate(249.12,423.6) rotate(-30)" font-family="Liberation Sans, sans-serif" font-size="8.2" fill="#1a1a1a" text-anchor="end" textLength="35.3" lengthAdjust="spacingAndGlyphs">06-16-00</text>
<line x1="284.99" y1="415.0" x2="284.99" y2="417.6" stroke="#444" stroke-width="0.8"/>
<text transform="translate(285.19,423.6) rotate(-30)" font-family="Liberation Sans, sans-serif" font-size="8.2" fill="#1a1a1a" text-anchor="end" textLength="35.3" lengthAdjust="spacingAndGlyphs">06-17-00</text>
<text x="135.8" y="449.6" font-family="Liberation Sans, sans-serif" font-size="8.5" fill="#1a1a1a" textLength="46.9" lengthAdjust="spacingAndGlyphs">Day of year</text>
<text x="39.2" y="370.2" font-family="Liberation Sans, sans-serif" font-size="10.3" fill="#111" textLength="39.2" lengthAdjust="spacingAndGlyphs">Storm 1</text>
<text x="184.3" y="370.2" font-family="Liberation Sans, sans-serif" font-size="10.3" fill="#111" textLength="39.9" lengthAdjust="spacingAndGlyphs">Storm 2</text>
<text x="232.3" y="370.2" font-family="Liberation Sans, sans-serif" font-size="10.3" fill="#111" textLength="39.7" lengthAdjust="spacingAndGlyphs">Storm 3</text>
</svg></body></html>
